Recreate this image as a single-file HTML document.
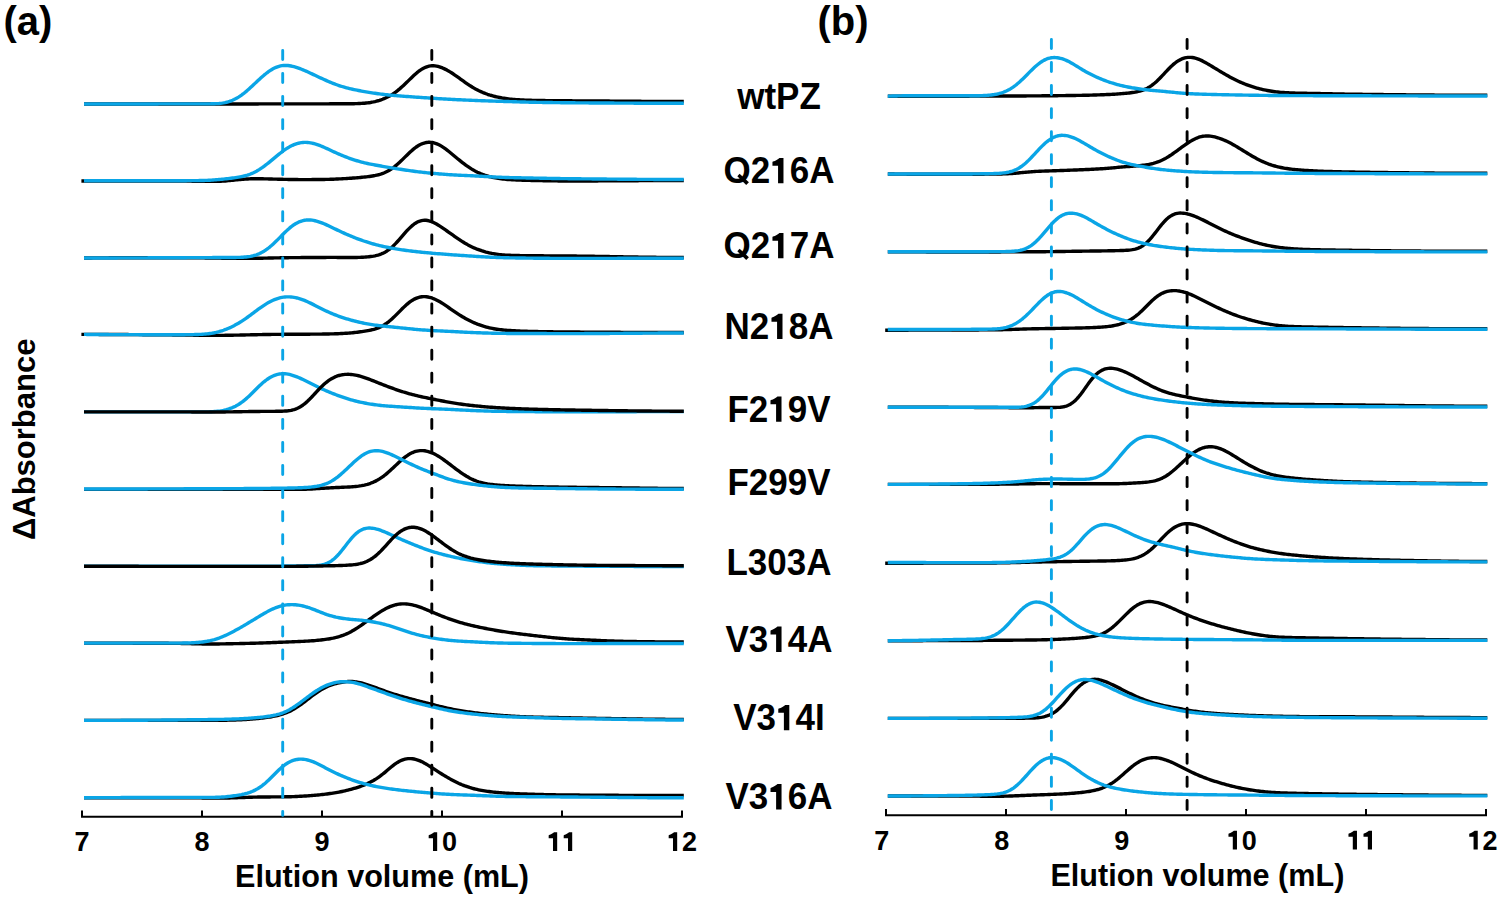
<!DOCTYPE html>
<html><head><meta charset="utf-8"><style>
html,body{margin:0;padding:0;background:#fff;}
svg{display:block;}
text{font-family:"Liberation Sans",sans-serif;font-weight:bold;fill:#000;font-kerning:none;}
.tk{font-size:27px;text-anchor:middle;}
.tt{font-size:30.6px;text-anchor:middle;}
.rl{font-size:35px;text-anchor:middle;}
.pl{font-size:40px;}
.yl{font-size:31px;text-anchor:middle;}
.one{fill-opacity:0;}
</style></head><body>
<svg width="1499" height="900" viewBox="0 0 1499 900">
<rect width="1499" height="900" fill="#fff"/>
<line x1="81" y1="816.8" x2="683" y2="816.8" stroke="#000" stroke-width="2"/>
<line x1="82" y1="810.4" x2="82" y2="816.8" stroke="#000" stroke-width="2"/>
<g transform="translate(82,851) scale(1,1.0)"><text x="0" y="0" class="tk">7</text></g>
<line x1="202" y1="810.4" x2="202" y2="816.8" stroke="#000" stroke-width="2"/>
<g transform="translate(202,851) scale(1,1.0)"><text x="0" y="0" class="tk">8</text></g>
<line x1="322" y1="810.4" x2="322" y2="816.8" stroke="#000" stroke-width="2"/>
<g transform="translate(322,851) scale(1,1.0)"><text x="0" y="0" class="tk">9</text></g>
<line x1="442" y1="810.4" x2="442" y2="816.8" stroke="#000" stroke-width="2"/>
<g transform="translate(442,851) scale(1,1.0)"><text x="0" y="0" class="tk"><tspan class="one">1</tspan>0</text><path transform="translate(-15.03,0.00) scale(0.02700,-0.02700)" d="M378 0 V692 H262 C222 662 150 612 78 590 Q63 586 63 572 V474 H223 V0 Z"/></g>
<line x1="562" y1="810.4" x2="562" y2="816.8" stroke="#000" stroke-width="2"/>
<g transform="translate(562,851) scale(1,1.0)"><text x="0" y="0" class="tk"><tspan class="one">1</tspan><tspan class="one">1</tspan></text><path transform="translate(-15.03,0.00) scale(0.02700,-0.02700)" d="M378 0 V692 H262 C222 662 150 612 78 590 Q63 586 63 572 V474 H223 V0 Z"/><path transform="translate(0.00,0.00) scale(0.02700,-0.02700)" d="M378 0 V692 H262 C222 662 150 612 78 590 Q63 586 63 572 V474 H223 V0 Z"/></g>
<line x1="682" y1="810.4" x2="682" y2="816.8" stroke="#000" stroke-width="2"/>
<g transform="translate(682,851) scale(1,1.0)"><text x="0" y="0" class="tk"><tspan class="one">1</tspan>2</text><path transform="translate(-15.03,0.00) scale(0.02700,-0.02700)" d="M378 0 V692 H262 C222 662 150 612 78 590 Q63 586 63 572 V474 H223 V0 Z"/></g>
<g transform="translate(382,887) scale(1,1.027)"><text x="0" y="0" class="tt">Elution volume (mL)</text></g>
<line x1="885" y1="815.3" x2="1487" y2="815.3" stroke="#000" stroke-width="2"/>
<line x1="886" y1="809" x2="886" y2="815.3" stroke="#000" stroke-width="2"/>
<g transform="translate(881.8,849.5) scale(1,1.0)"><text x="0" y="0" class="tk">7</text></g>
<line x1="1006" y1="809" x2="1006" y2="815.3" stroke="#000" stroke-width="2"/>
<g transform="translate(1001.8,849.5) scale(1,1.0)"><text x="0" y="0" class="tk">8</text></g>
<line x1="1126" y1="809" x2="1126" y2="815.3" stroke="#000" stroke-width="2"/>
<g transform="translate(1121.8,849.5) scale(1,1.0)"><text x="0" y="0" class="tk">9</text></g>
<line x1="1246" y1="809" x2="1246" y2="815.3" stroke="#000" stroke-width="2"/>
<g transform="translate(1241.8,849.5) scale(1,1.0)"><text x="0" y="0" class="tk"><tspan class="one">1</tspan>0</text><path transform="translate(-15.03,0.00) scale(0.02700,-0.02700)" d="M378 0 V692 H262 C222 662 150 612 78 590 Q63 586 63 572 V474 H223 V0 Z"/></g>
<line x1="1366" y1="809" x2="1366" y2="815.3" stroke="#000" stroke-width="2"/>
<g transform="translate(1361.8,849.5) scale(1,1.0)"><text x="0" y="0" class="tk"><tspan class="one">1</tspan><tspan class="one">1</tspan></text><path transform="translate(-15.03,0.00) scale(0.02700,-0.02700)" d="M378 0 V692 H262 C222 662 150 612 78 590 Q63 586 63 572 V474 H223 V0 Z"/><path transform="translate(0.00,0.00) scale(0.02700,-0.02700)" d="M378 0 V692 H262 C222 662 150 612 78 590 Q63 586 63 572 V474 H223 V0 Z"/></g>
<line x1="1486" y1="809" x2="1486" y2="815.3" stroke="#000" stroke-width="2"/>
<g transform="translate(1497.6,849.5) scale(1,1.0)"><text x="0" y="0" class="tk" style="text-anchor:end"><tspan class="one">1</tspan>2</text><path transform="translate(-30.06,0.00) scale(0.02700,-0.02700)" d="M378 0 V692 H262 C222 662 150 612 78 590 Q63 586 63 572 V474 H223 V0 Z"/></g>
<g transform="translate(1197.4,885.6) scale(1,1.027)"><text x="0" y="0" class="tt">Elution volume (mL)</text></g>
<path d="M84.0 104.00 L85.5 104.00 87.0 104.00 88.5 104.00 90.0 104.00 91.5 104.00 93.0 104.00 94.5 104.00 96.0 104.00 97.5 104.00 99.0 104.00 100.5 104.00 102.0 104.00 103.5 104.00 105.0 104.00 106.5 104.00 108.0 104.00 109.5 104.00 111.0 104.00 112.5 104.00 114.0 104.00 115.5 104.00 117.0 104.00 118.5 104.00 120.0 104.00 121.5 104.00 123.0 104.00 124.5 104.00 126.0 104.00 127.5 104.00 129.0 104.00 130.5 104.00 132.0 104.00 133.5 104.00 135.0 104.00 136.5 104.00 138.0 104.00 139.5 104.00 141.0 103.99 142.5 103.99 144.0 103.99 145.5 103.99 147.0 103.99 148.5 103.99 150.0 103.99 151.5 103.99 153.0 103.99 154.5 103.99 156.0 103.99 157.5 103.99 159.0 103.99 160.5 103.99 162.0 103.99 163.5 103.99 165.0 103.99 166.5 103.99 168.0 103.99 169.5 103.99 171.0 103.99 172.5 103.99 174.0 103.98 175.5 103.98 177.0 103.98 178.5 103.98 180.0 103.98 181.5 103.98 183.0 103.98 184.5 103.98 186.0 103.98 187.5 103.98 189.0 103.98 190.5 103.98 192.0 103.98 193.5 103.98 195.0 103.98 196.5 103.97 198.0 103.97 199.5 103.97 201.0 103.97 202.5 103.97 204.0 103.97 205.5 103.97 207.0 103.97 208.5 103.97 210.0 103.97 211.5 103.97 213.0 103.96 214.5 103.96 216.0 103.96 217.5 103.96 219.0 103.96 220.5 103.96 222.0 103.96 223.5 103.96 225.0 103.96 226.5 103.95 228.0 103.95 229.5 103.95 231.0 103.95 232.5 103.95 234.0 103.95 235.5 103.95 237.0 103.95 238.5 103.94 240.0 103.94 241.5 103.94 243.0 103.94 244.5 103.94 246.0 103.94 247.5 103.94 249.0 103.93 250.5 103.93 252.0 103.93 253.5 103.93 255.0 103.93 256.5 103.93 258.0 103.93 259.5 103.92 261.0 103.92 262.5 103.92 264.0 103.92 265.5 103.92 267.0 103.92 268.5 103.91 270.0 103.91 271.5 103.91 273.0 103.91 274.5 103.91 276.0 103.90 277.5 103.90 279.0 103.90 280.5 103.90 282.0 103.90 283.5 103.89 285.0 103.89 286.5 103.89 288.0 103.89 289.5 103.89 291.0 103.88 292.5 103.88 294.0 103.88 295.5 103.88 297.0 103.88 298.5 103.87 300.0 103.87 301.5 103.87 303.0 103.87 304.5 103.86 306.0 103.86 307.5 103.86 309.0 103.86 310.5 103.85 312.0 103.85 313.5 103.85 315.0 103.85 316.5 103.84 318.0 103.84 319.5 103.84 321.0 103.84 322.5 103.83 324.0 103.83 325.5 103.83 327.0 103.83 328.5 103.83 330.0 103.82 331.5 103.82 333.0 103.82 334.5 103.82 336.0 103.81 337.5 103.81 339.0 103.81 340.5 103.80 342.0 103.80 343.5 103.79 345.0 103.78 346.5 103.77 348.0 103.76 349.5 103.74 351.0 103.72 352.5 103.70 354.0 103.68 355.5 103.64 357.0 103.60 358.5 103.55 360.0 103.49 361.5 103.41 363.0 103.32 364.5 103.20 366.0 103.06 367.5 102.90 369.0 102.70 370.5 102.47 372.0 102.20 373.5 101.90 375.0 101.56 376.5 101.18 378.0 100.76 379.5 100.30 381.0 99.80 382.5 99.25 384.0 98.66 385.5 98.02 387.0 97.32 388.5 96.57 390.0 95.75 391.5 94.87 393.0 93.92 394.5 92.90 396.0 91.81 397.5 90.66 399.0 89.44 400.5 88.15 402.0 86.82 403.5 85.43 405.0 84.01 406.5 82.56 408.0 81.10 409.5 79.62 411.0 78.16 412.5 76.72 414.0 75.31 415.5 73.97 417.0 72.69 418.5 71.49 420.0 70.39 421.5 69.39 423.0 68.50 424.5 67.73 426.0 67.08 427.5 66.56 429.0 66.17 430.5 65.91 432.0 65.78 433.5 65.78 435.0 65.89 436.5 66.12 438.0 66.44 439.5 66.87 441.0 67.38 442.5 67.96 444.0 68.62 445.5 69.35 447.0 70.13 448.5 70.97 450.0 71.86 451.5 72.80 453.0 73.78 454.5 74.79 456.0 75.82 457.5 76.88 459.0 77.96 460.5 79.04 462.0 80.12 463.5 81.19 465.0 82.26 466.5 83.31 468.0 84.33 469.5 85.33 471.0 86.29 472.5 87.22 474.0 88.10 475.5 88.95 477.0 89.75 478.5 90.52 480.0 91.24 481.5 91.92 483.0 92.56 484.5 93.16 486.0 93.73 487.5 94.27 489.0 94.77 490.5 95.25 492.0 95.69 493.5 96.10 495.0 96.49 496.5 96.85 498.0 97.19 499.5 97.50 501.0 97.78 502.5 98.05 504.0 98.29 505.5 98.51 507.0 98.72 508.5 98.90 510.0 99.07 511.5 99.22 513.0 99.36 514.5 99.48 516.0 99.59 517.5 99.69 519.0 99.78 520.5 99.87 522.0 99.94 523.5 100.01 525.0 100.08 526.5 100.14 528.0 100.19 529.5 100.24 531.0 100.29 532.5 100.33 534.0 100.37 535.5 100.41 537.0 100.44 538.5 100.47 540.0 100.50 541.5 100.52 543.0 100.55 544.5 100.57 546.0 100.59 547.5 100.61 549.0 100.63 550.5 100.64 552.0 100.66 553.5 100.68 555.0 100.69 556.5 100.70 558.0 100.72 559.5 100.73 561.0 100.74 562.5 100.75 564.0 100.77 565.5 100.78 567.0 100.79 568.5 100.80 570.0 100.81 571.5 100.82 573.0 100.83 574.5 100.84 576.0 100.85 577.5 100.86 579.0 100.87 580.5 100.88 582.0 100.89 583.5 100.90 585.0 100.91 586.5 100.91 588.0 100.92 589.5 100.93 591.0 100.94 592.5 100.95 594.0 100.96 595.5 100.97 597.0 100.98 598.5 100.99 600.0 101.00 601.5 101.01 603.0 101.02 604.5 101.03 606.0 101.04 607.5 101.06 609.0 101.07 610.5 101.08 612.0 101.09 613.5 101.10 615.0 101.11 616.5 101.13 618.0 101.14 619.5 101.15 621.0 101.16 622.5 101.17 624.0 101.19 625.5 101.20 627.0 101.21 628.5 101.22 630.0 101.24 631.5 101.25 633.0 101.26 634.5 101.27 636.0 101.28 637.5 101.29 639.0 101.30 640.5 101.32 642.0 101.33 643.5 101.34 645.0 101.35 646.5 101.36 648.0 101.37 649.5 101.38 651.0 101.39 652.5 101.40 654.0 101.41 655.5 101.41 657.0 101.42 658.5 101.43 660.0 101.44 661.5 101.45 663.0 101.45 664.5 101.46 666.0 101.46 667.5 101.47 669.0 101.47 670.5 101.48 672.0 101.48 673.5 101.49 675.0 101.49 676.5 101.49 678.0 101.50 679.5 101.50 681.0 101.50 682.5 101.50 683.8 101.51" fill="none" stroke="#000000" stroke-width="3.4" stroke-linejoin="round" stroke-linecap="butt"/>
<path d="M84.0 104.00 L85.5 104.00 87.0 104.00 88.5 104.00 90.0 104.00 91.5 104.00 93.0 104.00 94.5 104.00 96.0 104.00 97.5 104.00 99.0 104.00 100.5 104.00 102.0 104.00 103.5 104.00 105.0 103.99 106.5 103.99 108.0 103.99 109.5 103.99 111.0 103.99 112.5 103.99 114.0 103.99 115.5 103.99 117.0 103.99 118.5 103.99 120.0 103.98 121.5 103.98 123.0 103.98 124.5 103.98 126.0 103.98 127.5 103.98 129.0 103.97 130.5 103.97 132.0 103.97 133.5 103.97 135.0 103.97 136.5 103.96 138.0 103.96 139.5 103.96 141.0 103.96 142.5 103.96 144.0 103.95 145.5 103.95 147.0 103.95 148.5 103.95 150.0 103.94 151.5 103.94 153.0 103.94 154.5 103.93 156.0 103.93 157.5 103.93 159.0 103.92 160.5 103.92 162.0 103.92 163.5 103.91 165.0 103.91 166.5 103.91 168.0 103.90 169.5 103.90 171.0 103.89 172.5 103.89 174.0 103.88 175.5 103.88 177.0 103.88 178.5 103.87 180.0 103.87 181.5 103.86 183.0 103.86 184.5 103.85 186.0 103.85 187.5 103.84 189.0 103.84 190.5 103.84 192.0 103.84 193.5 103.83 195.0 103.83 196.5 103.83 198.0 103.84 199.5 103.84 201.0 103.84 202.5 103.84 204.0 103.85 205.5 103.85 207.0 103.85 208.5 103.84 210.0 103.83 211.5 103.81 213.0 103.78 214.5 103.74 216.0 103.67 217.5 103.58 219.0 103.47 220.5 103.32 222.0 103.13 223.5 102.89 225.0 102.60 226.5 102.26 228.0 101.86 229.5 101.39 231.0 100.85 232.5 100.25 234.0 99.57 235.5 98.82 237.0 97.99 238.5 97.10 240.0 96.13 241.5 95.09 243.0 93.98 244.5 92.81 246.0 91.58 247.5 90.30 249.0 88.97 250.5 87.60 252.0 86.20 253.5 84.79 255.0 83.37 256.5 81.95 258.0 80.54 259.5 79.14 261.0 77.78 262.5 76.46 264.0 75.17 265.5 73.95 267.0 72.78 268.5 71.68 270.0 70.65 271.5 69.70 273.0 68.84 274.5 68.06 276.0 67.38 277.5 66.80 279.0 66.32 280.5 65.95 282.0 65.67 283.5 65.50 285.0 65.42 286.5 65.44 288.0 65.54 289.5 65.72 291.0 65.98 292.5 66.30 294.0 66.68 295.5 67.11 297.0 67.58 298.5 68.09 300.0 68.65 301.5 69.23 303.0 69.84 304.5 70.48 306.0 71.14 307.5 71.82 309.0 72.51 310.5 73.21 312.0 73.91 313.5 74.62 315.0 75.33 316.5 76.04 318.0 76.75 319.5 77.45 321.0 78.14 322.5 78.83 324.0 79.50 325.5 80.17 327.0 80.83 328.5 81.48 330.0 82.11 331.5 82.73 333.0 83.33 334.5 83.92 336.0 84.48 337.5 85.02 339.0 85.54 340.5 86.03 342.0 86.50 343.5 86.95 345.0 87.38 346.5 87.78 348.0 88.17 349.5 88.55 351.0 88.90 352.5 89.24 354.0 89.57 355.5 89.89 357.0 90.20 358.5 90.50 360.0 90.79 361.5 91.08 363.0 91.35 364.5 91.62 366.0 91.88 367.5 92.14 369.0 92.39 370.5 92.63 372.0 92.86 373.5 93.09 375.0 93.30 376.5 93.52 378.0 93.72 379.5 93.92 381.0 94.10 382.5 94.28 384.0 94.46 385.5 94.62 387.0 94.78 388.5 94.94 390.0 95.09 391.5 95.23 393.0 95.37 394.5 95.50 396.0 95.63 397.5 95.76 399.0 95.88 400.5 96.00 402.0 96.12 403.5 96.23 405.0 96.35 406.5 96.46 408.0 96.57 409.5 96.67 411.0 96.78 412.5 96.89 414.0 96.99 415.5 97.10 417.0 97.20 418.5 97.30 420.0 97.41 421.5 97.51 423.0 97.61 424.5 97.71 426.0 97.81 427.5 97.91 429.0 98.01 430.5 98.11 432.0 98.21 433.5 98.30 435.0 98.40 436.5 98.49 438.0 98.59 439.5 98.68 441.0 98.77 442.5 98.86 444.0 98.94 445.5 99.03 447.0 99.12 448.5 99.20 450.0 99.28 451.5 99.36 453.0 99.44 454.5 99.52 456.0 99.60 457.5 99.68 459.0 99.75 460.5 99.82 462.0 99.90 463.5 99.97 465.0 100.04 466.5 100.10 468.0 100.17 469.5 100.24 471.0 100.30 472.5 100.36 474.0 100.42 475.5 100.48 477.0 100.54 478.5 100.59 480.0 100.65 481.5 100.70 483.0 100.75 484.5 100.81 486.0 100.86 487.5 100.91 489.0 100.96 490.5 101.00 492.0 101.05 493.5 101.10 495.0 101.15 496.5 101.19 498.0 101.24 499.5 101.29 501.0 101.34 502.5 101.38 504.0 101.43 505.5 101.48 507.0 101.52 508.5 101.57 510.0 101.62 511.5 101.67 513.0 101.71 514.5 101.76 516.0 101.81 517.5 101.85 519.0 101.90 520.5 101.94 522.0 101.98 523.5 102.03 525.0 102.07 526.5 102.11 528.0 102.15 529.5 102.18 531.0 102.22 532.5 102.25 534.0 102.28 535.5 102.31 537.0 102.34 538.5 102.37 540.0 102.40 541.5 102.42 543.0 102.45 544.5 102.47 546.0 102.49 547.5 102.51 549.0 102.53 550.5 102.55 552.0 102.57 553.5 102.59 555.0 102.61 556.5 102.63 558.0 102.64 559.5 102.66 561.0 102.68 562.5 102.69 564.0 102.71 565.5 102.73 567.0 102.74 568.5 102.76 570.0 102.77 571.5 102.79 573.0 102.80 574.5 102.82 576.0 102.83 577.5 102.84 579.0 102.85 580.5 102.87 582.0 102.88 583.5 102.89 585.0 102.90 586.5 102.91 588.0 102.92 589.5 102.93 591.0 102.94 592.5 102.95 594.0 102.96 595.5 102.97 597.0 102.98 598.5 102.99 600.0 103.00 601.5 103.01 603.0 103.02 604.5 103.03 606.0 103.03 607.5 103.04 609.0 103.05 610.5 103.06 612.0 103.07 613.5 103.07 615.0 103.08 616.5 103.09 618.0 103.10 619.5 103.10 621.0 103.11 622.5 103.12 624.0 103.13 625.5 103.13 627.0 103.14 628.5 103.15 630.0 103.16 631.5 103.16 633.0 103.17 634.5 103.18 636.0 103.18 637.5 103.19 639.0 103.20 640.5 103.20 642.0 103.21 643.5 103.21 645.0 103.22 646.5 103.23 648.0 103.23 649.5 103.24 651.0 103.24 652.5 103.25 654.0 103.25 655.5 103.26 657.0 103.26 658.5 103.26 660.0 103.27 661.5 103.27 663.0 103.28 664.5 103.28 666.0 103.28 667.5 103.28 669.0 103.29 670.5 103.29 672.0 103.29 673.5 103.29 675.0 103.30 676.5 103.30 678.0 103.30 679.5 103.30 681.0 103.30 682.5 103.30 683.8 103.30" fill="none" stroke="#0aa5e6" stroke-width="3.4" stroke-linejoin="round" stroke-linecap="butt"/>
<path d="M81.4 181.00 L82.9 181.00 84.4 181.00 85.9 181.00 87.4 181.00 88.9 181.00 90.4 181.00 91.9 181.00 93.4 181.00 94.9 181.00 96.4 181.00 97.9 181.00 99.4 181.00 100.9 181.00 102.4 181.00 103.9 181.00 105.4 181.01 106.9 181.01 108.4 181.01 109.9 181.01 111.4 181.01 112.9 181.01 114.4 181.01 115.9 181.01 117.4 181.01 118.9 181.01 120.4 181.02 121.9 181.02 123.4 181.02 124.9 181.02 126.4 181.02 127.9 181.02 129.4 181.02 130.9 181.02 132.4 181.03 133.9 181.03 135.4 181.03 136.9 181.03 138.4 181.03 139.9 181.04 141.4 181.04 142.9 181.04 144.4 181.04 145.9 181.04 147.4 181.04 148.9 181.05 150.4 181.05 151.9 181.05 153.4 181.05 154.9 181.06 156.4 181.06 157.9 181.06 159.4 181.06 160.9 181.06 162.4 181.07 163.9 181.07 165.4 181.07 166.9 181.07 168.4 181.07 169.9 181.08 171.4 181.08 172.9 181.08 174.4 181.09 175.9 181.09 177.4 181.09 178.9 181.10 180.4 181.10 181.9 181.11 183.4 181.12 184.9 181.13 186.4 181.14 187.9 181.15 189.4 181.16 190.9 181.17 192.4 181.19 193.9 181.20 195.4 181.22 196.9 181.24 198.4 181.26 199.9 181.28 201.4 181.30 202.9 181.32 204.4 181.34 205.9 181.36 207.4 181.38 208.9 181.39 210.4 181.40 211.9 181.41 213.4 181.40 214.9 181.39 216.4 181.37 217.9 181.34 219.4 181.29 220.9 181.23 222.4 181.15 223.9 181.05 225.4 180.94 226.9 180.82 228.4 180.68 229.9 180.53 231.4 180.37 232.9 180.21 234.4 180.05 235.9 179.89 237.4 179.74 238.9 179.59 240.4 179.45 241.9 179.32 243.4 179.20 244.9 179.10 246.4 179.01 247.9 178.93 249.4 178.87 250.9 178.81 252.4 178.78 253.9 178.75 255.4 178.74 256.9 178.74 258.4 178.75 259.9 178.76 261.4 178.78 262.9 178.81 264.4 178.85 265.9 178.88 267.4 178.92 268.9 178.96 270.4 179.00 271.9 179.04 273.4 179.08 274.9 179.12 276.4 179.16 277.9 179.20 279.4 179.24 280.9 179.28 282.4 179.32 283.9 179.35 285.4 179.39 286.9 179.42 288.4 179.45 289.9 179.48 291.4 179.50 292.9 179.52 294.4 179.54 295.9 179.56 297.4 179.57 298.9 179.58 300.4 179.59 301.9 179.59 303.4 179.60 304.9 179.60 306.4 179.59 307.9 179.59 309.4 179.58 310.9 179.58 312.4 179.57 313.9 179.56 315.4 179.55 316.9 179.53 318.4 179.52 319.9 179.50 321.4 179.48 322.9 179.46 324.4 179.43 325.9 179.41 327.4 179.37 328.9 179.34 330.4 179.29 331.9 179.25 333.4 179.19 334.9 179.13 336.4 179.07 337.9 179.00 339.4 178.92 340.9 178.84 342.4 178.76 343.9 178.67 345.4 178.58 346.9 178.48 348.4 178.38 349.9 178.28 351.4 178.18 352.9 178.07 354.4 177.95 355.9 177.84 357.4 177.71 358.9 177.58 360.4 177.45 361.9 177.31 363.4 177.16 364.9 177.00 366.4 176.82 367.9 176.64 369.4 176.44 370.9 176.22 372.4 175.98 373.9 175.72 375.4 175.43 376.9 175.10 378.4 174.74 379.9 174.32 381.4 173.85 382.9 173.32 384.4 172.73 385.9 172.06 387.4 171.31 388.9 170.48 390.4 169.57 391.9 168.58 393.4 167.51 394.9 166.35 396.4 165.13 397.9 163.83 399.4 162.47 400.9 161.06 402.4 159.61 403.9 158.14 405.4 156.65 406.9 155.17 408.4 153.72 409.9 152.30 411.4 150.93 412.9 149.63 414.4 148.41 415.9 147.27 417.4 146.24 418.9 145.32 420.4 144.51 421.9 143.82 423.4 143.26 424.9 142.82 426.4 142.51 427.9 142.32 429.4 142.26 430.9 142.33 432.4 142.53 433.9 142.85 435.4 143.29 436.9 143.84 438.4 144.51 439.9 145.28 441.4 146.14 442.9 147.09 444.4 148.11 445.9 149.20 447.4 150.35 448.9 151.54 450.4 152.75 451.9 153.99 453.4 155.24 454.9 156.49 456.4 157.74 457.9 158.97 459.4 160.19 460.9 161.39 462.4 162.57 463.9 163.71 465.4 164.82 466.9 165.90 468.4 166.93 469.9 167.92 471.4 168.87 472.9 169.77 474.4 170.62 475.9 171.43 477.4 172.18 478.9 172.88 480.4 173.54 481.9 174.15 483.4 174.72 484.9 175.24 486.4 175.73 487.9 176.17 489.4 176.59 490.9 176.97 492.4 177.32 493.9 177.64 495.4 177.93 496.9 178.19 498.4 178.43 499.9 178.65 501.4 178.85 502.9 179.02 504.4 179.18 505.9 179.31 507.4 179.44 508.9 179.55 510.4 179.65 511.9 179.74 513.4 179.82 514.9 179.89 516.4 179.96 517.9 180.02 519.4 180.08 520.9 180.14 522.4 180.19 523.9 180.23 525.4 180.28 526.9 180.32 528.4 180.36 529.9 180.40 531.4 180.44 532.9 180.48 534.4 180.51 535.9 180.54 537.4 180.58 538.9 180.61 540.4 180.64 541.9 180.67 543.4 180.70 544.9 180.73 546.4 180.76 547.9 180.78 549.4 180.81 550.9 180.83 552.4 180.85 553.9 180.88 555.4 180.90 556.9 180.91 558.4 180.93 559.9 180.94 561.4 180.96 562.9 180.97 564.4 180.98 565.9 180.99 567.4 180.99 568.9 181.00 570.4 181.00 571.9 181.00 573.4 181.00 574.9 181.00 576.4 181.00 577.9 181.00 579.4 180.99 580.9 180.99 582.4 180.99 583.9 180.98 585.4 180.98 586.9 180.97 588.4 180.97 589.9 180.96 591.4 180.95 592.9 180.95 594.4 180.94 595.9 180.93 597.4 180.93 598.9 180.92 600.4 180.91 601.9 180.90 603.4 180.89 604.9 180.89 606.4 180.88 607.9 180.87 609.4 180.86 610.9 180.85 612.4 180.84 613.9 180.83 615.4 180.82 616.9 180.81 618.4 180.80 619.9 180.79 621.4 180.78 622.9 180.77 624.4 180.76 625.9 180.75 627.4 180.74 628.9 180.73 630.4 180.72 631.9 180.71 633.4 180.70 634.9 180.69 636.4 180.68 637.9 180.68 639.4 180.67 640.9 180.66 642.4 180.65 643.9 180.64 645.4 180.63 646.9 180.62 648.4 180.61 649.9 180.60 651.4 180.60 652.9 180.59 654.4 180.58 655.9 180.57 657.4 180.57 658.9 180.56 660.4 180.55 661.9 180.55 663.4 180.54 664.9 180.54 666.4 180.53 667.9 180.53 669.4 180.52 670.9 180.52 672.4 180.51 673.9 180.51 675.4 180.51 676.9 180.51 678.4 180.50 679.9 180.50 681.4 180.50 682.9 180.50 683.8 180.50" fill="none" stroke="#000000" stroke-width="3.4" stroke-linejoin="round" stroke-linecap="butt"/>
<path d="M84.0 180.80 L85.5 180.80 87.0 180.80 88.5 180.80 90.0 180.80 91.5 180.80 93.0 180.80 94.5 180.80 96.0 180.80 97.5 180.80 99.0 180.80 100.5 180.80 102.0 180.80 103.5 180.80 105.0 180.80 106.5 180.80 108.0 180.79 109.5 180.79 111.0 180.79 112.5 180.79 114.0 180.79 115.5 180.79 117.0 180.79 118.5 180.79 120.0 180.79 121.5 180.79 123.0 180.79 124.5 180.78 126.0 180.78 127.5 180.78 129.0 180.78 130.5 180.78 132.0 180.78 133.5 180.78 135.0 180.77 136.5 180.77 138.0 180.77 139.5 180.77 141.0 180.77 142.5 180.77 144.0 180.76 145.5 180.76 147.0 180.76 148.5 180.76 150.0 180.76 151.5 180.75 153.0 180.75 154.5 180.75 156.0 180.75 157.5 180.74 159.0 180.74 160.5 180.74 162.0 180.74 163.5 180.73 165.0 180.73 166.5 180.73 168.0 180.73 169.5 180.72 171.0 180.72 172.5 180.72 174.0 180.72 175.5 180.71 177.0 180.71 178.5 180.71 180.0 180.70 181.5 180.70 183.0 180.69 184.5 180.69 186.0 180.68 187.5 180.67 189.0 180.67 190.5 180.66 192.0 180.65 193.5 180.63 195.0 180.62 196.5 180.60 198.0 180.58 199.5 180.55 201.0 180.52 202.5 180.49 204.0 180.44 205.5 180.39 207.0 180.33 208.5 180.27 210.0 180.19 211.5 180.10 213.0 180.00 214.5 179.90 216.0 179.78 217.5 179.66 219.0 179.53 220.5 179.39 222.0 179.24 223.5 179.09 225.0 178.93 226.5 178.77 228.0 178.60 229.5 178.43 231.0 178.24 232.5 178.05 234.0 177.85 235.5 177.63 237.0 177.40 238.5 177.15 240.0 176.88 241.5 176.58 243.0 176.26 244.5 175.89 246.0 175.49 247.5 175.03 249.0 174.53 250.5 173.98 252.0 173.37 253.5 172.70 255.0 171.97 256.5 171.18 258.0 170.33 259.5 169.42 261.0 168.44 262.5 167.42 264.0 166.33 265.5 165.20 267.0 164.03 268.5 162.83 270.0 161.60 271.5 160.36 273.0 159.10 274.5 157.85 276.0 156.60 277.5 155.37 279.0 154.16 280.5 152.98 282.0 151.83 283.5 150.73 285.0 149.67 286.5 148.67 288.0 147.73 289.5 146.85 291.0 146.05 292.5 145.32 294.0 144.67 295.5 144.11 297.0 143.62 298.5 143.22 300.0 142.90 301.5 142.66 303.0 142.50 304.5 142.42 306.0 142.41 307.5 142.49 309.0 142.63 310.5 142.84 312.0 143.12 313.5 143.47 315.0 143.87 316.5 144.33 318.0 144.84 319.5 145.39 321.0 145.99 322.5 146.62 324.0 147.27 325.5 147.94 327.0 148.63 328.5 149.33 330.0 150.03 331.5 150.73 333.0 151.43 334.5 152.12 336.0 152.80 337.5 153.48 339.0 154.13 340.5 154.78 342.0 155.40 343.5 156.01 345.0 156.61 346.5 157.18 348.0 157.74 349.5 158.28 351.0 158.81 352.5 159.32 354.0 159.81 355.5 160.29 357.0 160.75 358.5 161.19 360.0 161.61 361.5 162.02 363.0 162.41 364.5 162.78 366.0 163.14 367.5 163.48 369.0 163.80 370.5 164.11 372.0 164.41 373.5 164.70 375.0 164.98 376.5 165.25 378.0 165.52 379.5 165.79 381.0 166.05 382.5 166.31 384.0 166.57 385.5 166.82 387.0 167.08 388.5 167.33 390.0 167.59 391.5 167.84 393.0 168.09 394.5 168.33 396.0 168.58 397.5 168.82 399.0 169.06 400.5 169.29 402.0 169.53 403.5 169.75 405.0 169.98 406.5 170.20 408.0 170.42 409.5 170.63 411.0 170.84 412.5 171.05 414.0 171.25 415.5 171.45 417.0 171.64 418.5 171.82 420.0 172.00 421.5 172.18 423.0 172.35 424.5 172.52 426.0 172.68 427.5 172.83 429.0 172.98 430.5 173.13 432.0 173.28 433.5 173.42 435.0 173.55 436.5 173.68 438.0 173.81 439.5 173.94 441.0 174.06 442.5 174.17 444.0 174.28 445.5 174.39 447.0 174.49 448.5 174.59 450.0 174.69 451.5 174.78 453.0 174.87 454.5 174.95 456.0 175.03 457.5 175.11 459.0 175.18 460.5 175.26 462.0 175.33 463.5 175.40 465.0 175.47 466.5 175.53 468.0 175.60 469.5 175.67 471.0 175.74 472.5 175.82 474.0 175.89 475.5 175.96 477.0 176.04 478.5 176.12 480.0 176.20 481.5 176.28 483.0 176.36 484.5 176.45 486.0 176.53 487.5 176.62 489.0 176.70 490.5 176.78 492.0 176.86 493.5 176.94 495.0 177.02 496.5 177.09 498.0 177.16 499.5 177.23 501.0 177.29 502.5 177.35 504.0 177.40 505.5 177.45 507.0 177.50 508.5 177.54 510.0 177.59 511.5 177.62 513.0 177.66 514.5 177.69 516.0 177.73 517.5 177.76 519.0 177.79 520.5 177.82 522.0 177.85 523.5 177.88 525.0 177.91 526.5 177.94 528.0 177.97 529.5 177.99 531.0 178.02 532.5 178.05 534.0 178.08 535.5 178.11 537.0 178.14 538.5 178.17 540.0 178.20 541.5 178.23 543.0 178.26 544.5 178.29 546.0 178.32 547.5 178.35 549.0 178.37 550.5 178.40 552.0 178.43 553.5 178.46 555.0 178.48 556.5 178.51 558.0 178.53 559.5 178.56 561.0 178.58 562.5 178.60 564.0 178.62 565.5 178.64 567.0 178.66 568.5 178.68 570.0 178.70 571.5 178.72 573.0 178.73 574.5 178.75 576.0 178.77 577.5 178.78 579.0 178.80 580.5 178.82 582.0 178.83 583.5 178.85 585.0 178.86 586.5 178.88 588.0 178.89 589.5 178.91 591.0 178.92 592.5 178.94 594.0 178.95 595.5 178.97 597.0 178.98 598.5 179.00 600.0 179.01 601.5 179.03 603.0 179.04 604.5 179.06 606.0 179.07 607.5 179.09 609.0 179.10 610.5 179.11 612.0 179.13 613.5 179.14 615.0 179.16 616.5 179.17 618.0 179.18 619.5 179.20 621.0 179.21 622.5 179.22 624.0 179.23 625.5 179.24 627.0 179.26 628.5 179.27 630.0 179.28 631.5 179.29 633.0 179.30 634.5 179.31 636.0 179.32 637.5 179.33 639.0 179.34 640.5 179.35 642.0 179.36 643.5 179.37 645.0 179.38 646.5 179.39 648.0 179.40 649.5 179.41 651.0 179.41 652.5 179.42 654.0 179.43 655.5 179.44 657.0 179.44 658.5 179.45 660.0 179.45 661.5 179.46 663.0 179.46 664.5 179.47 666.0 179.47 667.5 179.48 669.0 179.48 670.5 179.48 672.0 179.49 673.5 179.49 675.0 179.49 676.5 179.50 678.0 179.50 679.5 179.50 681.0 179.50 682.5 179.50 683.8 179.50" fill="none" stroke="#0aa5e6" stroke-width="3.4" stroke-linejoin="round" stroke-linecap="butt"/>
<path d="M84.0 258.00 L85.5 257.98 87.0 257.97 88.5 257.96 90.0 257.95 91.5 257.94 93.0 257.92 94.5 257.91 96.0 257.90 97.5 257.89 99.0 257.88 100.5 257.87 102.0 257.86 103.5 257.85 105.0 257.84 106.5 257.84 108.0 257.83 109.5 257.82 111.0 257.81 112.5 257.80 114.0 257.80 115.5 257.79 117.0 257.78 118.5 257.78 120.0 257.77 121.5 257.77 123.0 257.76 124.5 257.76 126.0 257.75 127.5 257.75 129.0 257.74 130.5 257.74 132.0 257.74 133.5 257.73 135.0 257.73 136.5 257.73 138.0 257.73 139.5 257.72 141.0 257.72 142.5 257.72 144.0 257.72 145.5 257.71 147.0 257.71 148.5 257.71 150.0 257.71 151.5 257.71 153.0 257.71 154.5 257.71 156.0 257.70 157.5 257.70 159.0 257.70 160.5 257.70 162.0 257.70 163.5 257.70 165.0 257.70 166.5 257.70 168.0 257.70 169.5 257.70 171.0 257.70 172.5 257.70 174.0 257.70 175.5 257.70 177.0 257.70 178.5 257.70 180.0 257.70 181.5 257.71 183.0 257.71 184.5 257.72 186.0 257.72 187.5 257.73 189.0 257.74 190.5 257.75 192.0 257.76 193.5 257.78 195.0 257.79 196.5 257.81 198.0 257.83 199.5 257.85 201.0 257.87 202.5 257.89 204.0 257.91 205.5 257.93 207.0 257.95 208.5 257.97 210.0 258.00 211.5 258.02 213.0 258.04 214.5 258.07 216.0 258.09 217.5 258.11 219.0 258.14 220.5 258.16 222.0 258.18 223.5 258.21 225.0 258.23 226.5 258.25 228.0 258.27 229.5 258.29 231.0 258.30 232.5 258.32 234.0 258.34 235.5 258.35 237.0 258.36 238.5 258.37 240.0 258.38 241.5 258.39 243.0 258.39 244.5 258.39 246.0 258.39 247.5 258.39 249.0 258.38 250.5 258.37 252.0 258.36 253.5 258.34 255.0 258.32 256.5 258.30 258.0 258.28 259.5 258.25 261.0 258.22 262.5 258.19 264.0 258.16 265.5 258.12 267.0 258.09 268.5 258.05 270.0 258.02 271.5 257.98 273.0 257.95 274.5 257.92 276.0 257.88 277.5 257.85 279.0 257.83 280.5 257.80 282.0 257.77 283.5 257.75 285.0 257.73 286.5 257.71 288.0 257.69 289.5 257.67 291.0 257.66 292.5 257.65 294.0 257.63 295.5 257.62 297.0 257.61 298.5 257.59 300.0 257.58 301.5 257.57 303.0 257.56 304.5 257.55 306.0 257.54 307.5 257.53 309.0 257.52 310.5 257.51 312.0 257.50 313.5 257.49 315.0 257.48 316.5 257.47 318.0 257.46 319.5 257.45 321.0 257.45 322.5 257.44 324.0 257.43 325.5 257.43 327.0 257.42 328.5 257.42 330.0 257.42 331.5 257.42 333.0 257.42 334.5 257.42 336.0 257.42 337.5 257.43 339.0 257.44 340.5 257.44 342.0 257.45 343.5 257.46 345.0 257.47 346.5 257.48 348.0 257.49 349.5 257.49 351.0 257.49 352.5 257.48 354.0 257.47 355.5 257.45 357.0 257.43 358.5 257.39 360.0 257.34 361.5 257.28 363.0 257.21 364.5 257.12 366.0 257.01 367.5 256.88 369.0 256.73 370.5 256.55 372.0 256.34 373.5 256.09 375.0 255.80 376.5 255.45 378.0 255.05 379.5 254.59 381.0 254.05 382.5 253.42 384.0 252.71 385.5 251.89 387.0 250.96 388.5 249.93 390.0 248.78 391.5 247.51 393.0 246.14 394.5 244.67 396.0 243.12 397.5 241.48 399.0 239.80 400.5 238.08 402.0 236.34 403.5 234.60 405.0 232.89 406.5 231.22 408.0 229.62 409.5 228.11 411.0 226.69 412.5 225.39 414.0 224.22 415.5 223.19 417.0 222.31 418.5 221.59 420.0 221.02 421.5 220.61 423.0 220.36 424.5 220.26 426.0 220.31 427.5 220.50 429.0 220.82 430.5 221.27 432.0 221.83 433.5 222.50 435.0 223.25 436.5 224.08 438.0 224.98 439.5 225.92 441.0 226.89 442.5 227.89 444.0 228.92 445.5 229.95 447.0 231.00 448.5 232.05 450.0 233.11 451.5 234.17 453.0 235.23 454.5 236.29 456.0 237.34 457.5 238.37 459.0 239.39 460.5 240.38 462.0 241.35 463.5 242.28 465.0 243.19 466.5 244.05 468.0 244.89 469.5 245.68 471.0 246.44 472.5 247.16 474.0 247.84 475.5 248.48 477.0 249.09 478.5 249.66 480.0 250.20 481.5 250.71 483.0 251.18 484.5 251.62 486.0 252.04 487.5 252.42 489.0 252.78 490.5 253.11 492.0 253.42 493.5 253.69 495.0 253.95 496.5 254.18 498.0 254.39 499.5 254.57 501.0 254.73 502.5 254.87 504.0 254.99 505.5 255.09 507.0 255.18 508.5 255.26 510.0 255.32 511.5 255.38 513.0 255.42 514.5 255.46 516.0 255.50 517.5 255.53 519.0 255.56 520.5 255.58 522.0 255.60 523.5 255.63 525.0 255.65 526.5 255.66 528.0 255.68 529.5 255.70 531.0 255.71 532.5 255.73 534.0 255.74 535.5 255.76 537.0 255.77 538.5 255.78 540.0 255.80 541.5 255.81 543.0 255.82 544.5 255.83 546.0 255.84 547.5 255.85 549.0 255.86 550.5 255.87 552.0 255.88 553.5 255.88 555.0 255.89 556.5 255.90 558.0 255.91 559.5 255.92 561.0 255.93 562.5 255.94 564.0 255.95 565.5 255.96 567.0 255.98 568.5 255.99 570.0 256.00 571.5 256.02 573.0 256.03 574.5 256.05 576.0 256.06 577.5 256.08 579.0 256.10 580.5 256.12 582.0 256.14 583.5 256.16 585.0 256.18 586.5 256.20 588.0 256.22 589.5 256.24 591.0 256.26 592.5 256.29 594.0 256.31 595.5 256.34 597.0 256.36 598.5 256.38 600.0 256.41 601.5 256.44 603.0 256.46 604.5 256.49 606.0 256.51 607.5 256.54 609.0 256.57 610.5 256.59 612.0 256.62 613.5 256.65 615.0 256.67 616.5 256.70 618.0 256.73 619.5 256.76 621.0 256.78 622.5 256.81 624.0 256.84 625.5 256.86 627.0 256.89 628.5 256.91 630.0 256.94 631.5 256.97 633.0 256.99 634.5 257.02 636.0 257.04 637.5 257.07 639.0 257.09 640.5 257.11 642.0 257.14 643.5 257.16 645.0 257.18 646.5 257.21 648.0 257.23 649.5 257.25 651.0 257.27 652.5 257.29 654.0 257.31 655.5 257.32 657.0 257.34 658.5 257.36 660.0 257.37 661.5 257.39 663.0 257.40 664.5 257.41 666.0 257.43 667.5 257.44 669.0 257.45 670.5 257.46 672.0 257.46 673.5 257.47 675.0 257.48 676.5 257.49 678.0 257.49 679.5 257.50 681.0 257.50 682.5 257.51 683.8 257.51" fill="none" stroke="#000000" stroke-width="3.4" stroke-linejoin="round" stroke-linecap="butt"/>
<path d="M84.0 258.00 L85.5 258.00 87.0 258.00 88.5 257.99 90.0 257.99 91.5 257.99 93.0 257.98 94.5 257.98 96.0 257.98 97.5 257.98 99.0 257.97 100.5 257.97 102.0 257.97 103.5 257.96 105.0 257.96 106.5 257.95 108.0 257.95 109.5 257.95 111.0 257.94 112.5 257.94 114.0 257.94 115.5 257.93 117.0 257.93 118.5 257.92 120.0 257.92 121.5 257.91 123.0 257.91 124.5 257.91 126.0 257.90 127.5 257.90 129.0 257.89 130.5 257.89 132.0 257.88 133.5 257.88 135.0 257.87 136.5 257.87 138.0 257.86 139.5 257.86 141.0 257.85 142.5 257.85 144.0 257.84 145.5 257.83 147.0 257.83 148.5 257.82 150.0 257.82 151.5 257.81 153.0 257.81 154.5 257.80 156.0 257.80 157.5 257.79 159.0 257.78 160.5 257.78 162.0 257.77 163.5 257.77 165.0 257.76 166.5 257.75 168.0 257.75 169.5 257.74 171.0 257.74 172.5 257.73 174.0 257.72 175.5 257.72 177.0 257.71 178.5 257.71 180.0 257.70 181.5 257.70 183.0 257.69 184.5 257.68 186.0 257.68 187.5 257.67 189.0 257.67 190.5 257.66 192.0 257.66 193.5 257.65 195.0 257.65 196.5 257.64 198.0 257.63 199.5 257.63 201.0 257.62 202.5 257.62 204.0 257.61 205.5 257.60 207.0 257.60 208.5 257.59 210.0 257.58 211.5 257.58 213.0 257.57 214.5 257.56 216.0 257.55 217.5 257.55 219.0 257.54 220.5 257.54 222.0 257.53 223.5 257.52 225.0 257.52 226.5 257.51 228.0 257.51 229.5 257.50 231.0 257.49 232.5 257.48 234.0 257.47 235.5 257.45 237.0 257.42 238.5 257.38 240.0 257.33 241.5 257.26 243.0 257.18 244.5 257.07 246.0 256.94 247.5 256.77 249.0 256.57 250.5 256.32 252.0 256.02 253.5 255.66 255.0 255.24 256.5 254.76 258.0 254.21 259.5 253.57 261.0 252.86 262.5 252.06 264.0 251.17 265.5 250.20 267.0 249.15 268.5 248.01 270.0 246.81 271.5 245.53 273.0 244.19 274.5 242.79 276.0 241.35 277.5 239.87 279.0 238.36 280.5 236.84 282.0 235.31 283.5 233.80 285.0 232.31 286.5 230.87 288.0 229.48 289.5 228.16 291.0 226.92 292.5 225.76 294.0 224.71 295.5 223.76 297.0 222.91 298.5 222.17 300.0 221.54 301.5 221.02 303.0 220.60 304.5 220.28 306.0 220.07 307.5 219.96 309.0 219.95 310.5 220.02 312.0 220.18 313.5 220.43 315.0 220.74 316.5 221.12 318.0 221.56 319.5 222.05 321.0 222.59 322.5 223.17 324.0 223.78 325.5 224.43 327.0 225.10 328.5 225.80 330.0 226.51 331.5 227.22 333.0 227.94 334.5 228.67 336.0 229.39 337.5 230.11 339.0 230.82 340.5 231.52 342.0 232.22 343.5 232.90 345.0 233.58 346.5 234.24 348.0 234.89 349.5 235.53 351.0 236.16 352.5 236.78 354.0 237.38 355.5 237.97 357.0 238.55 358.5 239.11 360.0 239.66 361.5 240.20 363.0 240.73 364.5 241.24 366.0 241.73 367.5 242.22 369.0 242.68 370.5 243.14 372.0 243.58 373.5 244.00 375.0 244.42 376.5 244.81 378.0 245.20 379.5 245.57 381.0 245.93 382.5 246.27 384.0 246.60 385.5 246.93 387.0 247.24 388.5 247.53 390.0 247.82 391.5 248.10 393.0 248.37 394.5 248.63 396.0 248.88 397.5 249.13 399.0 249.36 400.5 249.59 402.0 249.81 403.5 250.03 405.0 250.24 406.5 250.44 408.0 250.64 409.5 250.83 411.0 251.02 412.5 251.20 414.0 251.38 415.5 251.55 417.0 251.72 418.5 251.89 420.0 252.05 421.5 252.20 423.0 252.36 424.5 252.50 426.0 252.65 427.5 252.79 429.0 252.93 430.5 253.06 432.0 253.19 433.5 253.32 435.0 253.45 436.5 253.57 438.0 253.69 439.5 253.81 441.0 253.93 442.5 254.04 444.0 254.16 445.5 254.27 447.0 254.39 448.5 254.50 450.0 254.61 451.5 254.72 453.0 254.83 454.5 254.94 456.0 255.04 457.5 255.15 459.0 255.26 460.5 255.36 462.0 255.46 463.5 255.57 465.0 255.67 466.5 255.77 468.0 255.86 469.5 255.96 471.0 256.06 472.5 256.15 474.0 256.25 475.5 256.34 477.0 256.43 478.5 256.52 480.0 256.61 481.5 256.70 483.0 256.79 484.5 256.87 486.0 256.95 487.5 257.04 489.0 257.12 490.5 257.19 492.0 257.27 493.5 257.33 495.0 257.40 496.5 257.46 498.0 257.52 499.5 257.57 501.0 257.62 502.5 257.66 504.0 257.70 505.5 257.74 507.0 257.77 508.5 257.80 510.0 257.83 511.5 257.86 513.0 257.89 514.5 257.91 516.0 257.93 517.5 257.96 519.0 257.98 520.5 258.00 522.0 258.02 523.5 258.04 525.0 258.06 526.5 258.08 528.0 258.10 529.5 258.12 531.0 258.14 532.5 258.16 534.0 258.18 535.5 258.19 537.0 258.21 538.5 258.23 540.0 258.24 541.5 258.26 543.0 258.27 544.5 258.29 546.0 258.30 547.5 258.31 549.0 258.32 550.5 258.33 552.0 258.34 553.5 258.35 555.0 258.36 556.5 258.37 558.0 258.37 559.5 258.38 561.0 258.38 562.5 258.39 564.0 258.39 565.5 258.39 567.0 258.40 568.5 258.40 570.0 258.40 571.5 258.40 573.0 258.40 574.5 258.40 576.0 258.40 577.5 258.40 579.0 258.40 580.5 258.40 582.0 258.39 583.5 258.39 585.0 258.39 586.5 258.39 588.0 258.39 589.5 258.38 591.0 258.38 592.5 258.38 594.0 258.38 595.5 258.37 597.0 258.37 598.5 258.37 600.0 258.37 601.5 258.36 603.0 258.36 604.5 258.36 606.0 258.35 607.5 258.35 609.0 258.34 610.5 258.34 612.0 258.34 613.5 258.33 615.0 258.33 616.5 258.33 618.0 258.32 619.5 258.32 621.0 258.31 622.5 258.31 624.0 258.31 625.5 258.30 627.0 258.30 628.5 258.29 630.0 258.29 631.5 258.29 633.0 258.28 634.5 258.28 636.0 258.28 637.5 258.27 639.0 258.27 640.5 258.26 642.0 258.26 643.5 258.26 645.0 258.25 646.5 258.25 648.0 258.25 649.5 258.24 651.0 258.24 652.5 258.24 654.0 258.23 655.5 258.23 657.0 258.23 658.5 258.22 660.0 258.22 661.5 258.22 663.0 258.22 664.5 258.21 666.0 258.21 667.5 258.21 669.0 258.21 670.5 258.21 672.0 258.21 673.5 258.20 675.0 258.20 676.5 258.20 678.0 258.20 679.5 258.20 681.0 258.20 682.5 258.20 683.8 258.20" fill="none" stroke="#0aa5e6" stroke-width="3.4" stroke-linejoin="round" stroke-linecap="butt"/>
<path d="M81.4 334.40 L82.9 334.40 84.4 334.40 85.9 334.40 87.4 334.40 88.9 334.40 90.4 334.41 91.9 334.41 93.4 334.41 94.9 334.42 96.4 334.42 97.9 334.42 99.4 334.43 100.9 334.43 102.4 334.44 103.9 334.44 105.4 334.45 106.9 334.45 108.4 334.46 109.9 334.47 111.4 334.47 112.9 334.48 114.4 334.49 115.9 334.50 117.4 334.51 118.9 334.51 120.4 334.52 121.9 334.53 123.4 334.54 124.9 334.55 126.4 334.56 127.9 334.57 129.4 334.58 130.9 334.59 132.4 334.60 133.9 334.61 135.4 334.62 136.9 334.64 138.4 334.65 139.9 334.66 141.4 334.67 142.9 334.68 144.4 334.69 145.9 334.71 147.4 334.72 148.9 334.73 150.4 334.74 151.9 334.76 153.4 334.77 154.9 334.78 156.4 334.79 157.9 334.81 159.4 334.82 160.9 334.83 162.4 334.84 163.9 334.86 165.4 334.87 166.9 334.88 168.4 334.90 169.9 334.91 171.4 334.92 172.9 334.94 174.4 334.95 175.9 334.96 177.4 334.98 178.9 334.99 180.4 335.01 181.9 335.03 183.4 335.05 184.9 335.06 186.4 335.09 187.9 335.11 189.4 335.13 190.9 335.15 192.4 335.17 193.9 335.20 195.4 335.22 196.9 335.24 198.4 335.26 199.9 335.28 201.4 335.30 202.9 335.32 204.4 335.34 205.9 335.35 207.4 335.37 208.9 335.38 210.4 335.38 211.9 335.39 213.4 335.39 214.9 335.39 216.4 335.39 217.9 335.38 219.4 335.37 220.9 335.36 222.4 335.35 223.9 335.33 225.4 335.31 226.9 335.29 228.4 335.27 229.9 335.25 231.4 335.22 232.9 335.20 234.4 335.17 235.9 335.14 237.4 335.11 238.9 335.08 240.4 335.04 241.9 335.01 243.4 334.98 244.9 334.94 246.4 334.91 247.9 334.87 249.4 334.84 250.9 334.81 252.4 334.77 253.9 334.74 255.4 334.71 256.9 334.68 258.4 334.64 259.9 334.61 261.4 334.59 262.9 334.56 264.4 334.53 265.9 334.51 267.4 334.48 268.9 334.46 270.4 334.44 271.9 334.42 273.4 334.40 274.9 334.39 276.4 334.37 277.9 334.36 279.4 334.35 280.9 334.33 282.4 334.32 283.9 334.31 285.4 334.30 286.9 334.29 288.4 334.29 289.9 334.28 291.4 334.27 292.9 334.26 294.4 334.25 295.9 334.25 297.4 334.24 298.9 334.23 300.4 334.22 301.9 334.22 303.4 334.21 304.9 334.20 306.4 334.19 307.9 334.18 309.4 334.18 310.9 334.17 312.4 334.16 313.9 334.15 315.4 334.13 316.9 334.12 318.4 334.11 319.9 334.09 321.4 334.08 322.9 334.06 324.4 334.04 325.9 334.01 327.4 333.99 328.9 333.96 330.4 333.92 331.9 333.88 333.4 333.84 334.9 333.79 336.4 333.74 337.9 333.68 339.4 333.61 340.9 333.54 342.4 333.46 343.9 333.38 345.4 333.29 346.9 333.19 348.4 333.08 349.9 332.96 351.4 332.83 352.9 332.69 354.4 332.54 355.9 332.37 357.4 332.20 358.9 332.01 360.4 331.81 361.9 331.60 363.4 331.38 364.9 331.14 366.4 330.89 367.9 330.63 369.4 330.34 370.9 330.03 372.4 329.68 373.9 329.30 375.4 328.86 376.9 328.37 378.4 327.81 379.9 327.18 381.4 326.47 382.9 325.67 384.4 324.77 385.9 323.79 387.4 322.71 388.9 321.54 390.4 320.30 391.9 318.97 393.4 317.58 394.9 316.14 396.4 314.65 397.9 313.14 399.4 311.61 400.9 310.08 402.4 308.57 403.9 307.11 405.4 305.69 406.9 304.35 408.4 303.10 409.9 301.94 411.4 300.88 412.9 299.94 414.4 299.11 415.9 298.40 417.4 297.80 418.9 297.33 420.4 296.97 421.9 296.74 423.4 296.63 424.9 296.63 426.4 296.75 427.9 296.97 429.4 297.29 430.9 297.71 432.4 298.21 433.9 298.80 435.4 299.45 436.9 300.18 438.4 300.97 439.9 301.83 441.4 302.73 442.9 303.67 444.4 304.66 445.9 305.67 447.4 306.70 448.9 307.74 450.4 308.78 451.9 309.83 453.4 310.86 454.9 311.89 456.4 312.90 457.9 313.88 459.4 314.85 460.9 315.79 462.4 316.70 463.9 317.58 465.4 318.43 466.9 319.25 468.4 320.03 469.9 320.79 471.4 321.51 472.9 322.20 474.4 322.86 475.9 323.49 477.4 324.09 478.9 324.65 480.4 325.19 481.9 325.70 483.4 326.18 484.9 326.62 486.4 327.04 487.9 327.43 489.4 327.79 490.9 328.13 492.4 328.44 493.9 328.72 495.4 328.98 496.9 329.21 498.4 329.42 499.9 329.62 501.4 329.80 502.9 329.95 504.4 330.10 505.9 330.23 507.4 330.35 508.9 330.46 510.4 330.56 511.9 330.66 513.4 330.74 514.9 330.82 516.4 330.90 517.9 330.97 519.4 331.04 520.9 331.10 522.4 331.16 523.9 331.21 525.4 331.26 526.9 331.31 528.4 331.35 529.9 331.39 531.4 331.43 532.9 331.47 534.4 331.51 535.9 331.54 537.4 331.57 538.9 331.60 540.4 331.63 541.9 331.65 543.4 331.68 544.9 331.71 546.4 331.73 547.9 331.75 549.4 331.78 550.9 331.80 552.4 331.82 553.9 331.84 555.4 331.86 556.9 331.87 558.4 331.89 559.9 331.91 561.4 331.92 562.9 331.94 564.4 331.95 565.9 331.97 567.4 331.98 568.9 331.99 570.4 332.00 571.9 332.02 573.4 332.03 574.9 332.04 576.4 332.05 577.9 332.06 579.4 332.07 580.9 332.08 582.4 332.09 583.9 332.10 585.4 332.11 586.9 332.12 588.4 332.13 589.9 332.14 591.4 332.15 592.9 332.16 594.4 332.17 595.9 332.18 597.4 332.19 598.9 332.20 600.4 332.21 601.9 332.22 603.4 332.23 604.9 332.24 606.4 332.25 607.9 332.26 609.4 332.27 610.9 332.27 612.4 332.28 613.9 332.29 615.4 332.30 616.9 332.31 618.4 332.32 619.9 332.32 621.4 332.33 622.9 332.34 624.4 332.35 625.9 332.35 627.4 332.36 628.9 332.37 630.4 332.37 631.9 332.38 633.4 332.39 634.9 332.39 636.4 332.40 637.9 332.41 639.4 332.41 640.9 332.42 642.4 332.42 643.9 332.43 645.4 332.43 646.9 332.44 648.4 332.44 649.9 332.45 651.4 332.45 652.9 332.46 654.4 332.46 655.9 332.46 657.4 332.47 658.9 332.47 660.4 332.47 661.9 332.48 663.4 332.48 664.9 332.48 666.4 332.49 667.9 332.49 669.4 332.49 670.9 332.49 672.4 332.49 673.9 332.50 675.4 332.50 676.9 332.50 678.4 332.50 679.9 332.50 681.4 332.50 682.9 332.50 683.8 332.50" fill="none" stroke="#000000" stroke-width="3.4" stroke-linejoin="round" stroke-linecap="butt"/>
<path d="M84.0 334.40 L85.5 334.42 87.0 334.43 88.5 334.44 90.0 334.45 91.5 334.46 93.0 334.48 94.5 334.49 96.0 334.50 97.5 334.51 99.0 334.52 100.5 334.53 102.0 334.54 103.5 334.55 105.0 334.56 106.5 334.56 108.0 334.57 109.5 334.58 111.0 334.59 112.5 334.60 114.0 334.60 115.5 334.61 117.0 334.62 118.5 334.62 120.0 334.63 121.5 334.63 123.0 334.64 124.5 334.64 126.0 334.65 127.5 334.65 129.0 334.66 130.5 334.66 132.0 334.66 133.5 334.67 135.0 334.67 136.5 334.67 138.0 334.67 139.5 334.68 141.0 334.68 142.5 334.68 144.0 334.68 145.5 334.69 147.0 334.69 148.5 334.69 150.0 334.69 151.5 334.69 153.0 334.69 154.5 334.69 156.0 334.70 157.5 334.70 159.0 334.70 160.5 334.70 162.0 334.70 163.5 334.70 165.0 334.70 166.5 334.70 168.0 334.70 169.5 334.71 171.0 334.71 172.5 334.71 174.0 334.71 175.5 334.71 177.0 334.71 178.5 334.70 180.0 334.70 181.5 334.70 183.0 334.69 184.5 334.68 186.0 334.67 187.5 334.66 189.0 334.64 190.5 334.62 192.0 334.60 193.5 334.58 195.0 334.54 196.5 334.51 198.0 334.46 199.5 334.40 201.0 334.34 202.5 334.25 204.0 334.16 205.5 334.04 207.0 333.90 208.5 333.73 210.0 333.53 211.5 333.31 213.0 333.05 214.5 332.75 216.0 332.43 217.5 332.06 219.0 331.67 220.5 331.23 222.0 330.76 223.5 330.26 225.0 329.71 226.5 329.13 228.0 328.51 229.5 327.86 231.0 327.17 232.5 326.44 234.0 325.68 235.5 324.87 237.0 324.04 238.5 323.17 240.0 322.26 241.5 321.32 243.0 320.34 244.5 319.34 246.0 318.31 247.5 317.25 249.0 316.17 250.5 315.07 252.0 313.96 253.5 312.83 255.0 311.71 256.5 310.60 258.0 309.49 259.5 308.40 261.0 307.34 262.5 306.30 264.0 305.30 265.5 304.34 267.0 303.42 268.5 302.54 270.0 301.73 271.5 300.97 273.0 300.27 274.5 299.63 276.0 299.05 277.5 298.54 279.0 298.09 280.5 297.71 282.0 297.40 283.5 297.15 285.0 296.98 286.5 296.88 288.0 296.85 289.5 296.88 291.0 296.98 292.5 297.14 294.0 297.36 295.5 297.64 297.0 297.97 298.5 298.36 300.0 298.81 301.5 299.30 303.0 299.84 304.5 300.43 306.0 301.06 307.5 301.73 309.0 302.42 310.5 303.15 312.0 303.89 313.5 304.64 315.0 305.41 316.5 306.18 318.0 306.94 319.5 307.71 321.0 308.47 322.5 309.22 324.0 309.95 325.5 310.67 327.0 311.38 328.5 312.06 330.0 312.73 331.5 313.37 333.0 313.99 334.5 314.60 336.0 315.18 337.5 315.75 339.0 316.30 340.5 316.83 342.0 317.34 343.5 317.83 345.0 318.31 346.5 318.78 348.0 319.22 349.5 319.66 351.0 320.08 352.5 320.49 354.0 320.89 355.5 321.27 357.0 321.64 358.5 322.00 360.0 322.35 361.5 322.68 363.0 323.00 364.5 323.31 366.0 323.60 367.5 323.88 369.0 324.15 370.5 324.40 372.0 324.64 373.5 324.86 375.0 325.07 376.5 325.27 378.0 325.46 379.5 325.64 381.0 325.81 382.5 325.98 384.0 326.14 385.5 326.30 387.0 326.45 388.5 326.61 390.0 326.76 391.5 326.91 393.0 327.06 394.5 327.21 396.0 327.36 397.5 327.52 399.0 327.67 400.5 327.83 402.0 327.98 403.5 328.14 405.0 328.30 406.5 328.45 408.0 328.61 409.5 328.76 411.0 328.91 412.5 329.05 414.0 329.20 415.5 329.33 417.0 329.47 418.5 329.60 420.0 329.72 421.5 329.84 423.0 329.95 424.5 330.05 426.0 330.16 427.5 330.25 429.0 330.34 430.5 330.43 432.0 330.52 433.5 330.60 435.0 330.68 436.5 330.75 438.0 330.83 439.5 330.90 441.0 330.98 442.5 331.05 444.0 331.12 445.5 331.19 447.0 331.27 448.5 331.34 450.0 331.42 451.5 331.49 453.0 331.57 454.5 331.65 456.0 331.72 457.5 331.80 459.0 331.88 460.5 331.96 462.0 332.03 463.5 332.11 465.0 332.18 466.5 332.25 468.0 332.33 469.5 332.40 471.0 332.46 472.5 332.53 474.0 332.59 475.5 332.65 477.0 332.71 478.5 332.77 480.0 332.82 481.5 332.88 483.0 332.93 484.5 332.98 486.0 333.02 487.5 333.07 489.0 333.11 490.5 333.15 492.0 333.19 493.5 333.23 495.0 333.26 496.5 333.29 498.0 333.32 499.5 333.34 501.0 333.36 502.5 333.38 504.0 333.40 505.5 333.41 507.0 333.43 508.5 333.44 510.0 333.45 511.5 333.45 513.0 333.46 514.5 333.47 516.0 333.48 517.5 333.48 519.0 333.49 520.5 333.49 522.0 333.50 523.5 333.51 525.0 333.51 526.5 333.52 528.0 333.52 529.5 333.53 531.0 333.53 532.5 333.54 534.0 333.54 535.5 333.55 537.0 333.55 538.5 333.56 540.0 333.56 541.5 333.56 543.0 333.57 544.5 333.57 546.0 333.57 547.5 333.58 549.0 333.58 550.5 333.58 552.0 333.59 553.5 333.59 555.0 333.59 556.5 333.59 558.0 333.59 559.5 333.60 561.0 333.60 562.5 333.60 564.0 333.60 565.5 333.60 567.0 333.60 568.5 333.60 570.0 333.60 571.5 333.60 573.0 333.60 574.5 333.60 576.0 333.59 577.5 333.59 579.0 333.59 580.5 333.58 582.0 333.58 583.5 333.58 585.0 333.57 586.5 333.56 588.0 333.56 589.5 333.55 591.0 333.55 592.5 333.54 594.0 333.53 595.5 333.52 597.0 333.51 598.5 333.50 600.0 333.50 601.5 333.49 603.0 333.48 604.5 333.47 606.0 333.46 607.5 333.45 609.0 333.43 610.5 333.42 612.0 333.41 613.5 333.40 615.0 333.39 616.5 333.38 618.0 333.37 619.5 333.36 621.0 333.34 622.5 333.33 624.0 333.32 625.5 333.31 627.0 333.30 628.5 333.28 630.0 333.27 631.5 333.26 633.0 333.25 634.5 333.24 636.0 333.23 637.5 333.21 639.0 333.20 640.5 333.19 642.0 333.18 643.5 333.17 645.0 333.16 646.5 333.15 648.0 333.14 649.5 333.13 651.0 333.12 652.5 333.11 654.0 333.10 655.5 333.09 657.0 333.08 658.5 333.07 660.0 333.06 661.5 333.06 663.0 333.05 664.5 333.04 666.0 333.04 667.5 333.03 669.0 333.03 670.5 333.02 672.0 333.02 673.5 333.01 675.0 333.01 676.5 333.01 678.0 333.00 679.5 333.00 681.0 333.00 682.5 333.00 683.8 332.99" fill="none" stroke="#0aa5e6" stroke-width="3.4" stroke-linejoin="round" stroke-linecap="butt"/>
<path d="M84.0 411.90 L85.5 411.90 87.0 411.90 88.5 411.90 90.0 411.90 91.5 411.90 93.0 411.90 94.5 411.90 96.0 411.90 97.5 411.90 99.0 411.90 100.5 411.90 102.0 411.90 103.5 411.90 105.0 411.90 106.5 411.90 108.0 411.90 109.5 411.90 111.0 411.90 112.5 411.90 114.0 411.90 115.5 411.90 117.0 411.90 118.5 411.90 120.0 411.90 121.5 411.90 123.0 411.90 124.5 411.90 126.0 411.90 127.5 411.90 129.0 411.90 130.5 411.90 132.0 411.90 133.5 411.90 135.0 411.90 136.5 411.90 138.0 411.90 139.5 411.90 141.0 411.90 142.5 411.90 144.0 411.90 145.5 411.90 147.0 411.90 148.5 411.90 150.0 411.90 151.5 411.90 153.0 411.90 154.5 411.90 156.0 411.90 157.5 411.90 159.0 411.90 160.5 411.90 162.0 411.90 163.5 411.90 165.0 411.90 166.5 411.90 168.0 411.90 169.5 411.90 171.0 411.90 172.5 411.90 174.0 411.90 175.5 411.90 177.0 411.90 178.5 411.90 180.0 411.90 181.5 411.90 183.0 411.89 184.5 411.89 186.0 411.89 187.5 411.89 189.0 411.89 190.5 411.89 192.0 411.90 193.5 411.90 195.0 411.90 196.5 411.90 198.0 411.90 199.5 411.91 201.0 411.91 202.5 411.90 204.0 411.90 205.5 411.89 207.0 411.87 208.5 411.84 210.0 411.80 211.5 411.74 213.0 411.66 214.5 411.56 216.0 411.43 217.5 411.27 219.0 411.08 220.5 410.86 222.0 410.60 223.5 410.30 225.0 409.96 226.5 409.58 228.0 409.15 229.5 408.67 231.0 408.14 232.5 407.55 234.0 406.89 235.5 406.16 237.0 405.35 238.5 404.47 240.0 403.51 241.5 402.47 243.0 401.35 244.5 400.15 246.0 398.88 247.5 397.54 249.0 396.15 250.5 394.71 252.0 393.24 253.5 391.75 255.0 390.25 256.5 388.75 258.0 387.27 259.5 385.82 261.0 384.42 262.5 383.08 264.0 381.80 265.5 380.61 267.0 379.50 268.5 378.48 270.0 377.55 271.5 376.72 273.0 375.99 274.5 375.35 276.0 374.81 277.5 374.38 279.0 374.05 280.5 373.82 282.0 373.70 283.5 373.67 285.0 373.74 286.5 373.90 288.0 374.14 289.5 374.45 291.0 374.84 292.5 375.28 294.0 375.78 295.5 376.32 297.0 376.90 298.5 377.52 300.0 378.16 301.5 378.84 303.0 379.53 304.5 380.25 306.0 380.98 307.5 381.72 309.0 382.47 310.5 383.23 312.0 383.99 313.5 384.74 315.0 385.50 316.5 386.24 318.0 386.98 319.5 387.71 321.0 388.42 322.5 389.12 324.0 389.81 325.5 390.47 327.0 391.13 328.5 391.76 330.0 392.39 331.5 393.00 333.0 393.59 334.5 394.18 336.0 394.75 337.5 395.32 339.0 395.87 340.5 396.41 342.0 396.94 343.5 397.45 345.0 397.96 346.5 398.44 348.0 398.91 349.5 399.36 351.0 399.79 352.5 400.21 354.0 400.61 355.5 401.00 357.0 401.37 358.5 401.72 360.0 402.06 361.5 402.38 363.0 402.70 364.5 403.00 366.0 403.28 367.5 403.56 369.0 403.82 370.5 404.07 372.0 404.30 373.5 404.53 375.0 404.74 376.5 404.93 378.0 405.12 379.5 405.29 381.0 405.45 382.5 405.59 384.0 405.73 385.5 405.86 387.0 405.98 388.5 406.09 390.0 406.20 391.5 406.30 393.0 406.40 394.5 406.50 396.0 406.60 397.5 406.70 399.0 406.79 400.5 406.89 402.0 406.99 403.5 407.08 405.0 407.18 406.5 407.28 408.0 407.38 409.5 407.47 411.0 407.57 412.5 407.66 414.0 407.76 415.5 407.85 417.0 407.94 418.5 408.02 420.0 408.11 421.5 408.19 423.0 408.26 424.5 408.34 426.0 408.41 427.5 408.48 429.0 408.55 430.5 408.61 432.0 408.68 433.5 408.74 435.0 408.80 436.5 408.86 438.0 408.92 439.5 408.98 441.0 409.04 442.5 409.10 444.0 409.16 445.5 409.22 447.0 409.29 448.5 409.35 450.0 409.42 451.5 409.49 453.0 409.56 454.5 409.63 456.0 409.71 457.5 409.78 459.0 409.86 460.5 409.94 462.0 410.01 463.5 410.09 465.0 410.16 466.5 410.24 468.0 410.31 469.5 410.38 471.0 410.45 472.5 410.52 474.0 410.58 475.5 410.65 477.0 410.70 478.5 410.76 480.0 410.82 481.5 410.87 483.0 410.92 484.5 410.97 486.0 411.01 487.5 411.06 489.0 411.10 490.5 411.14 492.0 411.18 493.5 411.21 495.0 411.25 496.5 411.28 498.0 411.31 499.5 411.34 501.0 411.36 502.5 411.38 504.0 411.40 505.5 411.42 507.0 411.44 508.5 411.46 510.0 411.47 511.5 411.49 513.0 411.50 514.5 411.52 516.0 411.53 517.5 411.54 519.0 411.56 520.5 411.57 522.0 411.58 523.5 411.59 525.0 411.61 526.5 411.62 528.0 411.63 529.5 411.64 531.0 411.65 532.5 411.66 534.0 411.67 535.5 411.68 537.0 411.69 538.5 411.70 540.0 411.71 541.5 411.72 543.0 411.73 544.5 411.73 546.0 411.74 547.5 411.75 549.0 411.75 550.5 411.76 552.0 411.77 553.5 411.77 555.0 411.78 556.5 411.78 558.0 411.78 559.5 411.79 561.0 411.79 562.5 411.79 564.0 411.80 565.5 411.80 567.0 411.80 568.5 411.80 570.0 411.80 571.5 411.80 573.0 411.80 574.5 411.80 576.0 411.80 577.5 411.80 579.0 411.80 580.5 411.80 582.0 411.79 583.5 411.79 585.0 411.79 586.5 411.79 588.0 411.79 589.5 411.78 591.0 411.78 592.5 411.78 594.0 411.78 595.5 411.77 597.0 411.77 598.5 411.77 600.0 411.77 601.5 411.76 603.0 411.76 604.5 411.76 606.0 411.75 607.5 411.75 609.0 411.74 610.5 411.74 612.0 411.74 613.5 411.73 615.0 411.73 616.5 411.73 618.0 411.72 619.5 411.72 621.0 411.71 622.5 411.71 624.0 411.71 625.5 411.70 627.0 411.70 628.5 411.69 630.0 411.69 631.5 411.69 633.0 411.68 634.5 411.68 636.0 411.68 637.5 411.67 639.0 411.67 640.5 411.66 642.0 411.66 643.5 411.66 645.0 411.65 646.5 411.65 648.0 411.65 649.5 411.64 651.0 411.64 652.5 411.64 654.0 411.63 655.5 411.63 657.0 411.63 658.5 411.62 660.0 411.62 661.5 411.62 663.0 411.62 664.5 411.61 666.0 411.61 667.5 411.61 669.0 411.61 670.5 411.61 672.0 411.61 673.5 411.60 675.0 411.60 676.5 411.60 678.0 411.60 679.5 411.60 681.0 411.60 682.5 411.60 683.8 411.60" fill="none" stroke="#0aa5e6" stroke-width="3.4" stroke-linejoin="round" stroke-linecap="butt"/>
<path d="M84.0 411.90 L85.5 411.90 87.0 411.90 88.5 411.90 90.0 411.90 91.5 411.90 93.0 411.90 94.5 411.90 96.0 411.90 97.5 411.90 99.0 411.90 100.5 411.90 102.0 411.90 103.5 411.90 105.0 411.90 106.5 411.90 108.0 411.90 109.5 411.90 111.0 411.90 112.5 411.90 114.0 411.90 115.5 411.90 117.0 411.90 118.5 411.90 120.0 411.90 121.5 411.90 123.0 411.90 124.5 411.90 126.0 411.90 127.5 411.90 129.0 411.90 130.5 411.90 132.0 411.90 133.5 411.90 135.0 411.90 136.5 411.90 138.0 411.90 139.5 411.90 141.0 411.90 142.5 411.90 144.0 411.90 145.5 411.90 147.0 411.90 148.5 411.90 150.0 411.90 151.5 411.90 153.0 411.90 154.5 411.90 156.0 411.90 157.5 411.90 159.0 411.90 160.5 411.90 162.0 411.90 163.5 411.90 165.0 411.90 166.5 411.90 168.0 411.90 169.5 411.90 171.0 411.90 172.5 411.90 174.0 411.90 175.5 411.90 177.0 411.90 178.5 411.90 180.0 411.90 181.5 411.90 183.0 411.91 184.5 411.91 186.0 411.91 187.5 411.91 189.0 411.92 190.5 411.92 192.0 411.93 193.5 411.93 195.0 411.94 196.5 411.95 198.0 411.95 199.5 411.96 201.0 411.96 202.5 411.97 204.0 411.98 205.5 411.98 207.0 411.99 208.5 411.99 210.0 411.99 211.5 412.00 213.0 412.00 214.5 412.00 216.0 411.99 217.5 411.99 219.0 411.98 220.5 411.97 222.0 411.96 223.5 411.95 225.0 411.94 226.5 411.92 228.0 411.90 229.5 411.88 231.0 411.86 232.5 411.84 234.0 411.82 235.5 411.79 237.0 411.77 238.5 411.74 240.0 411.72 241.5 411.69 243.0 411.67 244.5 411.64 246.0 411.62 247.5 411.59 249.0 411.57 250.5 411.55 252.0 411.53 253.5 411.50 255.0 411.48 256.5 411.47 258.0 411.45 259.5 411.43 261.0 411.41 262.5 411.40 264.0 411.38 265.5 411.37 267.0 411.36 268.5 411.35 270.0 411.35 271.5 411.34 273.0 411.33 274.5 411.33 276.0 411.32 277.5 411.31 279.0 411.29 280.5 411.26 282.0 411.22 283.5 411.16 285.0 411.07 286.5 410.95 288.0 410.79 289.5 410.58 291.0 410.31 292.5 409.97 294.0 409.55 295.5 409.05 297.0 408.46 298.5 407.76 300.0 406.96 301.5 406.04 303.0 405.01 304.5 403.87 306.0 402.62 307.5 401.27 309.0 399.83 310.5 398.32 312.0 396.74 313.5 395.13 315.0 393.50 316.5 391.86 318.0 390.25 319.5 388.67 321.0 387.15 322.5 385.69 324.0 384.31 325.5 383.02 327.0 381.81 328.5 380.70 330.0 379.67 331.5 378.75 333.0 377.91 334.5 377.17 336.0 376.52 337.5 375.96 339.0 375.49 340.5 375.10 342.0 374.80 343.5 374.57 345.0 374.42 346.5 374.33 348.0 374.31 349.5 374.35 351.0 374.45 352.5 374.61 354.0 374.82 355.5 375.09 357.0 375.39 358.5 375.75 360.0 376.14 361.5 376.57 363.0 377.03 364.5 377.53 366.0 378.05 367.5 378.59 369.0 379.15 370.5 379.73 372.0 380.31 373.5 380.91 375.0 381.51 376.5 382.11 378.0 382.72 379.5 383.32 381.0 383.92 382.5 384.51 384.0 385.10 385.5 385.68 387.0 386.26 388.5 386.82 390.0 387.38 391.5 387.93 393.0 388.47 394.5 389.00 396.0 389.53 397.5 390.04 399.0 390.55 400.5 391.04 402.0 391.53 403.5 392.00 405.0 392.46 406.5 392.91 408.0 393.35 409.5 393.77 411.0 394.18 412.5 394.58 414.0 394.97 415.5 395.34 417.0 395.71 418.5 396.06 420.0 396.40 421.5 396.74 423.0 397.06 424.5 397.38 426.0 397.70 427.5 398.01 429.0 398.32 430.5 398.62 432.0 398.93 433.5 399.23 435.0 399.53 436.5 399.83 438.0 400.13 439.5 400.43 441.0 400.72 442.5 401.01 444.0 401.29 445.5 401.57 447.0 401.84 448.5 402.11 450.0 402.37 451.5 402.63 453.0 402.88 454.5 403.12 456.0 403.35 457.5 403.58 459.0 403.81 460.5 404.02 462.0 404.24 463.5 404.44 465.0 404.64 466.5 404.84 468.0 405.02 469.5 405.21 471.0 405.38 472.5 405.55 474.0 405.71 475.5 405.87 477.0 406.02 478.5 406.17 480.0 406.31 481.5 406.45 483.0 406.58 484.5 406.71 486.0 406.83 487.5 406.95 489.0 407.07 490.5 407.18 492.0 407.29 493.5 407.39 495.0 407.49 496.5 407.59 498.0 407.69 499.5 407.78 501.0 407.87 502.5 407.95 504.0 408.03 505.5 408.11 507.0 408.19 508.5 408.26 510.0 408.33 511.5 408.40 513.0 408.47 514.5 408.54 516.0 408.60 517.5 408.66 519.0 408.72 520.5 408.78 522.0 408.83 523.5 408.88 525.0 408.94 526.5 408.99 528.0 409.03 529.5 409.08 531.0 409.13 532.5 409.17 534.0 409.22 535.5 409.26 537.0 409.30 538.5 409.34 540.0 409.38 541.5 409.42 543.0 409.46 544.5 409.49 546.0 409.53 547.5 409.56 549.0 409.60 550.5 409.63 552.0 409.66 553.5 409.70 555.0 409.73 556.5 409.76 558.0 409.79 559.5 409.82 561.0 409.85 562.5 409.87 564.0 409.90 565.5 409.93 567.0 409.95 568.5 409.98 570.0 410.00 571.5 410.02 573.0 410.05 574.5 410.07 576.0 410.09 577.5 410.12 579.0 410.14 580.5 410.16 582.0 410.19 583.5 410.21 585.0 410.23 586.5 410.25 588.0 410.28 589.5 410.30 591.0 410.32 592.5 410.35 594.0 410.37 595.5 410.39 597.0 410.41 598.5 410.43 600.0 410.46 601.5 410.48 603.0 410.50 604.5 410.52 606.0 410.54 607.5 410.57 609.0 410.59 610.5 410.61 612.0 410.63 613.5 410.65 615.0 410.67 616.5 410.69 618.0 410.71 619.5 410.73 621.0 410.75 622.5 410.77 624.0 410.79 625.5 410.80 627.0 410.82 628.5 410.84 630.0 410.86 631.5 410.88 633.0 410.89 634.5 410.91 636.0 410.92 637.5 410.94 639.0 410.96 640.5 410.97 642.0 410.99 643.5 411.00 645.0 411.01 646.5 411.03 648.0 411.04 649.5 411.05 651.0 411.07 652.5 411.08 654.0 411.09 655.5 411.10 657.0 411.11 658.5 411.12 660.0 411.13 661.5 411.14 663.0 411.14 664.5 411.15 666.0 411.16 667.5 411.16 669.0 411.17 670.5 411.18 672.0 411.18 673.5 411.19 675.0 411.19 676.5 411.19 678.0 411.20 679.5 411.20 681.0 411.20 682.5 411.20 683.8 411.21" fill="none" stroke="#000000" stroke-width="3.4" stroke-linejoin="round" stroke-linecap="butt"/>
<path d="M84.0 489.40 L85.5 489.40 87.0 489.40 88.5 489.40 90.0 489.40 91.5 489.40 93.0 489.40 94.5 489.40 96.0 489.40 97.5 489.40 99.0 489.40 100.5 489.40 102.0 489.40 103.5 489.40 105.0 489.40 106.5 489.40 108.0 489.40 109.5 489.40 111.0 489.40 112.5 489.40 114.0 489.40 115.5 489.40 117.0 489.40 118.5 489.40 120.0 489.40 121.5 489.40 123.0 489.40 124.5 489.40 126.0 489.40 127.5 489.40 129.0 489.40 130.5 489.40 132.0 489.40 133.5 489.40 135.0 489.40 136.5 489.40 138.0 489.40 139.5 489.40 141.0 489.40 142.5 489.40 144.0 489.40 145.5 489.40 147.0 489.40 148.5 489.40 150.0 489.40 151.5 489.40 153.0 489.40 154.5 489.40 156.0 489.40 157.5 489.40 159.0 489.40 160.5 489.40 162.0 489.40 163.5 489.40 165.0 489.40 166.5 489.40 168.0 489.40 169.5 489.40 171.0 489.40 172.5 489.40 174.0 489.40 175.5 489.40 177.0 489.40 178.5 489.40 180.0 489.40 181.5 489.40 183.0 489.40 184.5 489.40 186.0 489.40 187.5 489.40 189.0 489.40 190.5 489.40 192.0 489.40 193.5 489.40 195.0 489.40 196.5 489.40 198.0 489.40 199.5 489.40 201.0 489.40 202.5 489.40 204.0 489.40 205.5 489.40 207.0 489.40 208.5 489.40 210.0 489.40 211.5 489.40 213.0 489.40 214.5 489.40 216.0 489.40 217.5 489.40 219.0 489.40 220.5 489.40 222.0 489.40 223.5 489.40 225.0 489.40 226.5 489.40 228.0 489.40 229.5 489.40 231.0 489.40 232.5 489.40 234.0 489.40 235.5 489.40 237.0 489.40 238.5 489.40 240.0 489.40 241.5 489.40 243.0 489.40 244.5 489.40 246.0 489.40 247.5 489.40 249.0 489.40 250.5 489.40 252.0 489.40 253.5 489.40 255.0 489.40 256.5 489.40 258.0 489.40 259.5 489.40 261.0 489.40 262.5 489.40 264.0 489.40 265.5 489.40 267.0 489.40 268.5 489.40 270.0 489.40 271.5 489.40 273.0 489.40 274.5 489.40 276.0 489.40 277.5 489.40 279.0 489.41 280.5 489.41 282.0 489.41 283.5 489.41 285.0 489.42 286.5 489.42 288.0 489.42 289.5 489.42 291.0 489.42 292.5 489.42 294.0 489.42 295.5 489.41 297.0 489.40 298.5 489.39 300.0 489.37 301.5 489.34 303.0 489.30 304.5 489.26 306.0 489.21 307.5 489.15 309.0 489.08 310.5 489.01 312.0 488.93 313.5 488.85 315.0 488.76 316.5 488.66 318.0 488.57 319.5 488.48 321.0 488.38 322.5 488.29 324.0 488.20 325.5 488.11 327.0 488.02 328.5 487.94 330.0 487.86 331.5 487.79 333.0 487.71 334.5 487.64 336.0 487.57 337.5 487.50 339.0 487.44 340.5 487.37 342.0 487.31 343.5 487.24 345.0 487.17 346.5 487.10 348.0 487.02 349.5 486.94 351.0 486.84 352.5 486.74 354.0 486.62 355.5 486.48 357.0 486.32 358.5 486.14 360.0 485.92 361.5 485.67 363.0 485.38 364.5 485.06 366.0 484.69 367.5 484.27 369.0 483.80 370.5 483.28 372.0 482.71 373.5 482.08 375.0 481.38 376.5 480.62 378.0 479.80 379.5 478.90 381.0 477.93 382.5 476.88 384.0 475.77 385.5 474.59 387.0 473.35 388.5 472.06 390.0 470.72 391.5 469.35 393.0 467.95 394.5 466.54 396.0 465.12 397.5 463.70 399.0 462.31 400.5 460.95 402.0 459.63 403.5 458.37 405.0 457.17 406.5 456.06 408.0 455.04 409.5 454.11 411.0 453.29 412.5 452.57 414.0 451.97 415.5 451.47 417.0 451.09 418.5 450.82 420.0 450.66 421.5 450.60 423.0 450.65 424.5 450.80 426.0 451.04 427.5 451.37 429.0 451.79 430.5 452.30 432.0 452.89 433.5 453.56 435.0 454.30 436.5 455.12 438.0 456.00 439.5 456.93 441.0 457.91 442.5 458.93 444.0 459.99 445.5 461.09 447.0 462.20 448.5 463.33 450.0 464.47 451.5 465.62 453.0 466.77 454.5 467.91 456.0 469.04 457.5 470.15 459.0 471.24 460.5 472.31 462.0 473.34 463.5 474.34 465.0 475.30 466.5 476.22 468.0 477.09 469.5 477.92 471.0 478.69 472.5 479.41 474.0 480.07 475.5 480.69 477.0 481.25 478.5 481.76 480.0 482.23 481.5 482.64 483.0 483.02 484.5 483.35 486.0 483.65 487.5 483.92 489.0 484.15 490.5 484.36 492.0 484.55 493.5 484.71 495.0 484.86 496.5 485.00 498.0 485.13 499.5 485.24 501.0 485.35 502.5 485.45 504.0 485.54 505.5 485.63 507.0 485.71 508.5 485.79 510.0 485.86 511.5 485.92 513.0 485.99 514.5 486.05 516.0 486.11 517.5 486.16 519.0 486.21 520.5 486.26 522.0 486.31 523.5 486.36 525.0 486.40 526.5 486.44 528.0 486.48 529.5 486.52 531.0 486.56 532.5 486.59 534.0 486.63 535.5 486.66 537.0 486.70 538.5 486.73 540.0 486.76 541.5 486.79 543.0 486.82 544.5 486.85 546.0 486.87 547.5 486.90 549.0 486.93 550.5 486.95 552.0 486.98 553.5 487.00 555.0 487.03 556.5 487.05 558.0 487.07 559.5 487.10 561.0 487.12 562.5 487.14 564.0 487.16 565.5 487.18 567.0 487.20 568.5 487.22 570.0 487.24 571.5 487.26 573.0 487.28 574.5 487.30 576.0 487.32 577.5 487.34 579.0 487.36 580.5 487.37 582.0 487.39 583.5 487.41 585.0 487.42 586.5 487.44 588.0 487.46 589.5 487.47 591.0 487.49 592.5 487.51 594.0 487.52 595.5 487.54 597.0 487.55 598.5 487.57 600.0 487.58 601.5 487.60 603.0 487.62 604.5 487.63 606.0 487.65 607.5 487.66 609.0 487.68 610.5 487.69 612.0 487.71 613.5 487.73 615.0 487.74 616.5 487.76 618.0 487.78 619.5 487.80 621.0 487.81 622.5 487.83 624.0 487.85 625.5 487.87 627.0 487.89 628.5 487.91 630.0 487.93 631.5 487.95 633.0 487.97 634.5 487.99 636.0 488.02 637.5 488.04 639.0 488.06 640.5 488.08 642.0 488.10 643.5 488.13 645.0 488.15 646.5 488.17 648.0 488.19 649.5 488.21 651.0 488.23 652.5 488.25 654.0 488.27 655.5 488.29 657.0 488.31 658.5 488.33 660.0 488.35 661.5 488.37 663.0 488.38 664.5 488.40 666.0 488.41 667.5 488.42 669.0 488.44 670.5 488.45 672.0 488.46 673.5 488.47 675.0 488.47 676.5 488.48 678.0 488.49 679.5 488.50 681.0 488.50 682.5 488.51 683.8 488.51" fill="none" stroke="#000000" stroke-width="3.4" stroke-linejoin="round" stroke-linecap="butt"/>
<path d="M84.0 489.00 L85.5 489.00 87.0 489.00 88.5 489.00 90.0 489.00 91.5 489.00 93.0 489.00 94.5 489.00 96.0 489.00 97.5 489.00 99.0 489.00 100.5 488.99 102.0 488.99 103.5 488.99 105.0 488.99 106.5 488.99 108.0 488.99 109.5 488.99 111.0 488.99 112.5 488.98 114.0 488.98 115.5 488.98 117.0 488.98 118.5 488.98 120.0 488.98 121.5 488.97 123.0 488.97 124.5 488.97 126.0 488.97 127.5 488.96 129.0 488.96 130.5 488.96 132.0 488.96 133.5 488.95 135.0 488.95 136.5 488.95 138.0 488.95 139.5 488.94 141.0 488.94 142.5 488.94 144.0 488.93 145.5 488.93 147.0 488.93 148.5 488.92 150.0 488.92 151.5 488.92 153.0 488.91 154.5 488.91 156.0 488.91 157.5 488.90 159.0 488.90 160.5 488.89 162.0 488.89 163.5 488.89 165.0 488.88 166.5 488.88 168.0 488.87 169.5 488.87 171.0 488.86 172.5 488.86 174.0 488.86 175.5 488.85 177.0 488.85 178.5 488.84 180.0 488.84 181.5 488.83 183.0 488.83 184.5 488.82 186.0 488.82 187.5 488.81 189.0 488.81 190.5 488.80 192.0 488.80 193.5 488.79 195.0 488.79 196.5 488.78 198.0 488.77 199.5 488.77 201.0 488.76 202.5 488.76 204.0 488.75 205.5 488.75 207.0 488.74 208.5 488.73 210.0 488.73 211.5 488.72 213.0 488.72 214.5 488.71 216.0 488.70 217.5 488.70 219.0 488.69 220.5 488.69 222.0 488.68 223.5 488.67 225.0 488.67 226.5 488.66 228.0 488.66 229.5 488.65 231.0 488.64 232.5 488.64 234.0 488.63 235.5 488.62 237.0 488.61 238.5 488.61 240.0 488.60 241.5 488.59 243.0 488.58 244.5 488.57 246.0 488.57 247.5 488.56 249.0 488.55 250.5 488.53 252.0 488.52 253.5 488.51 255.0 488.50 256.5 488.48 258.0 488.47 259.5 488.46 261.0 488.44 262.5 488.43 264.0 488.41 265.5 488.39 267.0 488.38 268.5 488.36 270.0 488.34 271.5 488.32 273.0 488.30 274.5 488.28 276.0 488.26 277.5 488.24 279.0 488.22 280.5 488.20 282.0 488.17 283.5 488.15 285.0 488.12 286.5 488.10 288.0 488.07 289.5 488.04 291.0 488.00 292.5 487.97 294.0 487.93 295.5 487.89 297.0 487.84 298.5 487.79 300.0 487.74 301.5 487.68 303.0 487.61 304.5 487.53 306.0 487.44 307.5 487.34 309.0 487.22 310.5 487.08 312.0 486.93 313.5 486.75 315.0 486.54 316.5 486.31 318.0 486.03 319.5 485.72 321.0 485.36 322.5 484.95 324.0 484.49 325.5 483.96 327.0 483.37 328.5 482.70 330.0 481.96 331.5 481.13 333.0 480.23 334.5 479.24 336.0 478.18 337.5 477.05 339.0 475.85 340.5 474.60 342.0 473.29 343.5 471.95 345.0 470.57 346.5 469.16 348.0 467.75 349.5 466.33 351.0 464.91 352.5 463.50 354.0 462.12 355.5 460.77 357.0 459.47 358.5 458.23 360.0 457.05 361.5 455.95 363.0 454.94 364.5 454.03 366.0 453.22 367.5 452.52 369.0 451.93 370.5 451.45 372.0 451.09 373.5 450.83 375.0 450.69 376.5 450.65 378.0 450.71 379.5 450.87 381.0 451.12 382.5 451.45 384.0 451.86 385.5 452.32 387.0 452.85 388.5 453.42 390.0 454.03 391.5 454.67 393.0 455.34 394.5 456.03 396.0 456.74 397.5 457.46 399.0 458.20 400.5 458.94 402.0 459.69 403.5 460.44 405.0 461.19 406.5 461.94 408.0 462.68 409.5 463.41 411.0 464.14 412.5 464.85 414.0 465.55 415.5 466.24 417.0 466.91 418.5 467.57 420.0 468.21 421.5 468.84 423.0 469.46 424.5 470.07 426.0 470.66 427.5 471.25 429.0 471.83 430.5 472.41 432.0 472.98 433.5 473.56 435.0 474.13 436.5 474.70 438.0 475.27 439.5 475.84 441.0 476.40 442.5 476.96 444.0 477.50 445.5 478.03 447.0 478.54 448.5 479.03 450.0 479.50 451.5 479.94 453.0 480.36 454.5 480.75 456.0 481.12 457.5 481.48 459.0 481.81 460.5 482.13 462.0 482.43 463.5 482.71 465.0 482.99 466.5 483.25 468.0 483.50 469.5 483.74 471.0 483.98 472.5 484.20 474.0 484.42 475.5 484.64 477.0 484.84 478.5 485.04 480.0 485.23 481.5 485.41 483.0 485.59 484.5 485.75 486.0 485.92 487.5 486.07 489.0 486.22 490.5 486.36 492.0 486.49 493.5 486.62 495.0 486.75 496.5 486.87 498.0 486.98 499.5 487.08 501.0 487.19 502.5 487.28 504.0 487.37 505.5 487.45 507.0 487.53 508.5 487.60 510.0 487.66 511.5 487.72 513.0 487.77 514.5 487.82 516.0 487.86 517.5 487.90 519.0 487.94 520.5 487.97 522.0 488.00 523.5 488.03 525.0 488.05 526.5 488.08 528.0 488.10 529.5 488.12 531.0 488.14 532.5 488.16 534.0 488.18 535.5 488.19 537.0 488.21 538.5 488.23 540.0 488.25 541.5 488.26 543.0 488.28 544.5 488.30 546.0 488.32 547.5 488.33 549.0 488.35 550.5 488.37 552.0 488.39 553.5 488.40 555.0 488.42 556.5 488.44 558.0 488.46 559.5 488.48 561.0 488.50 562.5 488.52 564.0 488.53 565.5 488.55 567.0 488.57 568.5 488.59 570.0 488.61 571.5 488.63 573.0 488.65 574.5 488.67 576.0 488.69 577.5 488.70 579.0 488.72 580.5 488.74 582.0 488.76 583.5 488.78 585.0 488.79 586.5 488.81 588.0 488.83 589.5 488.85 591.0 488.86 592.5 488.88 594.0 488.89 595.5 488.91 597.0 488.92 598.5 488.94 600.0 488.95 601.5 488.97 603.0 488.98 604.5 488.99 606.0 489.01 607.5 489.02 609.0 489.03 610.5 489.04 612.0 489.05 613.5 489.06 615.0 489.07 616.5 489.08 618.0 489.09 619.5 489.10 621.0 489.11 622.5 489.11 624.0 489.12 625.5 489.13 627.0 489.14 628.5 489.14 630.0 489.15 631.5 489.16 633.0 489.16 634.5 489.17 636.0 489.18 637.5 489.18 639.0 489.19 640.5 489.20 642.0 489.20 643.5 489.21 645.0 489.21 646.5 489.22 648.0 489.23 649.5 489.23 651.0 489.24 652.5 489.24 654.0 489.25 655.5 489.25 657.0 489.26 658.5 489.26 660.0 489.27 661.5 489.27 663.0 489.27 664.5 489.28 666.0 489.28 667.5 489.28 669.0 489.29 670.5 489.29 672.0 489.29 673.5 489.29 675.0 489.29 676.5 489.30 678.0 489.30 679.5 489.30 681.0 489.30 682.5 489.30 683.8 489.30" fill="none" stroke="#0aa5e6" stroke-width="3.4" stroke-linejoin="round" stroke-linecap="butt"/>
<path d="M84.0 566.20 L85.5 566.20 87.0 566.20 88.5 566.20 90.0 566.20 91.5 566.20 93.0 566.20 94.5 566.20 96.0 566.20 97.5 566.20 99.0 566.20 100.5 566.20 102.0 566.20 103.5 566.20 105.0 566.20 106.5 566.20 108.0 566.20 109.5 566.20 111.0 566.20 112.5 566.20 114.0 566.20 115.5 566.20 117.0 566.20 118.5 566.20 120.0 566.20 121.5 566.20 123.0 566.20 124.5 566.20 126.0 566.20 127.5 566.20 129.0 566.20 130.5 566.20 132.0 566.20 133.5 566.20 135.0 566.20 136.5 566.20 138.0 566.20 139.5 566.19 141.0 566.19 142.5 566.19 144.0 566.19 145.5 566.19 147.0 566.19 148.5 566.19 150.0 566.19 151.5 566.19 153.0 566.19 154.5 566.19 156.0 566.19 157.5 566.19 159.0 566.19 160.5 566.19 162.0 566.19 163.5 566.19 165.0 566.19 166.5 566.19 168.0 566.19 169.5 566.19 171.0 566.19 172.5 566.19 174.0 566.18 175.5 566.18 177.0 566.18 178.5 566.18 180.0 566.18 181.5 566.18 183.0 566.18 184.5 566.18 186.0 566.18 187.5 566.18 189.0 566.18 190.5 566.18 192.0 566.18 193.5 566.18 195.0 566.17 196.5 566.17 198.0 566.17 199.5 566.17 201.0 566.17 202.5 566.17 204.0 566.17 205.5 566.17 207.0 566.17 208.5 566.17 210.0 566.17 211.5 566.16 213.0 566.16 214.5 566.16 216.0 566.16 217.5 566.16 219.0 566.16 220.5 566.16 222.0 566.16 223.5 566.16 225.0 566.16 226.5 566.15 228.0 566.15 229.5 566.15 231.0 566.15 232.5 566.15 234.0 566.15 235.5 566.15 237.0 566.15 238.5 566.14 240.0 566.14 241.5 566.14 243.0 566.14 244.5 566.14 246.0 566.14 247.5 566.14 249.0 566.13 250.5 566.13 252.0 566.13 253.5 566.13 255.0 566.13 256.5 566.13 258.0 566.13 259.5 566.13 261.0 566.12 262.5 566.12 264.0 566.12 265.5 566.12 267.0 566.12 268.5 566.12 270.0 566.12 271.5 566.12 273.0 566.11 274.5 566.11 276.0 566.11 277.5 566.10 279.0 566.10 280.5 566.09 282.0 566.08 283.5 566.07 285.0 566.06 286.5 566.05 288.0 566.03 289.5 566.01 291.0 566.00 292.5 565.98 294.0 565.96 295.5 565.93 297.0 565.91 298.5 565.89 300.0 565.87 301.5 565.85 303.0 565.84 304.5 565.82 306.0 565.81 307.5 565.79 309.0 565.78 310.5 565.76 312.0 565.73 313.5 565.69 315.0 565.64 316.5 565.56 318.0 565.44 319.5 565.28 321.0 565.06 322.5 564.77 324.0 564.39 325.5 563.92 327.0 563.34 328.5 562.64 330.0 561.80 331.5 560.82 333.0 559.70 334.5 558.44 336.0 557.03 337.5 555.50 339.0 553.85 340.5 552.10 342.0 550.27 343.5 548.37 345.0 546.44 346.5 544.50 348.0 542.57 349.5 540.69 351.0 538.88 352.5 537.17 354.0 535.58 355.5 534.13 357.0 532.82 358.5 531.68 360.0 530.70 361.5 529.88 363.0 529.22 364.5 528.72 366.0 528.37 367.5 528.15 369.0 528.05 370.5 528.07 372.0 528.19 373.5 528.39 375.0 528.68 376.5 529.04 378.0 529.46 379.5 529.94 381.0 530.47 382.5 531.04 384.0 531.64 385.5 532.28 387.0 532.93 388.5 533.60 390.0 534.29 391.5 534.97 393.0 535.66 394.5 536.35 396.0 537.04 397.5 537.72 399.0 538.39 400.5 539.06 402.0 539.72 403.5 540.37 405.0 541.01 406.5 541.64 408.0 542.27 409.5 542.90 411.0 543.51 412.5 544.13 414.0 544.73 415.5 545.34 417.0 545.94 418.5 546.53 420.0 547.11 421.5 547.68 423.0 548.25 424.5 548.80 426.0 549.34 427.5 549.86 429.0 550.37 430.5 550.86 432.0 551.34 433.5 551.81 435.0 552.26 436.5 552.70 438.0 553.13 439.5 553.55 441.0 553.96 442.5 554.36 444.0 554.75 445.5 555.13 447.0 555.50 448.5 555.86 450.0 556.22 451.5 556.56 453.0 556.90 454.5 557.24 456.0 557.56 457.5 557.88 459.0 558.19 460.5 558.49 462.0 558.79 463.5 559.08 465.0 559.35 466.5 559.62 468.0 559.89 469.5 560.14 471.0 560.39 472.5 560.63 474.0 560.86 475.5 561.09 477.0 561.31 478.5 561.52 480.0 561.73 481.5 561.94 483.0 562.14 484.5 562.33 486.0 562.52 487.5 562.71 489.0 562.88 490.5 563.06 492.0 563.22 493.5 563.38 495.0 563.53 496.5 563.67 498.0 563.81 499.5 563.93 501.0 564.05 502.5 564.17 504.0 564.28 505.5 564.38 507.0 564.48 508.5 564.57 510.0 564.67 511.5 564.75 513.0 564.84 514.5 564.92 516.0 565.00 517.5 565.07 519.0 565.15 520.5 565.22 522.0 565.28 523.5 565.34 525.0 565.40 526.5 565.46 528.0 565.51 529.5 565.56 531.0 565.60 532.5 565.65 534.0 565.68 535.5 565.72 537.0 565.75 538.5 565.77 540.0 565.80 541.5 565.82 543.0 565.84 544.5 565.85 546.0 565.87 547.5 565.89 549.0 565.90 550.5 565.91 552.0 565.93 553.5 565.94 555.0 565.95 556.5 565.96 558.0 565.98 559.5 565.99 561.0 566.00 562.5 566.01 564.0 566.03 565.5 566.04 567.0 566.05 568.5 566.06 570.0 566.07 571.5 566.09 573.0 566.10 574.5 566.11 576.0 566.12 577.5 566.13 579.0 566.14 580.5 566.15 582.0 566.16 583.5 566.17 585.0 566.18 586.5 566.19 588.0 566.20 589.5 566.21 591.0 566.22 592.5 566.23 594.0 566.24 595.5 566.25 597.0 566.26 598.5 566.27 600.0 566.28 601.5 566.28 603.0 566.29 604.5 566.30 606.0 566.31 607.5 566.32 609.0 566.32 610.5 566.33 612.0 566.34 613.5 566.35 615.0 566.35 616.5 566.36 618.0 566.37 619.5 566.37 621.0 566.38 622.5 566.38 624.0 566.39 625.5 566.40 627.0 566.40 628.5 566.41 630.0 566.41 631.5 566.42 633.0 566.42 634.5 566.43 636.0 566.43 637.5 566.44 639.0 566.44 640.5 566.44 642.0 566.45 643.5 566.45 645.0 566.46 646.5 566.46 648.0 566.46 649.5 566.47 651.0 566.47 652.5 566.47 654.0 566.47 655.5 566.48 657.0 566.48 658.5 566.48 660.0 566.48 661.5 566.49 663.0 566.49 664.5 566.49 666.0 566.49 667.5 566.49 669.0 566.49 670.5 566.49 672.0 566.50 673.5 566.50 675.0 566.50 676.5 566.50 678.0 566.50 679.5 566.50 681.0 566.50 682.5 566.50 683.8 566.50" fill="none" stroke="#0aa5e6" stroke-width="3.4" stroke-linejoin="round" stroke-linecap="butt"/>
<path d="M84.0 566.20 L85.5 566.20 87.0 566.21 88.5 566.21 90.0 566.22 91.5 566.22 93.0 566.23 94.5 566.23 96.0 566.23 97.5 566.24 99.0 566.24 100.5 566.25 102.0 566.25 103.5 566.25 105.0 566.26 106.5 566.26 108.0 566.26 109.5 566.27 111.0 566.27 112.5 566.28 114.0 566.28 115.5 566.28 117.0 566.28 118.5 566.29 120.0 566.29 121.5 566.29 123.0 566.30 124.5 566.30 126.0 566.30 127.5 566.31 129.0 566.31 130.5 566.31 132.0 566.31 133.5 566.32 135.0 566.32 136.5 566.32 138.0 566.32 139.5 566.33 141.0 566.33 142.5 566.33 144.0 566.33 145.5 566.34 147.0 566.34 148.5 566.34 150.0 566.34 151.5 566.34 153.0 566.35 154.5 566.35 156.0 566.35 157.5 566.35 159.0 566.35 160.5 566.35 162.0 566.36 163.5 566.36 165.0 566.36 166.5 566.36 168.0 566.36 169.5 566.36 171.0 566.37 172.5 566.37 174.0 566.37 175.5 566.37 177.0 566.37 178.5 566.37 180.0 566.37 181.5 566.37 183.0 566.38 184.5 566.38 186.0 566.38 187.5 566.38 189.0 566.38 190.5 566.38 192.0 566.38 193.5 566.38 195.0 566.38 196.5 566.38 198.0 566.39 199.5 566.39 201.0 566.39 202.5 566.39 204.0 566.39 205.5 566.39 207.0 566.39 208.5 566.39 210.0 566.39 211.5 566.39 213.0 566.39 214.5 566.39 216.0 566.39 217.5 566.39 219.0 566.39 220.5 566.39 222.0 566.39 223.5 566.40 225.0 566.40 226.5 566.40 228.0 566.40 229.5 566.40 231.0 566.40 232.5 566.40 234.0 566.40 235.5 566.40 237.0 566.40 238.5 566.40 240.0 566.40 241.5 566.40 243.0 566.40 244.5 566.40 246.0 566.40 247.5 566.40 249.0 566.40 250.5 566.40 252.0 566.40 253.5 566.40 255.0 566.40 256.5 566.40 258.0 566.40 259.5 566.40 261.0 566.40 262.5 566.40 264.0 566.40 265.5 566.40 267.0 566.40 268.5 566.40 270.0 566.40 271.5 566.40 273.0 566.40 274.5 566.40 276.0 566.40 277.5 566.40 279.0 566.40 280.5 566.40 282.0 566.40 283.5 566.39 285.0 566.39 286.5 566.38 288.0 566.38 289.5 566.37 291.0 566.36 292.5 566.35 294.0 566.34 295.5 566.33 297.0 566.32 298.5 566.30 300.0 566.29 301.5 566.27 303.0 566.25 304.5 566.23 306.0 566.21 307.5 566.19 309.0 566.17 310.5 566.15 312.0 566.13 313.5 566.10 315.0 566.08 316.5 566.05 318.0 566.03 319.5 566.00 321.0 565.97 322.5 565.94 324.0 565.91 325.5 565.89 327.0 565.86 328.5 565.82 330.0 565.79 331.5 565.76 333.0 565.72 334.5 565.69 336.0 565.65 337.5 565.61 339.0 565.56 340.5 565.51 342.0 565.46 343.5 565.40 345.0 565.34 346.5 565.26 348.0 565.17 349.5 565.07 351.0 564.96 352.5 564.82 354.0 564.65 355.5 564.46 357.0 564.23 358.5 563.96 360.0 563.64 361.5 563.26 363.0 562.82 364.5 562.32 366.0 561.73 367.5 561.07 369.0 560.31 370.5 559.46 372.0 558.52 373.5 557.47 375.0 556.33 376.5 555.09 378.0 553.76 379.5 552.35 381.0 550.86 382.5 549.30 384.0 547.69 385.5 546.04 387.0 544.37 388.5 542.70 390.0 541.05 391.5 539.44 393.0 537.89 394.5 536.40 396.0 535.00 397.5 533.70 399.0 532.50 400.5 531.42 402.0 530.45 403.5 529.61 405.0 528.90 406.5 528.31 408.0 527.85 409.5 527.52 411.0 527.32 412.5 527.24 414.0 527.29 415.5 527.45 417.0 527.71 418.5 528.09 420.0 528.57 421.5 529.14 423.0 529.79 424.5 530.54 426.0 531.35 427.5 532.24 429.0 533.19 430.5 534.18 432.0 535.23 433.5 536.30 435.0 537.41 436.5 538.54 438.0 539.68 439.5 540.83 441.0 541.97 442.5 543.11 444.0 544.24 445.5 545.34 447.0 546.42 448.5 547.47 450.0 548.49 451.5 549.47 453.0 550.40 454.5 551.30 456.0 552.14 457.5 552.94 459.0 553.69 460.5 554.38 462.0 555.03 463.5 555.64 465.0 556.20 466.5 556.72 468.0 557.20 469.5 557.64 471.0 558.06 472.5 558.44 474.0 558.80 475.5 559.13 477.0 559.44 478.5 559.73 480.0 560.00 481.5 560.25 483.0 560.49 484.5 560.71 486.0 560.92 487.5 561.12 489.0 561.30 490.5 561.48 492.0 561.64 493.5 561.80 495.0 561.95 496.5 562.09 498.0 562.23 499.5 562.36 501.0 562.48 502.5 562.60 504.0 562.71 505.5 562.82 507.0 562.92 508.5 563.02 510.0 563.11 511.5 563.19 513.0 563.28 514.5 563.35 516.0 563.43 517.5 563.50 519.0 563.56 520.5 563.63 522.0 563.69 523.5 563.74 525.0 563.80 526.5 563.85 528.0 563.91 529.5 563.96 531.0 564.01 532.5 564.05 534.0 564.10 535.5 564.14 537.0 564.19 538.5 564.23 540.0 564.27 541.5 564.31 543.0 564.35 544.5 564.39 546.0 564.43 547.5 564.46 549.0 564.50 550.5 564.54 552.0 564.57 553.5 564.61 555.0 564.64 556.5 564.67 558.0 564.71 559.5 564.74 561.0 564.77 562.5 564.81 564.0 564.84 565.5 564.87 567.0 564.90 568.5 564.93 570.0 564.96 571.5 564.99 573.0 565.02 574.5 565.04 576.0 565.07 577.5 565.10 579.0 565.12 580.5 565.14 582.0 565.17 583.5 565.19 585.0 565.21 586.5 565.23 588.0 565.24 589.5 565.26 591.0 565.28 592.5 565.29 594.0 565.30 595.5 565.32 597.0 565.33 598.5 565.34 600.0 565.35 601.5 565.36 603.0 565.37 604.5 565.39 606.0 565.40 607.5 565.41 609.0 565.42 610.5 565.43 612.0 565.44 613.5 565.45 615.0 565.45 616.5 565.46 618.0 565.47 619.5 565.48 621.0 565.49 622.5 565.50 624.0 565.51 625.5 565.52 627.0 565.53 628.5 565.54 630.0 565.54 631.5 565.55 633.0 565.56 634.5 565.57 636.0 565.58 637.5 565.58 639.0 565.59 640.5 565.60 642.0 565.60 643.5 565.61 645.0 565.62 646.5 565.62 648.0 565.63 649.5 565.63 651.0 565.64 652.5 565.65 654.0 565.65 655.5 565.66 657.0 565.66 658.5 565.66 660.0 565.67 661.5 565.67 663.0 565.68 664.5 565.68 666.0 565.68 667.5 565.68 669.0 565.69 670.5 565.69 672.0 565.69 673.5 565.69 675.0 565.70 676.5 565.70 678.0 565.70 679.5 565.70 681.0 565.70 682.5 565.70 683.8 565.70" fill="none" stroke="#000000" stroke-width="3.4" stroke-linejoin="round" stroke-linecap="butt"/>
<path d="M84.0 643.10 L85.5 643.10 87.0 643.10 88.5 643.10 90.0 643.10 91.5 643.10 93.0 643.10 94.5 643.10 96.0 643.10 97.5 643.11 99.0 643.11 100.5 643.11 102.0 643.11 103.5 643.11 105.0 643.11 106.5 643.12 108.0 643.12 109.5 643.12 111.0 643.12 112.5 643.13 114.0 643.13 115.5 643.13 117.0 643.13 118.5 643.14 120.0 643.14 121.5 643.14 123.0 643.15 124.5 643.15 126.0 643.16 127.5 643.16 129.0 643.16 130.5 643.17 132.0 643.17 133.5 643.18 135.0 643.18 136.5 643.19 138.0 643.19 139.5 643.20 141.0 643.20 142.5 643.21 144.0 643.22 145.5 643.22 147.0 643.23 148.5 643.23 150.0 643.24 151.5 643.25 153.0 643.25 154.5 643.26 156.0 643.26 157.5 643.27 159.0 643.28 160.5 643.28 162.0 643.29 163.5 643.30 165.0 643.30 166.5 643.31 168.0 643.32 169.5 643.33 171.0 643.34 172.5 643.35 174.0 643.36 175.5 643.37 177.0 643.39 178.5 643.40 180.0 643.42 181.5 643.45 183.0 643.47 184.5 643.50 186.0 643.54 187.5 643.57 189.0 643.61 190.5 643.65 192.0 643.69 193.5 643.73 195.0 643.77 196.5 643.80 198.0 643.84 199.5 643.87 201.0 643.90 202.5 643.93 204.0 643.95 205.5 643.96 207.0 643.97 208.5 643.98 210.0 643.98 211.5 643.98 213.0 643.98 214.5 643.97 216.0 643.96 217.5 643.94 219.0 643.93 220.5 643.91 222.0 643.89 223.5 643.86 225.0 643.84 226.5 643.81 228.0 643.79 229.5 643.76 231.0 643.73 232.5 643.70 234.0 643.67 235.5 643.64 237.0 643.61 238.5 643.58 240.0 643.55 241.5 643.52 243.0 643.48 244.5 643.45 246.0 643.42 247.5 643.38 249.0 643.34 250.5 643.31 252.0 643.27 253.5 643.23 255.0 643.18 256.5 643.14 258.0 643.09 259.5 643.05 261.0 643.00 262.5 642.95 264.0 642.90 265.5 642.84 267.0 642.79 268.5 642.73 270.0 642.68 271.5 642.62 273.0 642.56 274.5 642.50 276.0 642.44 277.5 642.38 279.0 642.32 280.5 642.26 282.0 642.20 283.5 642.14 285.0 642.08 286.5 642.02 288.0 641.96 289.5 641.90 291.0 641.84 292.5 641.78 294.0 641.72 295.5 641.66 297.0 641.60 298.5 641.54 300.0 641.47 301.5 641.40 303.0 641.33 304.5 641.25 306.0 641.17 307.5 641.09 309.0 641.00 310.5 640.90 312.0 640.80 313.5 640.69 315.0 640.57 316.5 640.43 318.0 640.29 319.5 640.14 321.0 639.98 322.5 639.80 324.0 639.61 325.5 639.41 327.0 639.19 328.5 638.96 330.0 638.70 331.5 638.42 333.0 638.13 334.5 637.80 336.0 637.45 337.5 637.06 339.0 636.64 340.5 636.18 342.0 635.67 343.5 635.13 345.0 634.54 346.5 633.90 348.0 633.21 349.5 632.47 351.0 631.68 352.5 630.84 354.0 629.96 355.5 629.05 357.0 628.09 358.5 627.11 360.0 626.09 361.5 625.06 363.0 624.00 364.5 622.93 366.0 621.85 367.5 620.77 369.0 619.68 370.5 618.59 372.0 617.51 373.5 616.43 375.0 615.38 376.5 614.34 378.0 613.33 379.5 612.35 381.0 611.40 382.5 610.50 384.0 609.63 385.5 608.82 387.0 608.05 388.5 607.34 390.0 606.68 391.5 606.09 393.0 605.57 394.5 605.11 396.0 604.72 397.5 604.41 399.0 604.16 400.5 603.99 402.0 603.88 403.5 603.85 405.0 603.88 406.5 603.97 408.0 604.13 409.5 604.34 411.0 604.61 412.5 604.92 414.0 605.29 415.5 605.69 417.0 606.14 418.5 606.63 420.0 607.14 421.5 607.69 423.0 608.27 424.5 608.87 426.0 609.48 427.5 610.10 429.0 610.74 430.5 611.37 432.0 612.01 433.5 612.65 435.0 613.28 436.5 613.90 438.0 614.52 439.5 615.13 441.0 615.73 442.5 616.32 444.0 616.90 445.5 617.47 447.0 618.03 448.5 618.58 450.0 619.12 451.5 619.64 453.0 620.15 454.5 620.66 456.0 621.14 457.5 621.62 459.0 622.08 460.5 622.53 462.0 622.97 463.5 623.39 465.0 623.80 466.5 624.20 468.0 624.58 469.5 624.96 471.0 625.32 472.5 625.68 474.0 626.02 475.5 626.36 477.0 626.69 478.5 627.01 480.0 627.33 481.5 627.64 483.0 627.94 484.5 628.24 486.0 628.54 487.5 628.83 489.0 629.11 490.5 629.39 492.0 629.67 493.5 629.94 495.0 630.20 496.5 630.46 498.0 630.72 499.5 630.97 501.0 631.21 502.5 631.45 504.0 631.68 505.5 631.91 507.0 632.13 508.5 632.35 510.0 632.57 511.5 632.77 513.0 632.98 514.5 633.18 516.0 633.38 517.5 633.57 519.0 633.77 520.5 633.95 522.0 634.14 523.5 634.32 525.0 634.50 526.5 634.68 528.0 634.86 529.5 635.04 531.0 635.22 532.5 635.39 534.0 635.57 535.5 635.74 537.0 635.91 538.5 636.08 540.0 636.25 541.5 636.43 543.0 636.59 544.5 636.76 546.0 636.93 547.5 637.09 549.0 637.25 550.5 637.41 552.0 637.57 553.5 637.72 555.0 637.87 556.5 638.01 558.0 638.15 559.5 638.28 561.0 638.41 562.5 638.54 564.0 638.66 565.5 638.77 567.0 638.88 568.5 638.98 570.0 639.08 571.5 639.17 573.0 639.26 574.5 639.34 576.0 639.42 577.5 639.50 579.0 639.57 580.5 639.64 582.0 639.71 583.5 639.78 585.0 639.85 586.5 639.91 588.0 639.98 589.5 640.05 591.0 640.11 592.5 640.18 594.0 640.25 595.5 640.32 597.0 640.39 598.5 640.46 600.0 640.52 601.5 640.59 603.0 640.66 604.5 640.72 606.0 640.79 607.5 640.85 609.0 640.91 610.5 640.96 612.0 641.02 613.5 641.07 615.0 641.12 616.5 641.16 618.0 641.20 619.5 641.24 621.0 641.28 622.5 641.31 624.0 641.35 625.5 641.38 627.0 641.41 628.5 641.43 630.0 641.46 631.5 641.49 633.0 641.51 634.5 641.54 636.0 641.56 637.5 641.58 639.0 641.61 640.5 641.63 642.0 641.65 643.5 641.67 645.0 641.70 646.5 641.72 648.0 641.74 649.5 641.76 651.0 641.78 652.5 641.80 654.0 641.81 655.5 641.83 657.0 641.85 658.5 641.86 660.0 641.88 661.5 641.89 663.0 641.91 664.5 641.92 666.0 641.93 667.5 641.94 669.0 641.95 670.5 641.96 672.0 641.97 673.5 641.97 675.0 641.98 676.5 641.99 678.0 641.99 679.5 642.00 681.0 642.00 682.5 642.01 683.8 642.01" fill="none" stroke="#000000" stroke-width="3.4" stroke-linejoin="round" stroke-linecap="butt"/>
<path d="M84.0 643.10 L85.5 643.10 87.0 643.10 88.5 643.10 90.0 643.10 91.5 643.10 93.0 643.10 94.5 643.10 96.0 643.10 97.5 643.10 99.0 643.10 100.5 643.10 102.0 643.10 103.5 643.10 105.0 643.10 106.5 643.10 108.0 643.10 109.5 643.10 111.0 643.10 112.5 643.10 114.0 643.10 115.5 643.10 117.0 643.10 118.5 643.10 120.0 643.10 121.5 643.10 123.0 643.10 124.5 643.10 126.0 643.10 127.5 643.10 129.0 643.10 130.5 643.10 132.0 643.10 133.5 643.10 135.0 643.10 136.5 643.10 138.0 643.10 139.5 643.10 141.0 643.10 142.5 643.10 144.0 643.10 145.5 643.10 147.0 643.10 148.5 643.10 150.0 643.10 151.5 643.10 153.0 643.10 154.5 643.10 156.0 643.10 157.5 643.10 159.0 643.10 160.5 643.10 162.0 643.11 163.5 643.11 165.0 643.11 166.5 643.11 168.0 643.12 169.5 643.12 171.0 643.12 172.5 643.12 174.0 643.12 175.5 643.12 177.0 643.12 178.5 643.11 180.0 643.10 181.5 643.08 183.0 643.07 184.5 643.04 186.0 643.01 187.5 642.97 189.0 642.93 190.5 642.87 192.0 642.81 193.5 642.73 195.0 642.64 196.5 642.54 198.0 642.43 199.5 642.29 201.0 642.14 202.5 641.96 204.0 641.76 205.5 641.54 207.0 641.29 208.5 641.00 210.0 640.69 211.5 640.34 213.0 639.96 214.5 639.54 216.0 639.08 217.5 638.59 219.0 638.07 220.5 637.51 222.0 636.92 223.5 636.29 225.0 635.63 226.5 634.95 228.0 634.23 229.5 633.50 231.0 632.74 232.5 631.96 234.0 631.17 235.5 630.36 237.0 629.54 238.5 628.70 240.0 627.86 241.5 627.00 243.0 626.13 244.5 625.26 246.0 624.37 247.5 623.48 249.0 622.58 250.5 621.67 252.0 620.76 253.5 619.85 255.0 618.94 256.5 618.02 258.0 617.11 259.5 616.21 261.0 615.31 262.5 614.43 264.0 613.56 265.5 612.71 267.0 611.88 268.5 611.08 270.0 610.31 271.5 609.58 273.0 608.88 274.5 608.23 276.0 607.62 277.5 607.07 279.0 606.56 280.5 606.11 282.0 605.72 283.5 605.39 285.0 605.13 286.5 604.92 288.0 604.77 289.5 604.68 291.0 604.64 292.5 604.65 294.0 604.71 295.5 604.82 297.0 604.96 298.5 605.16 300.0 605.40 301.5 605.68 303.0 606.01 304.5 606.38 306.0 606.80 307.5 607.25 309.0 607.74 310.5 608.26 312.0 608.81 313.5 609.38 315.0 609.96 316.5 610.55 318.0 611.15 319.5 611.75 321.0 612.35 322.5 612.93 324.0 613.50 325.5 614.04 327.0 614.57 328.5 615.06 330.0 615.53 331.5 615.97 333.0 616.38 334.5 616.76 336.0 617.12 337.5 617.44 339.0 617.74 340.5 618.01 342.0 618.25 343.5 618.48 345.0 618.68 346.5 618.87 348.0 619.04 349.5 619.20 351.0 619.34 352.5 619.48 354.0 619.62 355.5 619.75 357.0 619.87 358.5 620.01 360.0 620.14 361.5 620.29 363.0 620.45 364.5 620.62 366.0 620.80 367.5 621.01 369.0 621.23 370.5 621.46 372.0 621.72 373.5 621.98 375.0 622.26 376.5 622.56 378.0 622.87 379.5 623.19 381.0 623.53 382.5 623.88 384.0 624.26 385.5 624.65 387.0 625.06 388.5 625.48 390.0 625.93 391.5 626.39 393.0 626.86 394.5 627.35 396.0 627.84 397.5 628.35 399.0 628.87 400.5 629.38 402.0 629.90 403.5 630.42 405.0 630.93 406.5 631.43 408.0 631.92 409.5 632.40 411.0 632.86 412.5 633.31 414.0 633.74 415.5 634.15 417.0 634.55 418.5 634.93 420.0 635.30 421.5 635.66 423.0 636.00 424.5 636.33 426.0 636.64 427.5 636.95 429.0 637.25 430.5 637.53 432.0 637.81 433.5 638.08 435.0 638.34 436.5 638.59 438.0 638.83 439.5 639.06 441.0 639.28 442.5 639.49 444.0 639.68 445.5 639.87 447.0 640.05 448.5 640.21 450.0 640.36 451.5 640.50 453.0 640.63 454.5 640.76 456.0 640.87 457.5 640.98 459.0 641.08 460.5 641.17 462.0 641.26 463.5 641.35 465.0 641.43 466.5 641.51 468.0 641.59 469.5 641.67 471.0 641.74 472.5 641.82 474.0 641.89 475.5 641.96 477.0 642.04 478.5 642.11 480.0 642.19 481.5 642.26 483.0 642.33 484.5 642.40 486.0 642.48 487.5 642.54 489.0 642.61 490.5 642.68 492.0 642.74 493.5 642.80 495.0 642.85 496.5 642.90 498.0 642.95 499.5 642.99 501.0 643.03 502.5 643.07 504.0 643.10 505.5 643.13 507.0 643.15 508.5 643.18 510.0 643.20 511.5 643.22 513.0 643.24 514.5 643.26 516.0 643.27 517.5 643.29 519.0 643.31 520.5 643.32 522.0 643.34 523.5 643.35 525.0 643.37 526.5 643.38 528.0 643.39 529.5 643.41 531.0 643.42 532.5 643.43 534.0 643.45 535.5 643.46 537.0 643.47 538.5 643.48 540.0 643.49 541.5 643.50 543.0 643.51 544.5 643.52 546.0 643.53 547.5 643.54 549.0 643.55 550.5 643.55 552.0 643.56 553.5 643.57 555.0 643.57 556.5 643.58 558.0 643.58 559.5 643.59 561.0 643.59 562.5 643.59 564.0 643.59 565.5 643.60 567.0 643.60 568.5 643.60 570.0 643.60 571.5 643.60 573.0 643.60 574.5 643.60 576.0 643.60 577.5 643.60 579.0 643.60 580.5 643.60 582.0 643.60 583.5 643.60 585.0 643.60 586.5 643.59 588.0 643.59 589.5 643.59 591.0 643.59 592.5 643.59 594.0 643.59 595.5 643.59 597.0 643.59 598.5 643.58 600.0 643.58 601.5 643.58 603.0 643.58 604.5 643.58 606.0 643.58 607.5 643.57 609.0 643.57 610.5 643.57 612.0 643.57 613.5 643.57 615.0 643.57 616.5 643.56 618.0 643.56 619.5 643.56 621.0 643.56 622.5 643.56 624.0 643.55 625.5 643.55 627.0 643.55 628.5 643.55 630.0 643.55 631.5 643.54 633.0 643.54 634.5 643.54 636.0 643.54 637.5 643.54 639.0 643.53 640.5 643.53 642.0 643.53 643.5 643.53 645.0 643.53 646.5 643.52 648.0 643.52 649.5 643.52 651.0 643.52 652.5 643.52 654.0 643.52 655.5 643.51 657.0 643.51 658.5 643.51 660.0 643.51 661.5 643.51 663.0 643.51 664.5 643.51 666.0 643.51 667.5 643.51 669.0 643.50 670.5 643.50 672.0 643.50 673.5 643.50 675.0 643.50 676.5 643.50 678.0 643.50 679.5 643.50 681.0 643.50 682.5 643.50 683.8 643.50" fill="none" stroke="#0aa5e6" stroke-width="3.4" stroke-linejoin="round" stroke-linecap="butt"/>
<path d="M84.0 720.40 L85.5 720.40 87.0 720.40 88.5 720.40 90.0 720.40 91.5 720.40 93.0 720.40 94.5 720.40 96.0 720.40 97.5 720.40 99.0 720.40 100.5 720.40 102.0 720.40 103.5 720.40 105.0 720.40 106.5 720.40 108.0 720.40 109.5 720.40 111.0 720.40 112.5 720.40 114.0 720.40 115.5 720.40 117.0 720.40 118.5 720.40 120.0 720.40 121.5 720.40 123.0 720.39 124.5 720.39 126.0 720.39 127.5 720.39 129.0 720.39 130.5 720.39 132.0 720.39 133.5 720.39 135.0 720.39 136.5 720.39 138.0 720.39 139.5 720.39 141.0 720.39 142.5 720.39 144.0 720.39 145.5 720.39 147.0 720.38 148.5 720.38 150.0 720.38 151.5 720.38 153.0 720.38 154.5 720.38 156.0 720.38 157.5 720.38 159.0 720.38 160.5 720.38 162.0 720.37 163.5 720.37 165.0 720.37 166.5 720.37 168.0 720.37 169.5 720.37 171.0 720.37 172.5 720.36 174.0 720.36 175.5 720.36 177.0 720.36 178.5 720.36 180.0 720.36 181.5 720.36 183.0 720.35 184.5 720.35 186.0 720.35 187.5 720.35 189.0 720.35 190.5 720.34 192.0 720.34 193.5 720.34 195.0 720.34 196.5 720.34 198.0 720.34 199.5 720.34 201.0 720.34 202.5 720.33 204.0 720.33 205.5 720.33 207.0 720.33 208.5 720.33 210.0 720.33 211.5 720.33 213.0 720.32 214.5 720.32 216.0 720.32 217.5 720.31 219.0 720.30 220.5 720.29 222.0 720.27 223.5 720.25 225.0 720.23 226.5 720.20 228.0 720.17 229.5 720.13 231.0 720.09 232.5 720.05 234.0 720.00 235.5 719.95 237.0 719.89 238.5 719.83 240.0 719.76 241.5 719.69 243.0 719.61 244.5 719.53 246.0 719.44 247.5 719.35 249.0 719.25 250.5 719.14 252.0 719.03 253.5 718.91 255.0 718.77 256.5 718.64 258.0 718.49 259.5 718.33 261.0 718.17 262.5 717.99 264.0 717.80 265.5 717.61 267.0 717.40 268.5 717.18 270.0 716.95 271.5 716.70 273.0 716.43 274.5 716.13 276.0 715.82 277.5 715.47 279.0 715.10 280.5 714.69 282.0 714.25 283.5 713.76 285.0 713.23 286.5 712.66 288.0 712.03 289.5 711.36 291.0 710.63 292.5 709.84 294.0 709.01 295.5 708.12 297.0 707.18 298.5 706.19 300.0 705.15 301.5 704.08 303.0 702.97 304.5 701.83 306.0 700.67 307.5 699.49 309.0 698.32 310.5 697.16 312.0 696.01 313.5 694.89 315.0 693.79 316.5 692.74 318.0 691.73 319.5 690.76 321.0 689.84 322.5 688.98 324.0 688.17 325.5 687.41 327.0 686.70 328.5 686.05 330.0 685.44 331.5 684.89 333.0 684.38 334.5 683.92 336.0 683.50 337.5 683.12 339.0 682.78 340.5 682.48 342.0 682.22 343.5 681.99 345.0 681.81 346.5 681.67 348.0 681.57 349.5 681.52 351.0 681.52 352.5 681.57 354.0 681.68 355.5 681.84 357.0 682.05 358.5 682.32 360.0 682.64 361.5 683.00 363.0 683.40 364.5 683.83 366.0 684.29 367.5 684.78 369.0 685.28 370.5 685.80 372.0 686.32 373.5 686.86 375.0 687.41 376.5 687.96 378.0 688.51 379.5 689.06 381.0 689.61 382.5 690.15 384.0 690.70 385.5 691.23 387.0 691.76 388.5 692.28 390.0 692.79 391.5 693.30 393.0 693.79 394.5 694.26 396.0 694.73 397.5 695.19 399.0 695.63 400.5 696.07 402.0 696.50 403.5 696.92 405.0 697.34 406.5 697.75 408.0 698.15 409.5 698.56 411.0 698.95 412.5 699.35 414.0 699.74 415.5 700.14 417.0 700.53 418.5 700.91 420.0 701.30 421.5 701.69 423.0 702.08 424.5 702.46 426.0 702.85 427.5 703.23 429.0 703.62 430.5 704.00 432.0 704.39 433.5 704.77 435.0 705.15 436.5 705.53 438.0 705.91 439.5 706.28 441.0 706.65 442.5 707.01 444.0 707.36 445.5 707.70 447.0 708.04 448.5 708.37 450.0 708.69 451.5 709.00 453.0 709.30 454.5 709.59 456.0 709.87 457.5 710.14 459.0 710.40 460.5 710.66 462.0 710.91 463.5 711.15 465.0 711.39 466.5 711.62 468.0 711.84 469.5 712.05 471.0 712.26 472.5 712.47 474.0 712.67 475.5 712.86 477.0 713.04 478.5 713.23 480.0 713.40 481.5 713.57 483.0 713.74 484.5 713.90 486.0 714.06 487.5 714.21 489.0 714.36 490.5 714.50 492.0 714.64 493.5 714.78 495.0 714.91 496.5 715.04 498.0 715.16 499.5 715.28 501.0 715.40 502.5 715.51 504.0 715.62 505.5 715.72 507.0 715.82 508.5 715.92 510.0 716.01 511.5 716.11 513.0 716.19 514.5 716.28 516.0 716.36 517.5 716.44 519.0 716.52 520.5 716.59 522.0 716.66 523.5 716.73 525.0 716.80 526.5 716.86 528.0 716.91 529.5 716.97 531.0 717.02 532.5 717.06 534.0 717.11 535.5 717.15 537.0 717.18 538.5 717.22 540.0 717.25 541.5 717.28 543.0 717.31 544.5 717.34 546.0 717.37 547.5 717.39 549.0 717.42 550.5 717.44 552.0 717.47 553.5 717.49 555.0 717.52 556.5 717.54 558.0 717.57 559.5 717.60 561.0 717.62 562.5 717.65 564.0 717.68 565.5 717.71 567.0 717.74 568.5 717.77 570.0 717.80 571.5 717.84 573.0 717.87 574.5 717.90 576.0 717.93 577.5 717.96 579.0 718.00 580.5 718.03 582.0 718.06 583.5 718.09 585.0 718.12 586.5 718.15 588.0 718.18 589.5 718.21 591.0 718.24 592.5 718.27 594.0 718.29 595.5 718.32 597.0 718.35 598.5 718.37 600.0 718.40 601.5 718.42 603.0 718.45 604.5 718.47 606.0 718.50 607.5 718.52 609.0 718.55 610.5 718.57 612.0 718.60 613.5 718.62 615.0 718.64 616.5 718.67 618.0 718.69 619.5 718.72 621.0 718.74 622.5 718.77 624.0 718.79 625.5 718.81 627.0 718.84 628.5 718.86 630.0 718.89 631.5 718.91 633.0 718.93 634.5 718.96 636.0 718.98 637.5 719.00 639.0 719.02 640.5 719.05 642.0 719.07 643.5 719.09 645.0 719.11 646.5 719.13 648.0 719.15 649.5 719.17 651.0 719.19 652.5 719.20 654.0 719.22 655.5 719.24 657.0 719.25 658.5 719.27 660.0 719.28 661.5 719.30 663.0 719.31 664.5 719.32 666.0 719.33 667.5 719.34 669.0 719.35 670.5 719.36 672.0 719.37 673.5 719.37 675.0 719.38 676.5 719.39 678.0 719.39 679.5 719.40 681.0 719.40 682.5 719.41 683.8 719.41" fill="none" stroke="#000000" stroke-width="3.4" stroke-linejoin="round" stroke-linecap="butt"/>
<path d="M84.0 720.40 L85.5 720.40 87.0 720.40 88.5 720.40 90.0 720.40 91.5 720.40 93.0 720.39 94.5 720.39 96.0 720.39 97.5 720.39 99.0 720.39 100.5 720.38 102.0 720.38 103.5 720.38 105.0 720.38 106.5 720.37 108.0 720.37 109.5 720.36 111.0 720.36 112.5 720.35 114.0 720.35 115.5 720.35 117.0 720.34 118.5 720.33 120.0 720.33 121.5 720.32 123.0 720.32 124.5 720.31 126.0 720.30 127.5 720.30 129.0 720.29 130.5 720.28 132.0 720.27 133.5 720.26 135.0 720.26 136.5 720.25 138.0 720.24 139.5 720.23 141.0 720.22 142.5 720.21 144.0 720.20 145.5 720.19 147.0 720.18 148.5 720.17 150.0 720.16 151.5 720.15 153.0 720.14 154.5 720.13 156.0 720.12 157.5 720.10 159.0 720.09 160.5 720.08 162.0 720.07 163.5 720.05 165.0 720.04 166.5 720.03 168.0 720.01 169.5 720.00 171.0 719.99 172.5 719.97 174.0 719.96 175.5 719.94 177.0 719.93 178.5 719.91 180.0 719.90 181.5 719.88 183.0 719.87 184.5 719.85 186.0 719.83 187.5 719.82 189.0 719.80 190.5 719.78 192.0 719.77 193.5 719.75 195.0 719.73 196.5 719.71 198.0 719.69 199.5 719.68 201.0 719.66 202.5 719.64 204.0 719.62 205.5 719.60 207.0 719.59 208.5 719.57 210.0 719.55 211.5 719.53 213.0 719.51 214.5 719.49 216.0 719.46 217.5 719.44 219.0 719.42 220.5 719.39 222.0 719.36 223.5 719.33 225.0 719.29 226.5 719.25 228.0 719.21 229.5 719.17 231.0 719.12 232.5 719.07 234.0 719.02 235.5 718.96 237.0 718.90 238.5 718.83 240.0 718.76 241.5 718.69 243.0 718.61 244.5 718.53 246.0 718.44 247.5 718.35 249.0 718.26 250.5 718.15 252.0 718.05 253.5 717.93 255.0 717.81 256.5 717.68 258.0 717.54 259.5 717.39 261.0 717.24 262.5 717.08 264.0 716.90 265.5 716.71 267.0 716.51 268.5 716.29 270.0 716.06 271.5 715.80 273.0 715.52 274.5 715.20 276.0 714.86 277.5 714.47 279.0 714.05 280.5 713.58 282.0 713.07 283.5 712.50 285.0 711.87 286.5 711.20 288.0 710.46 289.5 709.66 291.0 708.81 292.5 707.91 294.0 706.95 295.5 705.96 297.0 704.92 298.5 703.85 300.0 702.76 301.5 701.64 303.0 700.51 304.5 699.38 306.0 698.24 307.5 697.11 309.0 695.99 310.5 694.89 312.0 693.81 313.5 692.77 315.0 691.75 316.5 690.77 318.0 689.83 319.5 688.94 321.0 688.09 322.5 687.28 324.0 686.53 325.5 685.82 327.0 685.17 328.5 684.57 330.0 684.02 331.5 683.53 333.0 683.10 334.5 682.72 336.0 682.40 337.5 682.14 339.0 681.94 340.5 681.79 342.0 681.70 343.5 681.67 345.0 681.68 346.5 681.74 348.0 681.84 349.5 681.99 351.0 682.18 352.5 682.42 354.0 682.70 355.5 683.02 357.0 683.38 358.5 683.79 360.0 684.22 361.5 684.69 363.0 685.18 364.5 685.69 366.0 686.21 367.5 686.74 369.0 687.28 370.5 687.83 372.0 688.37 373.5 688.92 375.0 689.46 376.5 690.01 378.0 690.55 379.5 691.09 381.0 691.63 382.5 692.17 384.0 692.71 385.5 693.24 387.0 693.78 388.5 694.30 390.0 694.83 391.5 695.35 393.0 695.86 394.5 696.37 396.0 696.87 397.5 697.37 399.0 697.86 400.5 698.34 402.0 698.81 403.5 699.27 405.0 699.72 406.5 700.17 408.0 700.60 409.5 701.03 411.0 701.44 412.5 701.85 414.0 702.25 415.5 702.64 417.0 703.03 418.5 703.41 420.0 703.79 421.5 704.17 423.0 704.54 424.5 704.91 426.0 705.28 427.5 705.65 429.0 706.01 430.5 706.38 432.0 706.75 433.5 707.11 435.0 707.47 436.5 707.83 438.0 708.19 439.5 708.54 441.0 708.88 442.5 709.21 444.0 709.54 445.5 709.86 447.0 710.17 448.5 710.47 450.0 710.75 451.5 711.03 453.0 711.30 454.5 711.55 456.0 711.79 457.5 712.03 459.0 712.25 460.5 712.47 462.0 712.68 463.5 712.88 465.0 713.07 466.5 713.26 468.0 713.44 469.5 713.61 471.0 713.78 472.5 713.95 474.0 714.11 475.5 714.27 477.0 714.42 478.5 714.57 480.0 714.71 481.5 714.85 483.0 714.99 484.5 715.13 486.0 715.26 487.5 715.39 489.0 715.51 490.5 715.63 492.0 715.75 493.5 715.87 495.0 715.98 496.5 716.08 498.0 716.19 499.5 716.28 501.0 716.38 502.5 716.46 504.0 716.55 505.5 716.63 507.0 716.70 508.5 716.77 510.0 716.84 511.5 716.90 513.0 716.96 514.5 717.02 516.0 717.07 517.5 717.12 519.0 717.17 520.5 717.22 522.0 717.26 523.5 717.31 525.0 717.36 526.5 717.40 528.0 717.45 529.5 717.49 531.0 717.54 532.5 717.58 534.0 717.63 535.5 717.68 537.0 717.73 538.5 717.77 540.0 717.82 541.5 717.87 543.0 717.92 544.5 717.96 546.0 718.01 547.5 718.06 549.0 718.10 550.5 718.15 552.0 718.19 553.5 718.23 555.0 718.27 556.5 718.31 558.0 718.35 559.5 718.38 561.0 718.41 562.5 718.45 564.0 718.48 565.5 718.50 567.0 718.53 568.5 718.56 570.0 718.58 571.5 718.61 573.0 718.63 574.5 718.65 576.0 718.68 577.5 718.70 579.0 718.72 580.5 718.74 582.0 718.76 583.5 718.78 585.0 718.80 586.5 718.82 588.0 718.84 589.5 718.86 591.0 718.88 592.5 718.90 594.0 718.92 595.5 718.94 597.0 718.96 598.5 718.98 600.0 719.00 601.5 719.02 603.0 719.04 604.5 719.06 606.0 719.09 607.5 719.11 609.0 719.13 610.5 719.15 612.0 719.18 613.5 719.20 615.0 719.22 616.5 719.25 618.0 719.27 619.5 719.29 621.0 719.32 622.5 719.34 624.0 719.37 625.5 719.39 627.0 719.42 628.5 719.44 630.0 719.46 631.5 719.49 633.0 719.51 634.5 719.53 636.0 719.56 637.5 719.58 639.0 719.60 640.5 719.63 642.0 719.65 643.5 719.67 645.0 719.69 646.5 719.71 648.0 719.73 649.5 719.75 651.0 719.77 652.5 719.79 654.0 719.81 655.5 719.83 657.0 719.84 658.5 719.86 660.0 719.87 661.5 719.89 663.0 719.90 664.5 719.91 666.0 719.93 667.5 719.94 669.0 719.95 670.5 719.96 672.0 719.96 673.5 719.97 675.0 719.98 676.5 719.99 678.0 719.99 679.5 720.00 681.0 720.00 682.5 720.01 683.8 720.01" fill="none" stroke="#0aa5e6" stroke-width="3.4" stroke-linejoin="round" stroke-linecap="butt"/>
<path d="M84.0 797.70 L85.5 797.70 87.0 797.70 88.5 797.70 90.0 797.70 91.5 797.70 93.0 797.70 94.5 797.70 96.0 797.70 97.5 797.70 99.0 797.70 100.5 797.70 102.0 797.70 103.5 797.70 105.0 797.70 106.5 797.70 108.0 797.70 109.5 797.70 111.0 797.70 112.5 797.70 114.0 797.70 115.5 797.70 117.0 797.70 118.5 797.70 120.0 797.70 121.5 797.70 123.0 797.70 124.5 797.70 126.0 797.70 127.5 797.70 129.0 797.70 130.5 797.70 132.0 797.70 133.5 797.70 135.0 797.70 136.5 797.70 138.0 797.70 139.5 797.70 141.0 797.70 142.5 797.70 144.0 797.70 145.5 797.70 147.0 797.70 148.5 797.70 150.0 797.70 151.5 797.70 153.0 797.70 154.5 797.70 156.0 797.70 157.5 797.70 159.0 797.70 160.5 797.70 162.0 797.70 163.5 797.70 165.0 797.70 166.5 797.70 168.0 797.70 169.5 797.69 171.0 797.69 172.5 797.69 174.0 797.70 175.5 797.70 177.0 797.70 178.5 797.70 180.0 797.71 181.5 797.71 183.0 797.72 184.5 797.73 186.0 797.74 187.5 797.75 189.0 797.76 190.5 797.78 192.0 797.79 193.5 797.81 195.0 797.83 196.5 797.85 198.0 797.87 199.5 797.90 201.0 797.92 202.5 797.94 204.0 797.96 205.5 797.98 207.0 798.00 208.5 798.02 210.0 798.04 211.5 798.06 213.0 798.07 214.5 798.08 216.0 798.08 217.5 798.09 219.0 798.09 220.5 798.08 222.0 798.07 223.5 798.05 225.0 798.03 226.5 798.01 228.0 797.98 229.5 797.94 231.0 797.91 232.5 797.86 234.0 797.82 235.5 797.77 237.0 797.71 238.5 797.66 240.0 797.61 241.5 797.55 243.0 797.50 244.5 797.44 246.0 797.39 247.5 797.33 249.0 797.28 250.5 797.24 252.0 797.19 253.5 797.15 255.0 797.12 256.5 797.08 258.0 797.05 259.5 797.03 261.0 797.00 262.5 796.98 264.0 796.97 265.5 796.95 267.0 796.94 268.5 796.93 270.0 796.93 271.5 796.92 273.0 796.91 274.5 796.90 276.0 796.90 277.5 796.89 279.0 796.88 280.5 796.87 282.0 796.85 283.5 796.83 285.0 796.81 286.5 796.79 288.0 796.76 289.5 796.72 291.0 796.68 292.5 796.63 294.0 796.58 295.5 796.52 297.0 796.46 298.5 796.39 300.0 796.31 301.5 796.23 303.0 796.14 304.5 796.05 306.0 795.95 307.5 795.85 309.0 795.75 310.5 795.63 312.0 795.52 313.5 795.39 315.0 795.26 316.5 795.12 318.0 794.98 319.5 794.83 321.0 794.67 322.5 794.50 324.0 794.32 325.5 794.14 327.0 793.94 328.5 793.74 330.0 793.53 331.5 793.31 333.0 793.08 334.5 792.84 336.0 792.59 337.5 792.32 339.0 792.05 340.5 791.76 342.0 791.46 343.5 791.14 345.0 790.81 346.5 790.46 348.0 790.10 349.5 789.72 351.0 789.32 352.5 788.90 354.0 788.47 355.5 788.02 357.0 787.55 358.5 787.05 360.0 786.54 361.5 786.00 363.0 785.43 364.5 784.84 366.0 784.21 367.5 783.55 369.0 782.84 370.5 782.10 372.0 781.30 373.5 780.46 375.0 779.57 376.5 778.62 378.0 777.61 379.5 776.55 381.0 775.44 382.5 774.27 384.0 773.06 385.5 771.82 387.0 770.55 388.5 769.27 390.0 768.00 391.5 766.76 393.0 765.56 394.5 764.43 396.0 763.37 397.5 762.41 399.0 761.54 400.5 760.78 402.0 760.13 403.5 759.59 405.0 759.16 406.5 758.86 408.0 758.66 409.5 758.59 411.0 758.62 412.5 758.77 414.0 759.01 415.5 759.36 417.0 759.79 418.5 760.31 420.0 760.92 421.5 761.59 423.0 762.34 424.5 763.14 426.0 764.00 427.5 764.89 429.0 765.82 430.5 766.78 432.0 767.74 433.5 768.71 435.0 769.69 436.5 770.66 438.0 771.62 439.5 772.58 441.0 773.52 442.5 774.45 444.0 775.37 445.5 776.27 447.0 777.16 448.5 778.02 450.0 778.87 451.5 779.69 453.0 780.49 454.5 781.27 456.0 782.02 457.5 782.74 459.0 783.44 460.5 784.10 462.0 784.74 463.5 785.34 465.0 785.92 466.5 786.46 468.0 786.97 469.5 787.46 471.0 787.91 472.5 788.34 474.0 788.74 475.5 789.11 477.0 789.46 478.5 789.79 480.0 790.10 481.5 790.39 483.0 790.65 484.5 790.91 486.0 791.14 487.5 791.36 489.0 791.56 490.5 791.75 492.0 791.92 493.5 792.09 495.0 792.24 496.5 792.39 498.0 792.52 499.5 792.65 501.0 792.77 502.5 792.89 504.0 792.99 505.5 793.10 507.0 793.19 508.5 793.28 510.0 793.37 511.5 793.45 513.0 793.53 514.5 793.60 516.0 793.67 517.5 793.73 519.0 793.79 520.5 793.85 522.0 793.91 523.5 793.96 525.0 794.01 526.5 794.07 528.0 794.11 529.5 794.16 531.0 794.21 532.5 794.26 534.0 794.30 535.5 794.34 537.0 794.39 538.5 794.43 540.0 794.47 541.5 794.51 543.0 794.55 544.5 794.58 546.0 794.62 547.5 794.65 549.0 794.68 550.5 794.72 552.0 794.75 553.5 794.77 555.0 794.80 556.5 794.83 558.0 794.85 559.5 794.87 561.0 794.90 562.5 794.92 564.0 794.94 565.5 794.95 567.0 794.97 568.5 794.99 570.0 795.00 571.5 795.01 573.0 795.03 574.5 795.04 576.0 795.05 577.5 795.06 579.0 795.07 580.5 795.09 582.0 795.10 583.5 795.11 585.0 795.12 586.5 795.13 588.0 795.14 589.5 795.15 591.0 795.16 592.5 795.17 594.0 795.18 595.5 795.19 597.0 795.20 598.5 795.21 600.0 795.22 601.5 795.23 603.0 795.24 604.5 795.25 606.0 795.26 607.5 795.27 609.0 795.27 610.5 795.28 612.0 795.29 613.5 795.30 615.0 795.31 616.5 795.32 618.0 795.32 619.5 795.33 621.0 795.34 622.5 795.35 624.0 795.35 625.5 795.36 627.0 795.37 628.5 795.37 630.0 795.38 631.5 795.39 633.0 795.39 634.5 795.40 636.0 795.41 637.5 795.41 639.0 795.42 640.5 795.42 642.0 795.43 643.5 795.43 645.0 795.44 646.5 795.44 648.0 795.45 649.5 795.45 651.0 795.46 652.5 795.46 654.0 795.46 655.5 795.47 657.0 795.47 658.5 795.47 660.0 795.48 661.5 795.48 663.0 795.48 664.5 795.48 666.0 795.49 667.5 795.49 669.0 795.49 670.5 795.49 672.0 795.49 673.5 795.50 675.0 795.50 676.5 795.50 678.0 795.50 679.5 795.50 681.0 795.50 682.5 795.50 683.8 795.50" fill="none" stroke="#000000" stroke-width="3.4" stroke-linejoin="round" stroke-linecap="butt"/>
<path d="M84.0 797.70 L85.5 797.69 87.0 797.69 88.5 797.68 90.0 797.68 91.5 797.67 93.0 797.67 94.5 797.66 96.0 797.66 97.5 797.65 99.0 797.65 100.5 797.64 102.0 797.64 103.5 797.63 105.0 797.63 106.5 797.62 108.0 797.62 109.5 797.61 111.0 797.61 112.5 797.60 114.0 797.60 115.5 797.59 117.0 797.59 118.5 797.58 120.0 797.58 121.5 797.57 123.0 797.57 124.5 797.56 126.0 797.56 127.5 797.55 129.0 797.55 130.5 797.54 132.0 797.54 133.5 797.54 135.0 797.53 136.5 797.53 138.0 797.52 139.5 797.52 141.0 797.51 142.5 797.51 144.0 797.50 145.5 797.50 147.0 797.49 148.5 797.49 150.0 797.49 151.5 797.48 153.0 797.48 154.5 797.47 156.0 797.47 157.5 797.46 159.0 797.46 160.5 797.45 162.0 797.45 163.5 797.45 165.0 797.44 166.5 797.44 168.0 797.43 169.5 797.43 171.0 797.42 172.5 797.42 174.0 797.42 175.5 797.41 177.0 797.41 178.5 797.40 180.0 797.40 181.5 797.40 183.0 797.39 184.5 797.39 186.0 797.39 187.5 797.38 189.0 797.38 190.5 797.38 192.0 797.38 193.5 797.38 195.0 797.38 196.5 797.38 198.0 797.38 199.5 797.39 201.0 797.39 202.5 797.39 204.0 797.40 205.5 797.40 207.0 797.40 208.5 797.40 210.0 797.39 211.5 797.39 213.0 797.37 214.5 797.35 216.0 797.32 217.5 797.28 219.0 797.22 220.5 797.15 222.0 797.06 223.5 796.96 225.0 796.84 226.5 796.70 228.0 796.55 229.5 796.38 231.0 796.20 232.5 796.01 234.0 795.80 235.5 795.59 237.0 795.36 238.5 795.11 240.0 794.84 241.5 794.56 243.0 794.24 244.5 793.90 246.0 793.52 247.5 793.09 249.0 792.62 250.5 792.10 252.0 791.52 253.5 790.87 255.0 790.16 256.5 789.37 258.0 788.50 259.5 787.55 261.0 786.51 262.5 785.40 264.0 784.20 265.5 782.92 267.0 781.58 268.5 780.18 270.0 778.72 271.5 777.23 273.0 775.72 274.5 774.21 276.0 772.70 277.5 771.22 279.0 769.79 280.5 768.41 282.0 767.11 283.5 765.89 285.0 764.76 286.5 763.72 288.0 762.79 289.5 761.97 291.0 761.26 292.5 760.65 294.0 760.15 295.5 759.75 297.0 759.45 298.5 759.25 300.0 759.15 301.5 759.15 303.0 759.23 304.5 759.40 306.0 759.65 307.5 759.98 309.0 760.37 310.5 760.83 312.0 761.35 313.5 761.94 315.0 762.57 316.5 763.25 318.0 763.97 319.5 764.73 321.0 765.51 322.5 766.31 324.0 767.12 325.5 767.92 327.0 768.72 328.5 769.51 330.0 770.29 331.5 771.04 333.0 771.79 334.5 772.51 336.0 773.22 337.5 773.91 339.0 774.58 340.5 775.25 342.0 775.89 343.5 776.53 345.0 777.15 346.5 777.76 348.0 778.35 349.5 778.93 351.0 779.49 352.5 780.03 354.0 780.56 355.5 781.07 357.0 781.57 358.5 782.05 360.0 782.51 361.5 782.95 363.0 783.38 364.5 783.80 366.0 784.20 367.5 784.58 369.0 784.95 370.5 785.30 372.0 785.64 373.5 785.97 375.0 786.28 376.5 786.58 378.0 786.86 379.5 787.14 381.0 787.41 382.5 787.66 384.0 787.91 385.5 788.15 387.0 788.38 388.5 788.60 390.0 788.82 391.5 789.02 393.0 789.23 394.5 789.42 396.0 789.61 397.5 789.80 399.0 789.98 400.5 790.16 402.0 790.33 403.5 790.49 405.0 790.66 406.5 790.81 408.0 790.97 409.5 791.12 411.0 791.27 412.5 791.42 414.0 791.56 415.5 791.70 417.0 791.84 418.5 791.98 420.0 792.11 421.5 792.25 423.0 792.38 424.5 792.51 426.0 792.64 427.5 792.77 429.0 792.90 430.5 793.02 432.0 793.15 433.5 793.27 435.0 793.39 436.5 793.50 438.0 793.62 439.5 793.73 441.0 793.83 442.5 793.94 444.0 794.03 445.5 794.13 447.0 794.22 448.5 794.30 450.0 794.38 451.5 794.46 453.0 794.53 454.5 794.60 456.0 794.66 457.5 794.73 459.0 794.78 460.5 794.84 462.0 794.90 463.5 794.95 465.0 795.00 466.5 795.05 468.0 795.11 469.5 795.16 471.0 795.21 472.5 795.27 474.0 795.32 475.5 795.38 477.0 795.43 478.5 795.49 480.0 795.55 481.5 795.61 483.0 795.68 484.5 795.74 486.0 795.80 487.5 795.86 489.0 795.92 490.5 795.98 492.0 796.04 493.5 796.10 495.0 796.15 496.5 796.20 498.0 796.25 499.5 796.29 501.0 796.33 502.5 796.37 504.0 796.40 505.5 796.43 507.0 796.46 508.5 796.48 510.0 796.50 511.5 796.52 513.0 796.54 514.5 796.56 516.0 796.58 517.5 796.60 519.0 796.61 520.5 796.63 522.0 796.64 523.5 796.66 525.0 796.67 526.5 796.68 528.0 796.70 529.5 796.71 531.0 796.72 532.5 796.73 534.0 796.74 535.5 796.76 537.0 796.77 538.5 796.78 540.0 796.79 541.5 796.80 543.0 796.81 544.5 796.82 546.0 796.83 547.5 796.84 549.0 796.85 550.5 796.86 552.0 796.87 553.5 796.88 555.0 796.89 556.5 796.90 558.0 796.91 559.5 796.92 561.0 796.93 562.5 796.94 564.0 796.96 565.5 796.97 567.0 796.98 568.5 796.99 570.0 797.00 571.5 797.01 573.0 797.02 574.5 797.04 576.0 797.05 577.5 797.06 579.0 797.08 580.5 797.09 582.0 797.10 583.5 797.12 585.0 797.13 586.5 797.14 588.0 797.16 589.5 797.17 591.0 797.18 592.5 797.20 594.0 797.21 595.5 797.23 597.0 797.24 598.5 797.25 600.0 797.27 601.5 797.28 603.0 797.30 604.5 797.31 606.0 797.33 607.5 797.34 609.0 797.35 610.5 797.37 612.0 797.38 613.5 797.40 615.0 797.41 616.5 797.42 618.0 797.44 619.5 797.45 621.0 797.46 622.5 797.48 624.0 797.49 625.5 797.50 627.0 797.52 628.5 797.53 630.0 797.54 631.5 797.56 633.0 797.57 634.5 797.58 636.0 797.59 637.5 797.60 639.0 797.61 640.5 797.63 642.0 797.64 643.5 797.65 645.0 797.66 646.5 797.67 648.0 797.68 649.5 797.69 651.0 797.70 652.5 797.70 654.0 797.71 655.5 797.72 657.0 797.73 658.5 797.74 660.0 797.74 661.5 797.75 663.0 797.76 664.5 797.76 666.0 797.77 667.5 797.77 669.0 797.78 670.5 797.78 672.0 797.78 673.5 797.79 675.0 797.79 676.5 797.79 678.0 797.80 679.5 797.80 681.0 797.80 682.5 797.80 683.8 797.80" fill="none" stroke="#0aa5e6" stroke-width="3.4" stroke-linejoin="round" stroke-linecap="butt"/>
<path d="M887.8 96.30 L889.3 96.30 890.8 96.30 892.3 96.30 893.8 96.30 895.3 96.30 896.8 96.30 898.3 96.30 899.8 96.30 901.3 96.29 902.8 96.29 904.3 96.29 905.8 96.29 907.3 96.29 908.8 96.29 910.3 96.29 911.8 96.29 913.3 96.28 914.8 96.28 916.3 96.28 917.8 96.28 919.3 96.28 920.8 96.27 922.3 96.27 923.8 96.27 925.3 96.27 926.8 96.26 928.3 96.26 929.8 96.26 931.3 96.26 932.8 96.25 934.3 96.25 935.8 96.25 937.3 96.25 938.8 96.24 940.3 96.24 941.8 96.24 943.3 96.23 944.8 96.23 946.3 96.23 947.8 96.23 949.3 96.22 950.8 96.22 952.3 96.22 953.8 96.21 955.3 96.21 956.8 96.21 958.3 96.20 959.8 96.20 961.3 96.20 962.8 96.19 964.3 96.19 965.8 96.19 967.3 96.18 968.8 96.18 970.3 96.17 971.8 96.17 973.3 96.17 974.8 96.16 976.3 96.16 977.8 96.15 979.3 96.15 980.8 96.14 982.3 96.14 983.8 96.13 985.3 96.13 986.8 96.12 988.3 96.11 989.8 96.11 991.3 96.10 992.8 96.10 994.3 96.09 995.8 96.08 997.3 96.08 998.8 96.07 1000.3 96.06 1001.8 96.06 1003.3 96.05 1004.8 96.04 1006.3 96.03 1007.8 96.03 1009.3 96.02 1010.8 96.01 1012.3 96.00 1013.8 95.99 1015.3 95.99 1016.8 95.98 1018.3 95.97 1019.8 95.96 1021.3 95.95 1022.8 95.94 1024.3 95.94 1025.8 95.93 1027.3 95.92 1028.8 95.91 1030.3 95.90 1031.8 95.89 1033.3 95.88 1034.8 95.87 1036.3 95.86 1037.8 95.85 1039.3 95.84 1040.8 95.83 1042.3 95.81 1043.8 95.80 1045.3 95.79 1046.8 95.78 1048.3 95.76 1049.8 95.75 1051.3 95.74 1052.8 95.72 1054.3 95.71 1055.8 95.69 1057.3 95.68 1058.8 95.66 1060.3 95.64 1061.8 95.63 1063.3 95.61 1064.8 95.59 1066.3 95.57 1067.8 95.55 1069.3 95.53 1070.8 95.51 1072.3 95.49 1073.8 95.47 1075.3 95.45 1076.8 95.42 1078.3 95.40 1079.8 95.37 1081.3 95.34 1082.8 95.31 1084.3 95.28 1085.8 95.25 1087.3 95.21 1088.8 95.18 1090.3 95.14 1091.8 95.10 1093.3 95.05 1094.8 95.01 1096.3 94.96 1097.8 94.91 1099.3 94.86 1100.8 94.81 1102.3 94.75 1103.8 94.69 1105.3 94.63 1106.8 94.57 1108.3 94.50 1109.8 94.43 1111.3 94.35 1112.8 94.27 1114.3 94.19 1115.8 94.10 1117.3 94.00 1118.8 93.90 1120.3 93.79 1121.8 93.67 1123.3 93.55 1124.8 93.42 1126.3 93.27 1127.8 93.12 1129.3 92.95 1130.8 92.76 1132.3 92.56 1133.8 92.33 1135.3 92.07 1136.8 91.78 1138.3 91.45 1139.8 91.06 1141.3 90.63 1142.8 90.12 1144.3 89.55 1145.8 88.90 1147.3 88.15 1148.8 87.32 1150.3 86.39 1151.8 85.36 1153.3 84.22 1154.8 82.99 1156.3 81.67 1157.8 80.26 1159.3 78.79 1160.8 77.25 1162.3 75.67 1163.8 74.06 1165.3 72.45 1166.8 70.84 1168.3 69.27 1169.8 67.74 1171.3 66.29 1172.8 64.91 1174.3 63.64 1175.8 62.47 1177.3 61.42 1178.8 60.48 1180.3 59.66 1181.8 58.96 1183.3 58.39 1184.8 57.94 1186.3 57.61 1187.8 57.41 1189.3 57.33 1190.8 57.36 1192.3 57.50 1193.8 57.74 1195.3 58.09 1196.8 58.54 1198.3 59.07 1199.8 59.69 1201.3 60.38 1202.8 61.13 1204.3 61.93 1205.8 62.76 1207.3 63.62 1208.8 64.50 1210.3 65.39 1211.8 66.29 1213.3 67.20 1214.8 68.10 1216.3 69.01 1217.8 69.92 1219.3 70.83 1220.8 71.73 1222.3 72.63 1223.8 73.51 1225.3 74.39 1226.8 75.25 1228.3 76.09 1229.8 76.92 1231.3 77.72 1232.8 78.51 1234.3 79.27 1235.8 80.02 1237.3 80.74 1238.8 81.44 1240.3 82.11 1241.8 82.76 1243.3 83.39 1244.8 84.00 1246.3 84.58 1247.8 85.14 1249.3 85.68 1250.8 86.19 1252.3 86.69 1253.8 87.16 1255.3 87.61 1256.8 88.04 1258.3 88.45 1259.8 88.84 1261.3 89.21 1262.8 89.56 1264.3 89.89 1265.8 90.21 1267.3 90.50 1268.8 90.78 1270.3 91.04 1271.8 91.28 1273.3 91.50 1274.8 91.70 1276.3 91.89 1277.8 92.05 1279.3 92.21 1280.8 92.34 1282.3 92.46 1283.8 92.57 1285.3 92.66 1286.8 92.74 1288.3 92.82 1289.8 92.88 1291.3 92.94 1292.8 92.99 1294.3 93.04 1295.8 93.08 1297.3 93.11 1298.8 93.15 1300.3 93.18 1301.8 93.21 1303.3 93.24 1304.8 93.27 1306.3 93.30 1307.8 93.33 1309.3 93.36 1310.8 93.39 1312.3 93.42 1313.8 93.45 1315.3 93.48 1316.8 93.51 1318.3 93.54 1319.8 93.57 1321.3 93.60 1322.8 93.63 1324.3 93.67 1325.8 93.70 1327.3 93.73 1328.8 93.76 1330.3 93.79 1331.8 93.82 1333.3 93.85 1334.8 93.89 1336.3 93.91 1337.8 93.94 1339.3 93.97 1340.8 94.00 1342.3 94.03 1343.8 94.06 1345.3 94.08 1346.8 94.11 1348.3 94.13 1349.8 94.16 1351.3 94.18 1352.8 94.20 1354.3 94.22 1355.8 94.24 1357.3 94.26 1358.8 94.28 1360.3 94.30 1361.8 94.32 1363.3 94.34 1364.8 94.36 1366.3 94.38 1367.8 94.39 1369.3 94.41 1370.8 94.43 1372.3 94.45 1373.8 94.46 1375.3 94.48 1376.8 94.50 1378.3 94.52 1379.8 94.53 1381.3 94.55 1382.8 94.57 1384.3 94.58 1385.8 94.60 1387.3 94.62 1388.8 94.63 1390.3 94.65 1391.8 94.67 1393.3 94.68 1394.8 94.70 1396.3 94.72 1397.8 94.73 1399.3 94.75 1400.8 94.77 1402.3 94.78 1403.8 94.80 1405.3 94.81 1406.8 94.83 1408.3 94.84 1409.8 94.86 1411.3 94.87 1412.8 94.89 1414.3 94.90 1415.8 94.92 1417.3 94.93 1418.8 94.94 1420.3 94.96 1421.8 94.97 1423.3 94.99 1424.8 95.00 1426.3 95.01 1427.8 95.02 1429.3 95.04 1430.8 95.05 1432.3 95.06 1433.8 95.07 1435.3 95.09 1436.8 95.10 1438.3 95.11 1439.8 95.12 1441.3 95.13 1442.8 95.14 1444.3 95.15 1445.8 95.16 1447.3 95.17 1448.8 95.18 1450.3 95.19 1451.8 95.20 1453.3 95.20 1454.8 95.21 1456.3 95.22 1457.8 95.23 1459.3 95.23 1460.8 95.24 1462.3 95.25 1463.8 95.25 1465.3 95.26 1466.8 95.26 1468.3 95.27 1469.8 95.27 1471.3 95.28 1472.8 95.28 1474.3 95.28 1475.8 95.29 1477.3 95.29 1478.8 95.29 1480.3 95.29 1481.8 95.30 1483.3 95.30 1484.8 95.30 1486.3 95.30 1487.3 95.30" fill="none" stroke="#000000" stroke-width="3.4" stroke-linejoin="round" stroke-linecap="butt"/>
<path d="M887.8 96.21 L889.3 96.16 890.8 96.11 892.3 96.06 893.8 96.01 895.3 95.97 896.8 95.93 898.3 95.90 899.8 95.87 901.3 95.84 902.8 95.82 904.3 95.81 905.8 95.80 907.3 95.79 908.8 95.79 910.3 95.78 911.8 95.78 913.3 95.78 914.8 95.78 916.3 95.79 917.8 95.79 919.3 95.79 920.8 95.79 922.3 95.79 923.8 95.80 925.3 95.80 926.8 95.80 928.3 95.80 929.8 95.80 931.3 95.80 932.8 95.80 934.3 95.80 935.8 95.80 937.3 95.80 938.8 95.80 940.3 95.80 941.8 95.80 943.3 95.80 944.8 95.80 946.3 95.80 947.8 95.80 949.3 95.80 950.8 95.80 952.3 95.80 953.8 95.81 955.3 95.81 956.8 95.81 958.3 95.81 959.8 95.82 961.3 95.82 962.8 95.82 964.3 95.82 965.8 95.82 967.3 95.82 968.8 95.82 970.3 95.82 971.8 95.81 973.3 95.79 974.8 95.78 976.3 95.75 977.8 95.72 979.3 95.69 980.8 95.64 982.3 95.59 983.8 95.52 985.3 95.44 986.8 95.34 988.3 95.23 989.8 95.10 991.3 94.94 992.8 94.75 994.3 94.53 995.8 94.27 997.3 93.97 998.8 93.62 1000.3 93.22 1001.8 92.77 1003.3 92.25 1004.8 91.67 1006.3 91.01 1007.8 90.29 1009.3 89.48 1010.8 88.60 1012.3 87.64 1013.8 86.61 1015.3 85.50 1016.8 84.31 1018.3 83.05 1019.8 81.73 1021.3 80.35 1022.8 78.92 1024.3 77.45 1025.8 75.95 1027.3 74.44 1028.8 72.92 1030.3 71.41 1031.8 69.92 1033.3 68.47 1034.8 67.07 1036.3 65.74 1037.8 64.48 1039.3 63.31 1040.8 62.23 1042.3 61.25 1043.8 60.38 1045.3 59.62 1046.8 58.98 1048.3 58.46 1049.8 58.06 1051.3 57.78 1052.8 57.61 1054.3 57.56 1055.8 57.60 1057.3 57.75 1058.8 57.99 1060.3 58.31 1061.8 58.71 1063.3 59.20 1064.8 59.76 1066.3 60.39 1067.8 61.09 1069.3 61.85 1070.8 62.66 1072.3 63.52 1073.8 64.41 1075.3 65.33 1076.8 66.25 1078.3 67.18 1079.8 68.11 1081.3 69.02 1082.8 69.92 1084.3 70.80 1085.8 71.66 1087.3 72.49 1088.8 73.30 1090.3 74.09 1091.8 74.85 1093.3 75.58 1094.8 76.30 1096.3 76.99 1097.8 77.66 1099.3 78.31 1100.8 78.93 1102.3 79.54 1103.8 80.12 1105.3 80.69 1106.8 81.23 1108.3 81.76 1109.8 82.27 1111.3 82.75 1112.8 83.22 1114.3 83.67 1115.8 84.11 1117.3 84.52 1118.8 84.92 1120.3 85.30 1121.8 85.66 1123.3 86.01 1124.8 86.34 1126.3 86.66 1127.8 86.96 1129.3 87.26 1130.8 87.53 1132.3 87.80 1133.8 88.05 1135.3 88.30 1136.8 88.53 1138.3 88.75 1139.8 88.96 1141.3 89.16 1142.8 89.36 1144.3 89.54 1145.8 89.72 1147.3 89.89 1148.8 90.05 1150.3 90.21 1151.8 90.35 1153.3 90.50 1154.8 90.64 1156.3 90.77 1157.8 90.90 1159.3 91.03 1160.8 91.16 1162.3 91.29 1163.8 91.42 1165.3 91.56 1166.8 91.69 1168.3 91.83 1169.8 91.98 1171.3 92.12 1172.8 92.27 1174.3 92.42 1175.8 92.57 1177.3 92.72 1178.8 92.86 1180.3 93.00 1181.8 93.13 1183.3 93.25 1184.8 93.36 1186.3 93.47 1187.8 93.56 1189.3 93.65 1190.8 93.73 1192.3 93.81 1193.8 93.88 1195.3 93.94 1196.8 94.00 1198.3 94.06 1199.8 94.11 1201.3 94.16 1202.8 94.21 1204.3 94.25 1205.8 94.29 1207.3 94.34 1208.8 94.38 1210.3 94.41 1211.8 94.45 1213.3 94.49 1214.8 94.53 1216.3 94.56 1217.8 94.59 1219.3 94.63 1220.8 94.66 1222.3 94.69 1223.8 94.72 1225.3 94.75 1226.8 94.78 1228.3 94.81 1229.8 94.84 1231.3 94.86 1232.8 94.89 1234.3 94.92 1235.8 94.95 1237.3 94.97 1238.8 95.00 1240.3 95.03 1241.8 95.05 1243.3 95.08 1244.8 95.10 1246.3 95.13 1247.8 95.15 1249.3 95.18 1250.8 95.20 1252.3 95.23 1253.8 95.25 1255.3 95.27 1256.8 95.29 1258.3 95.32 1259.8 95.34 1261.3 95.36 1262.8 95.37 1264.3 95.39 1265.8 95.41 1267.3 95.42 1268.8 95.44 1270.3 95.45 1271.8 95.47 1273.3 95.48 1274.8 95.49 1276.3 95.50 1277.8 95.51 1279.3 95.52 1280.8 95.53 1282.3 95.54 1283.8 95.55 1285.3 95.55 1286.8 95.56 1288.3 95.57 1289.8 95.58 1291.3 95.58 1292.8 95.59 1294.3 95.60 1295.8 95.60 1297.3 95.61 1298.8 95.62 1300.3 95.62 1301.8 95.63 1303.3 95.64 1304.8 95.64 1306.3 95.65 1307.8 95.65 1309.3 95.66 1310.8 95.67 1312.3 95.67 1313.8 95.68 1315.3 95.68 1316.8 95.69 1318.3 95.69 1319.8 95.70 1321.3 95.70 1322.8 95.71 1324.3 95.71 1325.8 95.71 1327.3 95.72 1328.8 95.72 1330.3 95.73 1331.8 95.73 1333.3 95.74 1334.8 95.74 1336.3 95.74 1337.8 95.75 1339.3 95.75 1340.8 95.76 1342.3 95.76 1343.8 95.76 1345.3 95.77 1346.8 95.77 1348.3 95.77 1349.8 95.78 1351.3 95.78 1352.8 95.78 1354.3 95.79 1355.8 95.79 1357.3 95.79 1358.8 95.80 1360.3 95.80 1361.8 95.80 1363.3 95.81 1364.8 95.81 1366.3 95.81 1367.8 95.82 1369.3 95.82 1370.8 95.82 1372.3 95.83 1373.8 95.83 1375.3 95.83 1376.8 95.84 1378.3 95.84 1379.8 95.84 1381.3 95.85 1382.8 95.85 1384.3 95.85 1385.8 95.86 1387.3 95.86 1388.8 95.86 1390.3 95.87 1391.8 95.87 1393.3 95.87 1394.8 95.88 1396.3 95.88 1397.8 95.88 1399.3 95.89 1400.8 95.89 1402.3 95.89 1403.8 95.90 1405.3 95.90 1406.8 95.90 1408.3 95.91 1409.8 95.91 1411.3 95.91 1412.8 95.92 1414.3 95.92 1415.8 95.92 1417.3 95.92 1418.8 95.93 1420.3 95.93 1421.8 95.93 1423.3 95.94 1424.8 95.94 1426.3 95.94 1427.8 95.94 1429.3 95.95 1430.8 95.95 1432.3 95.95 1433.8 95.95 1435.3 95.96 1436.8 95.96 1438.3 95.96 1439.8 95.96 1441.3 95.96 1442.8 95.97 1444.3 95.97 1445.8 95.97 1447.3 95.97 1448.8 95.97 1450.3 95.98 1451.8 95.98 1453.3 95.98 1454.8 95.98 1456.3 95.98 1457.8 95.98 1459.3 95.99 1460.8 95.99 1462.3 95.99 1463.8 95.99 1465.3 95.99 1466.8 95.99 1468.3 95.99 1469.8 95.99 1471.3 96.00 1472.8 96.00 1474.3 96.00 1475.8 96.00 1477.3 96.00 1478.8 96.00 1480.3 96.00 1481.8 96.00 1483.3 96.00 1484.8 96.00 1486.3 96.00 1487.3 96.00" fill="none" stroke="#0aa5e6" stroke-width="3.4" stroke-linejoin="round" stroke-linecap="butt"/>
<path d="M887.8 174.01 L889.3 174.02 890.8 174.04 892.3 174.05 893.8 174.07 895.3 174.08 896.8 174.10 898.3 174.11 899.8 174.12 901.3 174.14 902.8 174.15 904.3 174.16 905.8 174.17 907.3 174.18 908.8 174.19 910.3 174.20 911.8 174.21 913.3 174.22 914.8 174.23 916.3 174.23 917.8 174.24 919.3 174.25 920.8 174.25 922.3 174.26 923.8 174.26 925.3 174.27 926.8 174.27 928.3 174.27 929.8 174.28 931.3 174.28 932.8 174.28 934.3 174.29 935.8 174.29 937.3 174.29 938.8 174.29 940.3 174.29 941.8 174.30 943.3 174.30 944.8 174.30 946.3 174.30 947.8 174.30 949.3 174.30 950.8 174.30 952.3 174.30 953.8 174.30 955.3 174.30 956.8 174.30 958.3 174.30 959.8 174.30 961.3 174.30 962.8 174.30 964.3 174.29 965.8 174.29 967.3 174.28 968.8 174.28 970.3 174.27 971.8 174.27 973.3 174.26 974.8 174.25 976.3 174.24 977.8 174.23 979.3 174.22 980.8 174.21 982.3 174.19 983.8 174.18 985.3 174.17 986.8 174.15 988.3 174.14 989.8 174.12 991.3 174.11 992.8 174.09 994.3 174.07 995.8 174.05 997.3 174.03 998.8 174.01 1000.3 173.98 1001.8 173.94 1003.3 173.90 1004.8 173.85 1006.3 173.79 1007.8 173.73 1009.3 173.65 1010.8 173.56 1012.3 173.46 1013.8 173.34 1015.3 173.22 1016.8 173.09 1018.3 172.95 1019.8 172.80 1021.3 172.65 1022.8 172.50 1024.3 172.36 1025.8 172.21 1027.3 172.07 1028.8 171.94 1030.3 171.82 1031.8 171.71 1033.3 171.60 1034.8 171.51 1036.3 171.42 1037.8 171.35 1039.3 171.27 1040.8 171.21 1042.3 171.15 1043.8 171.09 1045.3 171.04 1046.8 170.99 1048.3 170.94 1049.8 170.89 1051.3 170.84 1052.8 170.79 1054.3 170.74 1055.8 170.69 1057.3 170.64 1058.8 170.59 1060.3 170.54 1061.8 170.49 1063.3 170.44 1064.8 170.38 1066.3 170.33 1067.8 170.27 1069.3 170.22 1070.8 170.16 1072.3 170.11 1073.8 170.05 1075.3 169.99 1076.8 169.93 1078.3 169.87 1079.8 169.81 1081.3 169.75 1082.8 169.69 1084.3 169.63 1085.8 169.56 1087.3 169.50 1088.8 169.43 1090.3 169.36 1091.8 169.29 1093.3 169.21 1094.8 169.13 1096.3 169.05 1097.8 168.97 1099.3 168.88 1100.8 168.78 1102.3 168.69 1103.8 168.58 1105.3 168.47 1106.8 168.36 1108.3 168.24 1109.8 168.11 1111.3 167.98 1112.8 167.85 1114.3 167.71 1115.8 167.57 1117.3 167.43 1118.8 167.30 1120.3 167.16 1121.8 167.03 1123.3 166.90 1124.8 166.77 1126.3 166.65 1127.8 166.54 1129.3 166.43 1130.8 166.32 1132.3 166.21 1133.8 166.10 1135.3 165.99 1136.8 165.88 1138.3 165.75 1139.8 165.62 1141.3 165.47 1142.8 165.30 1144.3 165.11 1145.8 164.89 1147.3 164.65 1148.8 164.38 1150.3 164.07 1151.8 163.73 1153.3 163.34 1154.8 162.91 1156.3 162.44 1157.8 161.91 1159.3 161.34 1160.8 160.71 1162.3 160.03 1163.8 159.29 1165.3 158.49 1166.8 157.64 1168.3 156.74 1169.8 155.79 1171.3 154.80 1172.8 153.77 1174.3 152.71 1175.8 151.62 1177.3 150.52 1178.8 149.41 1180.3 148.30 1181.8 147.19 1183.3 146.10 1184.8 145.03 1186.3 143.99 1187.8 142.98 1189.3 142.02 1190.8 141.10 1192.3 140.24 1193.8 139.44 1195.3 138.70 1196.8 138.05 1198.3 137.47 1199.8 136.98 1201.3 136.58 1202.8 136.28 1204.3 136.08 1205.8 135.96 1207.3 135.94 1208.8 136.00 1210.3 136.13 1211.8 136.34 1213.3 136.61 1214.8 136.94 1216.3 137.33 1217.8 137.77 1219.3 138.25 1220.8 138.78 1222.3 139.36 1223.8 139.97 1225.3 140.63 1226.8 141.32 1228.3 142.05 1229.8 142.81 1231.3 143.60 1232.8 144.42 1234.3 145.27 1235.8 146.14 1237.3 147.03 1238.8 147.93 1240.3 148.85 1241.8 149.77 1243.3 150.70 1244.8 151.63 1246.3 152.56 1247.8 153.48 1249.3 154.39 1250.8 155.28 1252.3 156.16 1253.8 157.02 1255.3 157.85 1256.8 158.66 1258.3 159.44 1259.8 160.19 1261.3 160.91 1262.8 161.60 1264.3 162.26 1265.8 162.89 1267.3 163.48 1268.8 164.05 1270.3 164.58 1271.8 165.09 1273.3 165.56 1274.8 166.00 1276.3 166.42 1277.8 166.80 1279.3 167.15 1280.8 167.48 1282.3 167.78 1283.8 168.06 1285.3 168.32 1286.8 168.55 1288.3 168.77 1289.8 168.97 1291.3 169.15 1292.8 169.33 1294.3 169.49 1295.8 169.64 1297.3 169.78 1298.8 169.92 1300.3 170.04 1301.8 170.16 1303.3 170.27 1304.8 170.38 1306.3 170.48 1307.8 170.57 1309.3 170.66 1310.8 170.74 1312.3 170.82 1313.8 170.89 1315.3 170.96 1316.8 171.03 1318.3 171.09 1319.8 171.16 1321.3 171.21 1322.8 171.27 1324.3 171.33 1325.8 171.38 1327.3 171.43 1328.8 171.48 1330.3 171.53 1331.8 171.57 1333.3 171.62 1334.8 171.66 1336.3 171.70 1337.8 171.74 1339.3 171.78 1340.8 171.81 1342.3 171.85 1343.8 171.88 1345.3 171.91 1346.8 171.94 1348.3 171.97 1349.8 172.00 1351.3 172.02 1352.8 172.05 1354.3 172.07 1355.8 172.10 1357.3 172.12 1358.8 172.14 1360.3 172.17 1361.8 172.19 1363.3 172.21 1364.8 172.24 1366.3 172.26 1367.8 172.28 1369.3 172.30 1370.8 172.33 1372.3 172.35 1373.8 172.37 1375.3 172.39 1376.8 172.41 1378.3 172.43 1379.8 172.46 1381.3 172.48 1382.8 172.50 1384.3 172.52 1385.8 172.54 1387.3 172.56 1388.8 172.58 1390.3 172.60 1391.8 172.62 1393.3 172.64 1394.8 172.66 1396.3 172.68 1397.8 172.70 1399.3 172.71 1400.8 172.73 1402.3 172.75 1403.8 172.77 1405.3 172.79 1406.8 172.80 1408.3 172.82 1409.8 172.84 1411.3 172.85 1412.8 172.87 1414.3 172.89 1415.8 172.90 1417.3 172.92 1418.8 172.93 1420.3 172.95 1421.8 172.96 1423.3 172.98 1424.8 172.99 1426.3 173.01 1427.8 173.02 1429.3 173.03 1430.8 173.05 1432.3 173.06 1433.8 173.07 1435.3 173.08 1436.8 173.09 1438.3 173.11 1439.8 173.12 1441.3 173.13 1442.8 173.14 1444.3 173.15 1445.8 173.16 1447.3 173.17 1448.8 173.18 1450.3 173.19 1451.8 173.20 1453.3 173.20 1454.8 173.21 1456.3 173.22 1457.8 173.23 1459.3 173.23 1460.8 173.24 1462.3 173.25 1463.8 173.25 1465.3 173.26 1466.8 173.26 1468.3 173.27 1469.8 173.27 1471.3 173.28 1472.8 173.28 1474.3 173.28 1475.8 173.29 1477.3 173.29 1478.8 173.29 1480.3 173.30 1481.8 173.30 1483.3 173.30 1484.8 173.30 1486.3 173.30 1487.3 173.30" fill="none" stroke="#000000" stroke-width="3.4" stroke-linejoin="round" stroke-linecap="butt"/>
<path d="M887.8 174.00 L889.3 174.00 890.8 174.00 892.3 174.00 893.8 174.00 895.3 174.00 896.8 174.00 898.3 174.00 899.8 174.00 901.3 174.00 902.8 174.00 904.3 174.00 905.8 174.00 907.3 174.00 908.8 174.00 910.3 174.00 911.8 174.00 913.3 174.00 914.8 174.00 916.3 174.00 917.8 174.00 919.3 174.00 920.8 174.00 922.3 174.00 923.8 174.00 925.3 174.00 926.8 174.00 928.3 174.00 929.8 174.00 931.3 174.00 932.8 174.00 934.3 174.00 935.8 174.00 937.3 174.00 938.8 174.00 940.3 174.00 941.8 174.00 943.3 174.00 944.8 174.00 946.3 174.00 947.8 174.00 949.3 174.00 950.8 174.00 952.3 174.00 953.8 174.00 955.3 174.00 956.8 174.00 958.3 174.00 959.8 174.00 961.3 173.99 962.8 173.99 964.3 173.98 965.8 173.97 967.3 173.97 968.8 173.95 970.3 173.94 971.8 173.93 973.3 173.91 974.8 173.90 976.3 173.88 977.8 173.86 979.3 173.84 980.8 173.82 982.3 173.80 983.8 173.78 985.3 173.76 986.8 173.73 988.3 173.70 989.8 173.67 991.3 173.64 992.8 173.60 994.3 173.55 995.8 173.49 997.3 173.42 998.8 173.33 1000.3 173.22 1001.8 173.09 1003.3 172.93 1004.8 172.74 1006.3 172.51 1007.8 172.23 1009.3 171.90 1010.8 171.51 1012.3 171.06 1013.8 170.53 1015.3 169.92 1016.8 169.21 1018.3 168.42 1019.8 167.52 1021.3 166.52 1022.8 165.43 1024.3 164.23 1025.8 162.94 1027.3 161.56 1028.8 160.11 1030.3 158.59 1031.8 157.03 1033.3 155.42 1034.8 153.80 1036.3 152.16 1037.8 150.54 1039.3 148.94 1040.8 147.38 1042.3 145.87 1043.8 144.43 1045.3 143.07 1046.8 141.80 1048.3 140.63 1049.8 139.57 1051.3 138.62 1052.8 137.78 1054.3 137.07 1055.8 136.47 1057.3 136.00 1058.8 135.66 1060.3 135.43 1061.8 135.32 1063.3 135.33 1064.8 135.44 1066.3 135.64 1067.8 135.94 1069.3 136.33 1070.8 136.79 1072.3 137.31 1073.8 137.91 1075.3 138.56 1076.8 139.27 1078.3 140.02 1079.8 140.81 1081.3 141.64 1082.8 142.49 1084.3 143.36 1085.8 144.25 1087.3 145.14 1088.8 146.03 1090.3 146.93 1091.8 147.81 1093.3 148.68 1094.8 149.54 1096.3 150.39 1097.8 151.21 1099.3 152.02 1100.8 152.81 1102.3 153.58 1103.8 154.33 1105.3 155.06 1106.8 155.77 1108.3 156.46 1109.8 157.14 1111.3 157.80 1112.8 158.43 1114.3 159.05 1115.8 159.65 1117.3 160.22 1118.8 160.77 1120.3 161.30 1121.8 161.80 1123.3 162.28 1124.8 162.73 1126.3 163.16 1127.8 163.56 1129.3 163.93 1130.8 164.29 1132.3 164.63 1133.8 164.95 1135.3 165.26 1136.8 165.55 1138.3 165.84 1139.8 166.12 1141.3 166.40 1142.8 166.67 1144.3 166.94 1145.8 167.20 1147.3 167.46 1148.8 167.72 1150.3 167.96 1151.8 168.20 1153.3 168.43 1154.8 168.65 1156.3 168.86 1157.8 169.06 1159.3 169.25 1160.8 169.44 1162.3 169.61 1163.8 169.77 1165.3 169.93 1166.8 170.08 1168.3 170.23 1169.8 170.36 1171.3 170.49 1172.8 170.62 1174.3 170.74 1175.8 170.85 1177.3 170.96 1178.8 171.07 1180.3 171.17 1181.8 171.26 1183.3 171.36 1184.8 171.45 1186.3 171.53 1187.8 171.61 1189.3 171.69 1190.8 171.76 1192.3 171.83 1193.8 171.90 1195.3 171.96 1196.8 172.02 1198.3 172.07 1199.8 172.12 1201.3 172.17 1202.8 172.21 1204.3 172.25 1205.8 172.29 1207.3 172.32 1208.8 172.35 1210.3 172.38 1211.8 172.41 1213.3 172.44 1214.8 172.46 1216.3 172.48 1217.8 172.50 1219.3 172.52 1220.8 172.54 1222.3 172.56 1223.8 172.58 1225.3 172.59 1226.8 172.61 1228.3 172.62 1229.8 172.64 1231.3 172.65 1232.8 172.66 1234.3 172.68 1235.8 172.69 1237.3 172.70 1238.8 172.71 1240.3 172.72 1241.8 172.73 1243.3 172.75 1244.8 172.76 1246.3 172.77 1247.8 172.78 1249.3 172.80 1250.8 172.81 1252.3 172.82 1253.8 172.84 1255.3 172.85 1256.8 172.87 1258.3 172.88 1259.8 172.90 1261.3 172.91 1262.8 172.93 1264.3 172.95 1265.8 172.96 1267.3 172.98 1268.8 173.00 1270.3 173.02 1271.8 173.03 1273.3 173.05 1274.8 173.07 1276.3 173.09 1277.8 173.10 1279.3 173.12 1280.8 173.14 1282.3 173.16 1283.8 173.17 1285.3 173.19 1286.8 173.21 1288.3 173.22 1289.8 173.24 1291.3 173.25 1292.8 173.27 1294.3 173.28 1295.8 173.30 1297.3 173.31 1298.8 173.32 1300.3 173.33 1301.8 173.35 1303.3 173.36 1304.8 173.37 1306.3 173.38 1307.8 173.39 1309.3 173.40 1310.8 173.40 1312.3 173.41 1313.8 173.42 1315.3 173.43 1316.8 173.43 1318.3 173.44 1319.8 173.45 1321.3 173.46 1322.8 173.46 1324.3 173.47 1325.8 173.48 1327.3 173.48 1328.8 173.49 1330.3 173.50 1331.8 173.50 1333.3 173.51 1334.8 173.52 1336.3 173.52 1337.8 173.53 1339.3 173.54 1340.8 173.54 1342.3 173.55 1343.8 173.56 1345.3 173.56 1346.8 173.57 1348.3 173.57 1349.8 173.58 1351.3 173.59 1352.8 173.59 1354.3 173.60 1355.8 173.61 1357.3 173.61 1358.8 173.62 1360.3 173.62 1361.8 173.63 1363.3 173.64 1364.8 173.64 1366.3 173.65 1367.8 173.65 1369.3 173.66 1370.8 173.66 1372.3 173.67 1373.8 173.67 1375.3 173.68 1376.8 173.69 1378.3 173.69 1379.8 173.70 1381.3 173.70 1382.8 173.71 1384.3 173.71 1385.8 173.72 1387.3 173.72 1388.8 173.73 1390.3 173.73 1391.8 173.74 1393.3 173.74 1394.8 173.75 1396.3 173.75 1397.8 173.76 1399.3 173.76 1400.8 173.76 1402.3 173.77 1403.8 173.77 1405.3 173.78 1406.8 173.78 1408.3 173.79 1409.8 173.79 1411.3 173.79 1412.8 173.80 1414.3 173.80 1415.8 173.81 1417.3 173.81 1418.8 173.81 1420.3 173.82 1421.8 173.82 1423.3 173.82 1424.8 173.83 1426.3 173.83 1427.8 173.83 1429.3 173.84 1430.8 173.84 1432.3 173.84 1433.8 173.85 1435.3 173.85 1436.8 173.85 1438.3 173.85 1439.8 173.86 1441.3 173.86 1442.8 173.86 1444.3 173.86 1445.8 173.87 1447.3 173.87 1448.8 173.87 1450.3 173.87 1451.8 173.88 1453.3 173.88 1454.8 173.88 1456.3 173.88 1457.8 173.88 1459.3 173.88 1460.8 173.89 1462.3 173.89 1463.8 173.89 1465.3 173.89 1466.8 173.89 1468.3 173.89 1469.8 173.89 1471.3 173.89 1472.8 173.90 1474.3 173.90 1475.8 173.90 1477.3 173.90 1478.8 173.90 1480.3 173.90 1481.8 173.90 1483.3 173.90 1484.8 173.90 1486.3 173.90 1487.3 173.90" fill="none" stroke="#0aa5e6" stroke-width="3.4" stroke-linejoin="round" stroke-linecap="butt"/>
<path d="M887.8 251.70 L889.3 251.71 890.8 251.72 892.3 251.73 893.8 251.74 895.3 251.75 896.8 251.76 898.3 251.78 899.8 251.79 901.3 251.80 902.8 251.80 904.3 251.81 905.8 251.82 907.3 251.83 908.8 251.84 910.3 251.85 911.8 251.86 913.3 251.87 914.8 251.88 916.3 251.88 917.8 251.89 919.3 251.90 920.8 251.90 922.3 251.91 923.8 251.92 925.3 251.92 926.8 251.93 928.3 251.94 929.8 251.94 931.3 251.95 932.8 251.95 934.3 251.96 935.8 251.96 937.3 251.97 938.8 251.97 940.3 251.97 941.8 251.98 943.3 251.98 944.8 251.98 946.3 251.99 947.8 251.99 949.3 251.99 950.8 251.99 952.3 252.00 953.8 252.00 955.3 252.00 956.8 252.00 958.3 252.00 959.8 252.00 961.3 252.00 962.8 252.00 964.3 252.00 965.8 252.00 967.3 252.00 968.8 252.00 970.3 252.00 971.8 251.99 973.3 251.99 974.8 251.99 976.3 251.99 977.8 251.99 979.3 251.98 980.8 251.98 982.3 251.98 983.8 251.97 985.3 251.97 986.8 251.97 988.3 251.96 989.8 251.96 991.3 251.96 992.8 251.95 994.3 251.95 995.8 251.94 997.3 251.94 998.8 251.93 1000.3 251.93 1001.8 251.92 1003.3 251.92 1004.8 251.91 1006.3 251.91 1007.8 251.90 1009.3 251.90 1010.8 251.89 1012.3 251.89 1013.8 251.88 1015.3 251.88 1016.8 251.87 1018.3 251.86 1019.8 251.86 1021.3 251.85 1022.8 251.84 1024.3 251.84 1025.8 251.83 1027.3 251.82 1028.8 251.82 1030.3 251.81 1031.8 251.80 1033.3 251.79 1034.8 251.78 1036.3 251.77 1037.8 251.76 1039.3 251.75 1040.8 251.73 1042.3 251.72 1043.8 251.71 1045.3 251.69 1046.8 251.67 1048.3 251.66 1049.8 251.64 1051.3 251.62 1052.8 251.60 1054.3 251.58 1055.8 251.56 1057.3 251.54 1058.8 251.52 1060.3 251.50 1061.8 251.47 1063.3 251.45 1064.8 251.43 1066.3 251.41 1067.8 251.38 1069.3 251.36 1070.8 251.34 1072.3 251.32 1073.8 251.29 1075.3 251.27 1076.8 251.25 1078.3 251.23 1079.8 251.21 1081.3 251.19 1082.8 251.17 1084.3 251.15 1085.8 251.13 1087.3 251.11 1088.8 251.09 1090.3 251.07 1091.8 251.05 1093.3 251.03 1094.8 251.01 1096.3 250.99 1097.8 250.97 1099.3 250.95 1100.8 250.93 1102.3 250.90 1103.8 250.88 1105.3 250.86 1106.8 250.83 1108.3 250.81 1109.8 250.78 1111.3 250.75 1112.8 250.73 1114.3 250.70 1115.8 250.67 1117.3 250.64 1118.8 250.60 1120.3 250.56 1121.8 250.52 1123.3 250.46 1124.8 250.39 1126.3 250.31 1127.8 250.21 1129.3 250.08 1130.8 249.91 1132.3 249.69 1133.8 249.41 1135.3 249.06 1136.8 248.62 1138.3 248.08 1139.8 247.42 1141.3 246.63 1142.8 245.71 1144.3 244.64 1145.8 243.41 1147.3 242.04 1148.8 240.53 1150.3 238.89 1151.8 237.14 1153.3 235.30 1154.8 233.39 1156.3 231.43 1157.8 229.46 1159.3 227.50 1160.8 225.60 1162.3 223.77 1163.8 222.05 1165.3 220.46 1166.8 219.01 1168.3 217.73 1169.8 216.60 1171.3 215.64 1172.8 214.84 1174.3 214.20 1175.8 213.71 1177.3 213.36 1178.8 213.15 1180.3 213.06 1181.8 213.08 1183.3 213.19 1184.8 213.39 1186.3 213.67 1187.8 214.02 1189.3 214.43 1190.8 214.88 1192.3 215.39 1193.8 215.94 1195.3 216.53 1196.8 217.15 1198.3 217.80 1199.8 218.48 1201.3 219.18 1202.8 219.90 1204.3 220.63 1205.8 221.37 1207.3 222.12 1208.8 222.89 1210.3 223.65 1211.8 224.42 1213.3 225.19 1214.8 225.96 1216.3 226.72 1217.8 227.48 1219.3 228.23 1220.8 228.97 1222.3 229.70 1223.8 230.42 1225.3 231.12 1226.8 231.80 1228.3 232.46 1229.8 233.11 1231.3 233.75 1232.8 234.36 1234.3 234.97 1235.8 235.56 1237.3 236.13 1238.8 236.70 1240.3 237.26 1241.8 237.80 1243.3 238.34 1244.8 238.86 1246.3 239.38 1247.8 239.89 1249.3 240.39 1250.8 240.87 1252.3 241.35 1253.8 241.82 1255.3 242.27 1256.8 242.71 1258.3 243.13 1259.8 243.54 1261.3 243.94 1262.8 244.31 1264.3 244.67 1265.8 245.01 1267.3 245.34 1268.8 245.65 1270.3 245.94 1271.8 246.22 1273.3 246.48 1274.8 246.73 1276.3 246.96 1277.8 247.19 1279.3 247.39 1280.8 247.59 1282.3 247.77 1283.8 247.95 1285.3 248.11 1286.8 248.26 1288.3 248.40 1289.8 248.53 1291.3 248.65 1292.8 248.76 1294.3 248.87 1295.8 248.97 1297.3 249.06 1298.8 249.14 1300.3 249.22 1301.8 249.29 1303.3 249.36 1304.8 249.42 1306.3 249.48 1307.8 249.53 1309.3 249.57 1310.8 249.61 1312.3 249.65 1313.8 249.69 1315.3 249.72 1316.8 249.75 1318.3 249.78 1319.8 249.81 1321.3 249.83 1322.8 249.86 1324.3 249.89 1325.8 249.91 1327.3 249.94 1328.8 249.96 1330.3 249.99 1331.8 250.01 1333.3 250.04 1334.8 250.06 1336.3 250.09 1337.8 250.11 1339.3 250.14 1340.8 250.16 1342.3 250.18 1343.8 250.21 1345.3 250.23 1346.8 250.26 1348.3 250.28 1349.8 250.30 1351.3 250.32 1352.8 250.35 1354.3 250.37 1355.8 250.39 1357.3 250.41 1358.8 250.43 1360.3 250.45 1361.8 250.47 1363.3 250.50 1364.8 250.52 1366.3 250.54 1367.8 250.55 1369.3 250.57 1370.8 250.59 1372.3 250.61 1373.8 250.63 1375.3 250.65 1376.8 250.67 1378.3 250.68 1379.8 250.70 1381.3 250.72 1382.8 250.74 1384.3 250.75 1385.8 250.77 1387.3 250.78 1388.8 250.80 1390.3 250.82 1391.8 250.83 1393.3 250.85 1394.8 250.86 1396.3 250.88 1397.8 250.89 1399.3 250.90 1400.8 250.92 1402.3 250.93 1403.8 250.94 1405.3 250.96 1406.8 250.97 1408.3 250.98 1409.8 251.00 1411.3 251.01 1412.8 251.02 1414.3 251.03 1415.8 251.04 1417.3 251.05 1418.8 251.06 1420.3 251.07 1421.8 251.08 1423.3 251.09 1424.8 251.10 1426.3 251.11 1427.8 251.12 1429.3 251.13 1430.8 251.14 1432.3 251.15 1433.8 251.16 1435.3 251.17 1436.8 251.17 1438.3 251.18 1439.8 251.19 1441.3 251.20 1442.8 251.20 1444.3 251.21 1445.8 251.22 1447.3 251.22 1448.8 251.23 1450.3 251.23 1451.8 251.24 1453.3 251.24 1454.8 251.25 1456.3 251.25 1457.8 251.26 1459.3 251.26 1460.8 251.27 1462.3 251.27 1463.8 251.27 1465.3 251.28 1466.8 251.28 1468.3 251.28 1469.8 251.28 1471.3 251.29 1472.8 251.29 1474.3 251.29 1475.8 251.29 1477.3 251.29 1478.8 251.30 1480.3 251.30 1481.8 251.30 1483.3 251.30 1484.8 251.30 1486.3 251.30 1487.3 251.30" fill="none" stroke="#000000" stroke-width="3.4" stroke-linejoin="round" stroke-linecap="butt"/>
<path d="M887.8 251.70 L889.3 251.71 890.8 251.71 892.3 251.72 893.8 251.72 895.3 251.73 896.8 251.73 898.3 251.74 899.8 251.74 901.3 251.75 902.8 251.75 904.3 251.75 905.8 251.76 907.3 251.76 908.8 251.76 910.3 251.77 911.8 251.77 913.3 251.77 914.8 251.78 916.3 251.78 917.8 251.78 919.3 251.78 920.8 251.78 922.3 251.79 923.8 251.79 925.3 251.79 926.8 251.79 928.3 251.79 929.8 251.79 931.3 251.79 932.8 251.79 934.3 251.80 935.8 251.80 937.3 251.80 938.8 251.80 940.3 251.80 941.8 251.80 943.3 251.80 944.8 251.80 946.3 251.80 947.8 251.80 949.3 251.80 950.8 251.80 952.3 251.80 953.8 251.80 955.3 251.80 956.8 251.80 958.3 251.80 959.8 251.80 961.3 251.80 962.8 251.80 964.3 251.80 965.8 251.79 967.3 251.79 968.8 251.79 970.3 251.78 971.8 251.78 973.3 251.77 974.8 251.76 976.3 251.76 977.8 251.75 979.3 251.74 980.8 251.73 982.3 251.72 983.8 251.71 985.3 251.70 986.8 251.69 988.3 251.68 989.8 251.67 991.3 251.66 992.8 251.65 994.3 251.65 995.8 251.64 997.3 251.63 998.8 251.63 1000.3 251.62 1001.8 251.61 1003.3 251.60 1004.8 251.58 1006.3 251.56 1007.8 251.52 1009.3 251.47 1010.8 251.41 1012.3 251.32 1013.8 251.21 1015.3 251.06 1016.8 250.88 1018.3 250.65 1019.8 250.36 1021.3 250.02 1022.8 249.60 1024.3 249.10 1025.8 248.51 1027.3 247.82 1028.8 247.02 1030.3 246.11 1031.8 245.07 1033.3 243.93 1034.8 242.66 1036.3 241.28 1037.8 239.80 1039.3 238.23 1040.8 236.58 1042.3 234.86 1043.8 233.10 1045.3 231.32 1046.8 229.54 1048.3 227.77 1049.8 226.04 1051.3 224.37 1052.8 222.77 1054.3 221.27 1055.8 219.88 1057.3 218.60 1058.8 217.45 1060.3 216.43 1061.8 215.55 1063.3 214.81 1064.8 214.20 1066.3 213.74 1067.8 213.41 1069.3 213.21 1070.8 213.14 1072.3 213.18 1073.8 213.33 1075.3 213.58 1076.8 213.92 1078.3 214.34 1079.8 214.84 1081.3 215.42 1082.8 216.07 1084.3 216.77 1085.8 217.53 1087.3 218.33 1088.8 219.17 1090.3 220.02 1091.8 220.90 1093.3 221.78 1094.8 222.66 1096.3 223.54 1097.8 224.41 1099.3 225.28 1100.8 226.13 1102.3 226.97 1103.8 227.80 1105.3 228.61 1106.8 229.41 1108.3 230.19 1109.8 230.95 1111.3 231.70 1112.8 232.43 1114.3 233.14 1115.8 233.83 1117.3 234.51 1118.8 235.16 1120.3 235.80 1121.8 236.42 1123.3 237.03 1124.8 237.61 1126.3 238.18 1127.8 238.73 1129.3 239.26 1130.8 239.78 1132.3 240.28 1133.8 240.76 1135.3 241.22 1136.8 241.66 1138.3 242.08 1139.8 242.48 1141.3 242.86 1142.8 243.23 1144.3 243.57 1145.8 243.90 1147.3 244.21 1148.8 244.50 1150.3 244.79 1151.8 245.05 1153.3 245.31 1154.8 245.56 1156.3 245.79 1157.8 246.02 1159.3 246.24 1160.8 246.45 1162.3 246.66 1163.8 246.85 1165.3 247.04 1166.8 247.23 1168.3 247.41 1169.8 247.58 1171.3 247.74 1172.8 247.90 1174.3 248.05 1175.8 248.19 1177.3 248.33 1178.8 248.46 1180.3 248.59 1181.8 248.71 1183.3 248.83 1184.8 248.94 1186.3 249.04 1187.8 249.14 1189.3 249.24 1190.8 249.33 1192.3 249.42 1193.8 249.51 1195.3 249.59 1196.8 249.66 1198.3 249.74 1199.8 249.81 1201.3 249.87 1202.8 249.94 1204.3 250.00 1205.8 250.06 1207.3 250.11 1208.8 250.17 1210.3 250.22 1211.8 250.26 1213.3 250.31 1214.8 250.35 1216.3 250.39 1217.8 250.43 1219.3 250.47 1220.8 250.50 1222.3 250.53 1223.8 250.56 1225.3 250.58 1226.8 250.60 1228.3 250.62 1229.8 250.64 1231.3 250.66 1232.8 250.67 1234.3 250.69 1235.8 250.70 1237.3 250.71 1238.8 250.72 1240.3 250.73 1241.8 250.74 1243.3 250.75 1244.8 250.76 1246.3 250.78 1247.8 250.79 1249.3 250.80 1250.8 250.81 1252.3 250.82 1253.8 250.84 1255.3 250.85 1256.8 250.87 1258.3 250.88 1259.8 250.90 1261.3 250.91 1262.8 250.93 1264.3 250.95 1265.8 250.96 1267.3 250.98 1268.8 251.00 1270.3 251.02 1271.8 251.03 1273.3 251.05 1274.8 251.07 1276.3 251.09 1277.8 251.10 1279.3 251.12 1280.8 251.14 1282.3 251.16 1283.8 251.17 1285.3 251.19 1286.8 251.21 1288.3 251.22 1289.8 251.24 1291.3 251.25 1292.8 251.27 1294.3 251.28 1295.8 251.30 1297.3 251.31 1298.8 251.32 1300.3 251.33 1301.8 251.35 1303.3 251.36 1304.8 251.37 1306.3 251.38 1307.8 251.39 1309.3 251.40 1310.8 251.40 1312.3 251.41 1313.8 251.42 1315.3 251.43 1316.8 251.43 1318.3 251.44 1319.8 251.45 1321.3 251.46 1322.8 251.46 1324.3 251.47 1325.8 251.48 1327.3 251.48 1328.8 251.49 1330.3 251.50 1331.8 251.50 1333.3 251.51 1334.8 251.52 1336.3 251.52 1337.8 251.53 1339.3 251.54 1340.8 251.54 1342.3 251.55 1343.8 251.56 1345.3 251.56 1346.8 251.57 1348.3 251.57 1349.8 251.58 1351.3 251.59 1352.8 251.59 1354.3 251.60 1355.8 251.61 1357.3 251.61 1358.8 251.62 1360.3 251.62 1361.8 251.63 1363.3 251.64 1364.8 251.64 1366.3 251.65 1367.8 251.65 1369.3 251.66 1370.8 251.66 1372.3 251.67 1373.8 251.67 1375.3 251.68 1376.8 251.69 1378.3 251.69 1379.8 251.70 1381.3 251.70 1382.8 251.71 1384.3 251.71 1385.8 251.72 1387.3 251.72 1388.8 251.73 1390.3 251.73 1391.8 251.74 1393.3 251.74 1394.8 251.75 1396.3 251.75 1397.8 251.76 1399.3 251.76 1400.8 251.76 1402.3 251.77 1403.8 251.77 1405.3 251.78 1406.8 251.78 1408.3 251.79 1409.8 251.79 1411.3 251.79 1412.8 251.80 1414.3 251.80 1415.8 251.81 1417.3 251.81 1418.8 251.81 1420.3 251.82 1421.8 251.82 1423.3 251.82 1424.8 251.83 1426.3 251.83 1427.8 251.83 1429.3 251.84 1430.8 251.84 1432.3 251.84 1433.8 251.85 1435.3 251.85 1436.8 251.85 1438.3 251.85 1439.8 251.86 1441.3 251.86 1442.8 251.86 1444.3 251.86 1445.8 251.87 1447.3 251.87 1448.8 251.87 1450.3 251.87 1451.8 251.88 1453.3 251.88 1454.8 251.88 1456.3 251.88 1457.8 251.88 1459.3 251.88 1460.8 251.89 1462.3 251.89 1463.8 251.89 1465.3 251.89 1466.8 251.89 1468.3 251.89 1469.8 251.89 1471.3 251.89 1472.8 251.90 1474.3 251.90 1475.8 251.90 1477.3 251.90 1478.8 251.90 1480.3 251.90 1481.8 251.90 1483.3 251.90 1484.8 251.90 1486.3 251.90 1487.3 251.90" fill="none" stroke="#0aa5e6" stroke-width="3.4" stroke-linejoin="round" stroke-linecap="butt"/>
<path d="M885.2 330.20 L886.7 330.20 888.2 330.20 889.7 330.20 891.2 330.20 892.7 330.20 894.2 330.20 895.7 330.19 897.2 330.19 898.7 330.19 900.2 330.19 901.7 330.19 903.2 330.18 904.7 330.18 906.2 330.18 907.7 330.18 909.2 330.17 910.7 330.17 912.2 330.17 913.7 330.16 915.2 330.16 916.7 330.15 918.2 330.15 919.7 330.15 921.2 330.14 922.7 330.14 924.2 330.13 925.7 330.13 927.2 330.12 928.7 330.12 930.2 330.11 931.7 330.11 933.2 330.10 934.7 330.10 936.2 330.09 937.7 330.09 939.2 330.08 940.7 330.07 942.2 330.07 943.7 330.06 945.2 330.06 946.7 330.05 948.2 330.05 949.7 330.04 951.2 330.03 952.7 330.03 954.2 330.02 955.7 330.02 957.2 330.01 958.7 330.01 960.2 330.00 961.7 329.99 963.2 329.99 964.7 329.98 966.2 329.98 967.7 329.97 969.2 329.96 970.7 329.96 972.2 329.95 973.7 329.95 975.2 329.94 976.7 329.93 978.2 329.93 979.7 329.92 981.2 329.91 982.7 329.90 984.2 329.90 985.7 329.89 987.2 329.88 988.7 329.87 990.2 329.85 991.7 329.84 993.2 329.82 994.7 329.81 996.2 329.79 997.7 329.77 999.2 329.74 1000.7 329.71 1002.2 329.68 1003.7 329.65 1005.2 329.61 1006.7 329.57 1008.2 329.53 1009.7 329.49 1011.2 329.44 1012.7 329.39 1014.2 329.34 1015.7 329.29 1017.2 329.24 1018.7 329.20 1020.2 329.15 1021.7 329.10 1023.2 329.05 1024.7 329.01 1026.2 328.96 1027.7 328.92 1029.2 328.88 1030.7 328.84 1032.2 328.81 1033.7 328.77 1035.2 328.74 1036.7 328.71 1038.2 328.68 1039.7 328.66 1041.2 328.63 1042.7 328.61 1044.2 328.58 1045.7 328.56 1047.2 328.54 1048.7 328.51 1050.2 328.49 1051.7 328.47 1053.2 328.45 1054.7 328.43 1056.2 328.40 1057.7 328.38 1059.2 328.36 1060.7 328.33 1062.2 328.31 1063.7 328.28 1065.2 328.26 1066.7 328.23 1068.2 328.20 1069.7 328.17 1071.2 328.15 1072.7 328.12 1074.2 328.09 1075.7 328.06 1077.2 328.03 1078.7 328.00 1080.2 327.96 1081.7 327.93 1083.2 327.89 1084.7 327.85 1086.2 327.81 1087.7 327.77 1089.2 327.72 1090.7 327.67 1092.2 327.61 1093.7 327.55 1095.2 327.48 1096.7 327.41 1098.2 327.32 1099.7 327.23 1101.2 327.13 1102.7 327.02 1104.2 326.89 1105.7 326.75 1107.2 326.59 1108.7 326.41 1110.2 326.20 1111.7 325.98 1113.2 325.72 1114.7 325.43 1116.2 325.11 1117.7 324.76 1119.2 324.36 1120.7 323.92 1122.2 323.43 1123.7 322.88 1125.2 322.28 1126.7 321.62 1128.2 320.90 1129.7 320.10 1131.2 319.23 1132.7 318.28 1134.2 317.25 1135.7 316.14 1137.2 314.95 1138.7 313.68 1140.2 312.35 1141.7 310.94 1143.2 309.49 1144.7 307.99 1146.2 306.47 1147.7 304.95 1149.2 303.44 1150.7 301.97 1152.2 300.54 1153.7 299.19 1155.2 297.92 1156.7 296.75 1158.2 295.67 1159.7 294.70 1161.2 293.83 1162.7 293.07 1164.2 292.42 1165.7 291.88 1167.2 291.44 1168.7 291.10 1170.2 290.84 1171.7 290.68 1173.2 290.60 1174.7 290.60 1176.2 290.67 1177.7 290.82 1179.2 291.03 1180.7 291.30 1182.2 291.63 1183.7 292.02 1185.2 292.45 1186.7 292.94 1188.2 293.47 1189.7 294.05 1191.2 294.67 1192.7 295.32 1194.2 296.00 1195.7 296.71 1197.2 297.44 1198.7 298.19 1200.2 298.94 1201.7 299.71 1203.2 300.47 1204.7 301.24 1206.2 302.01 1207.7 302.77 1209.2 303.53 1210.7 304.28 1212.2 305.02 1213.7 305.76 1215.2 306.48 1216.7 307.20 1218.2 307.90 1219.7 308.59 1221.2 309.28 1222.7 309.95 1224.2 310.61 1225.7 311.26 1227.2 311.90 1228.7 312.53 1230.2 313.14 1231.7 313.74 1233.2 314.33 1234.7 314.90 1236.2 315.45 1237.7 315.99 1239.2 316.51 1240.7 317.01 1242.2 317.50 1243.7 317.98 1245.2 318.44 1246.7 318.88 1248.2 319.32 1249.7 319.74 1251.2 320.15 1252.7 320.55 1254.2 320.94 1255.7 321.32 1257.2 321.69 1258.7 322.04 1260.2 322.39 1261.7 322.72 1263.2 323.04 1264.7 323.35 1266.2 323.65 1267.7 323.93 1269.2 324.20 1270.7 324.45 1272.2 324.69 1273.7 324.91 1275.2 325.12 1276.7 325.31 1278.2 325.48 1279.7 325.64 1281.2 325.79 1282.7 325.93 1284.2 326.05 1285.7 326.16 1287.2 326.25 1288.7 326.34 1290.2 326.42 1291.7 326.49 1293.2 326.55 1294.7 326.61 1296.2 326.66 1297.7 326.71 1299.2 326.76 1300.7 326.80 1302.2 326.84 1303.7 326.87 1305.2 326.91 1306.7 326.94 1308.2 326.97 1309.7 327.00 1311.2 327.03 1312.7 327.06 1314.2 327.08 1315.7 327.11 1317.2 327.13 1318.7 327.16 1320.2 327.18 1321.7 327.21 1323.2 327.24 1324.7 327.26 1326.2 327.29 1327.7 327.31 1329.2 327.33 1330.7 327.36 1332.2 327.38 1333.7 327.41 1335.2 327.43 1336.7 327.46 1338.2 327.48 1339.7 327.51 1341.2 327.53 1342.7 327.55 1344.2 327.58 1345.7 327.60 1347.2 327.62 1348.7 327.65 1350.2 327.67 1351.7 327.69 1353.2 327.71 1354.7 327.74 1356.2 327.76 1357.7 327.78 1359.2 327.80 1360.7 327.82 1362.2 327.85 1363.7 327.87 1365.2 327.89 1366.7 327.91 1368.2 327.93 1369.7 327.95 1371.2 327.97 1372.7 327.99 1374.2 328.01 1375.7 328.03 1377.2 328.05 1378.7 328.07 1380.2 328.09 1381.7 328.10 1383.2 328.12 1384.7 328.14 1386.2 328.16 1387.7 328.18 1389.2 328.20 1390.7 328.21 1392.2 328.23 1393.7 328.25 1395.2 328.26 1396.7 328.28 1398.2 328.30 1399.7 328.31 1401.2 328.33 1402.7 328.34 1404.2 328.36 1405.7 328.37 1407.2 328.39 1408.7 328.40 1410.2 328.42 1411.7 328.43 1413.2 328.45 1414.7 328.46 1416.2 328.47 1417.7 328.49 1419.2 328.50 1420.7 328.51 1422.2 328.52 1423.7 328.54 1425.2 328.55 1426.7 328.56 1428.2 328.57 1429.7 328.58 1431.2 328.59 1432.7 328.60 1434.2 328.61 1435.7 328.62 1437.2 328.63 1438.7 328.64 1440.2 328.65 1441.7 328.66 1443.2 328.67 1444.7 328.68 1446.2 328.69 1447.7 328.70 1449.2 328.70 1450.7 328.71 1452.2 328.72 1453.7 328.72 1455.2 328.73 1456.7 328.74 1458.2 328.74 1459.7 328.75 1461.2 328.75 1462.7 328.76 1464.2 328.76 1465.7 328.77 1467.2 328.77 1468.7 328.78 1470.2 328.78 1471.7 328.78 1473.2 328.79 1474.7 328.79 1476.2 328.79 1477.7 328.79 1479.2 328.79 1480.7 328.80 1482.2 328.80 1483.7 328.80 1485.2 328.80 1486.7 328.80 1487.3 328.80" fill="none" stroke="#000000" stroke-width="3.4" stroke-linejoin="round" stroke-linecap="butt"/>
<path d="M887.8 329.50 L889.3 329.50 890.8 329.50 892.3 329.50 893.8 329.50 895.3 329.50 896.8 329.50 898.3 329.50 899.8 329.50 901.3 329.50 902.8 329.50 904.3 329.49 905.8 329.49 907.3 329.49 908.8 329.49 910.3 329.49 911.8 329.49 913.3 329.49 914.8 329.49 916.3 329.48 917.8 329.48 919.3 329.48 920.8 329.48 922.3 329.48 923.8 329.48 925.3 329.47 926.8 329.47 928.3 329.47 929.8 329.47 931.3 329.46 932.8 329.46 934.3 329.46 935.8 329.46 937.3 329.45 938.8 329.45 940.3 329.45 941.8 329.45 943.3 329.44 944.8 329.44 946.3 329.44 947.8 329.43 949.3 329.43 950.8 329.43 952.3 329.42 953.8 329.42 955.3 329.41 956.8 329.41 958.3 329.40 959.8 329.40 961.3 329.39 962.8 329.38 964.3 329.38 965.8 329.37 967.3 329.36 968.8 329.35 970.3 329.33 971.8 329.32 973.3 329.31 974.8 329.30 976.3 329.28 977.8 329.27 979.3 329.26 980.8 329.24 982.3 329.23 983.8 329.22 985.3 329.20 986.8 329.18 988.3 329.15 989.8 329.12 991.3 329.09 992.8 329.04 994.3 328.97 995.8 328.88 997.3 328.78 998.8 328.64 1000.3 328.47 1001.8 328.26 1003.3 328.00 1004.8 327.70 1006.3 327.34 1007.8 326.92 1009.3 326.43 1010.8 325.87 1012.3 325.24 1013.8 324.52 1015.3 323.73 1016.8 322.86 1018.3 321.91 1019.8 320.87 1021.3 319.75 1022.8 318.56 1024.3 317.29 1025.8 315.96 1027.3 314.56 1028.8 313.10 1030.3 311.60 1031.8 310.07 1033.3 308.51 1034.8 306.94 1036.3 305.37 1037.8 303.83 1039.3 302.31 1040.8 300.85 1042.3 299.45 1043.8 298.13 1045.3 296.90 1046.8 295.78 1048.3 294.77 1049.8 293.88 1051.3 293.13 1052.8 292.51 1054.3 292.03 1055.8 291.69 1057.3 291.49 1058.8 291.42 1060.3 291.47 1061.8 291.64 1063.3 291.91 1064.8 292.29 1066.3 292.75 1067.8 293.29 1069.3 293.91 1070.8 294.59 1072.3 295.33 1073.8 296.12 1075.3 296.95 1076.8 297.82 1078.3 298.71 1079.8 299.63 1081.3 300.55 1082.8 301.48 1084.3 302.40 1085.8 303.33 1087.3 304.24 1088.8 305.14 1090.3 306.03 1091.8 306.90 1093.3 307.74 1094.8 308.57 1096.3 309.38 1097.8 310.16 1099.3 310.92 1100.8 311.66 1102.3 312.38 1103.8 313.08 1105.3 313.75 1106.8 314.40 1108.3 315.03 1109.8 315.64 1111.3 316.23 1112.8 316.80 1114.3 317.35 1115.8 317.87 1117.3 318.38 1118.8 318.86 1120.3 319.32 1121.8 319.77 1123.3 320.19 1124.8 320.60 1126.3 320.99 1127.8 321.36 1129.3 321.72 1130.8 322.05 1132.3 322.37 1133.8 322.67 1135.3 322.95 1136.8 323.22 1138.3 323.47 1139.8 323.70 1141.3 323.91 1142.8 324.11 1144.3 324.29 1145.8 324.47 1147.3 324.63 1148.8 324.78 1150.3 324.92 1151.8 325.06 1153.3 325.20 1154.8 325.32 1156.3 325.45 1157.8 325.57 1159.3 325.70 1160.8 325.82 1162.3 325.93 1163.8 326.05 1165.3 326.16 1166.8 326.27 1168.3 326.38 1169.8 326.48 1171.3 326.59 1172.8 326.68 1174.3 326.78 1175.8 326.87 1177.3 326.95 1178.8 327.03 1180.3 327.11 1181.8 327.19 1183.3 327.26 1184.8 327.32 1186.3 327.39 1187.8 327.45 1189.3 327.51 1190.8 327.56 1192.3 327.62 1193.8 327.67 1195.3 327.71 1196.8 327.76 1198.3 327.80 1199.8 327.84 1201.3 327.88 1202.8 327.92 1204.3 327.95 1205.8 327.99 1207.3 328.02 1208.8 328.05 1210.3 328.08 1211.8 328.11 1213.3 328.14 1214.8 328.16 1216.3 328.19 1217.8 328.22 1219.3 328.24 1220.8 328.27 1222.3 328.29 1223.8 328.32 1225.3 328.34 1226.8 328.36 1228.3 328.38 1229.8 328.40 1231.3 328.42 1232.8 328.44 1234.3 328.46 1235.8 328.48 1237.3 328.49 1238.8 328.51 1240.3 328.52 1241.8 328.54 1243.3 328.55 1244.8 328.56 1246.3 328.57 1247.8 328.58 1249.3 328.59 1250.8 328.60 1252.3 328.61 1253.8 328.62 1255.3 328.63 1256.8 328.64 1258.3 328.64 1259.8 328.65 1261.3 328.66 1262.8 328.66 1264.3 328.67 1265.8 328.67 1267.3 328.68 1268.8 328.68 1270.3 328.69 1271.8 328.69 1273.3 328.70 1274.8 328.70 1276.3 328.71 1277.8 328.71 1279.3 328.72 1280.8 328.72 1282.3 328.72 1283.8 328.73 1285.3 328.73 1286.8 328.74 1288.3 328.74 1289.8 328.74 1291.3 328.75 1292.8 328.75 1294.3 328.76 1295.8 328.76 1297.3 328.76 1298.8 328.77 1300.3 328.77 1301.8 328.78 1303.3 328.78 1304.8 328.78 1306.3 328.79 1307.8 328.79 1309.3 328.80 1310.8 328.80 1312.3 328.81 1313.8 328.81 1315.3 328.82 1316.8 328.82 1318.3 328.83 1319.8 328.83 1321.3 328.84 1322.8 328.84 1324.3 328.85 1325.8 328.85 1327.3 328.86 1328.8 328.86 1330.3 328.87 1331.8 328.87 1333.3 328.88 1334.8 328.88 1336.3 328.89 1337.8 328.89 1339.3 328.90 1340.8 328.91 1342.3 328.91 1343.8 328.92 1345.3 328.92 1346.8 328.93 1348.3 328.93 1349.8 328.94 1351.3 328.94 1352.8 328.95 1354.3 328.96 1355.8 328.96 1357.3 328.97 1358.8 328.97 1360.3 328.98 1361.8 328.98 1363.3 328.99 1364.8 329.00 1366.3 329.00 1367.8 329.01 1369.3 329.01 1370.8 329.02 1372.3 329.02 1373.8 329.03 1375.3 329.03 1376.8 329.04 1378.3 329.05 1379.8 329.05 1381.3 329.06 1382.8 329.06 1384.3 329.07 1385.8 329.07 1387.3 329.08 1388.8 329.08 1390.3 329.09 1391.8 329.10 1393.3 329.10 1394.8 329.11 1396.3 329.11 1397.8 329.12 1399.3 329.12 1400.8 329.13 1402.3 329.13 1403.8 329.14 1405.3 329.14 1406.8 329.15 1408.3 329.15 1409.8 329.16 1411.3 329.16 1412.8 329.17 1414.3 329.17 1415.8 329.18 1417.3 329.18 1418.8 329.18 1420.3 329.19 1421.8 329.19 1423.3 329.20 1424.8 329.20 1426.3 329.21 1427.8 329.21 1429.3 329.21 1430.8 329.22 1432.3 329.22 1433.8 329.23 1435.3 329.23 1436.8 329.23 1438.3 329.24 1439.8 329.24 1441.3 329.24 1442.8 329.25 1444.3 329.25 1445.8 329.25 1447.3 329.26 1448.8 329.26 1450.3 329.26 1451.8 329.27 1453.3 329.27 1454.8 329.27 1456.3 329.27 1457.8 329.28 1459.3 329.28 1460.8 329.28 1462.3 329.28 1463.8 329.28 1465.3 329.29 1466.8 329.29 1468.3 329.29 1469.8 329.29 1471.3 329.29 1472.8 329.29 1474.3 329.29 1475.8 329.30 1477.3 329.30 1478.8 329.30 1480.3 329.30 1481.8 329.30 1483.3 329.30 1484.8 329.30 1486.3 329.30 1487.3 329.30" fill="none" stroke="#0aa5e6" stroke-width="3.4" stroke-linejoin="round" stroke-linecap="butt"/>
<path d="M887.8 407.20 L889.3 407.20 890.8 407.20 892.3 407.20 893.8 407.20 895.3 407.20 896.8 407.20 898.3 407.20 899.8 407.21 901.3 407.21 902.8 407.21 904.3 407.21 905.8 407.21 907.3 407.21 908.8 407.22 910.3 407.22 911.8 407.22 913.3 407.22 914.8 407.23 916.3 407.23 917.8 407.23 919.3 407.24 920.8 407.24 922.3 407.24 923.8 407.25 925.3 407.25 926.8 407.25 928.3 407.26 929.8 407.26 931.3 407.27 932.8 407.27 934.3 407.28 935.8 407.28 937.3 407.28 938.8 407.29 940.3 407.29 941.8 407.30 943.3 407.30 944.8 407.31 946.3 407.32 947.8 407.32 949.3 407.33 950.8 407.33 952.3 407.34 953.8 407.34 955.3 407.35 956.8 407.35 958.3 407.36 959.8 407.37 961.3 407.37 962.8 407.38 964.3 407.38 965.8 407.39 967.3 407.40 968.8 407.40 970.3 407.41 971.8 407.42 973.3 407.42 974.8 407.43 976.3 407.43 977.8 407.44 979.3 407.45 980.8 407.45 982.3 407.46 983.8 407.47 985.3 407.48 986.8 407.48 988.3 407.49 989.8 407.50 991.3 407.51 992.8 407.52 994.3 407.54 995.8 407.55 997.3 407.56 998.8 407.58 1000.3 407.59 1001.8 407.61 1003.3 407.62 1004.8 407.64 1006.3 407.66 1007.8 407.67 1009.3 407.69 1010.8 407.71 1012.3 407.72 1013.8 407.74 1015.3 407.75 1016.8 407.76 1018.3 407.77 1019.8 407.78 1021.3 407.78 1022.8 407.78 1024.3 407.78 1025.8 407.77 1027.3 407.76 1028.8 407.74 1030.3 407.72 1031.8 407.70 1033.3 407.68 1034.8 407.65 1036.3 407.62 1037.8 407.60 1039.3 407.57 1040.8 407.55 1042.3 407.53 1043.8 407.51 1045.3 407.50 1046.8 407.49 1048.3 407.49 1049.8 407.49 1051.3 407.49 1052.8 407.49 1054.3 407.48 1055.8 407.46 1057.3 407.42 1058.8 407.35 1060.3 407.23 1061.8 407.05 1063.3 406.81 1064.8 406.48 1066.3 406.04 1067.8 405.48 1069.3 404.79 1070.8 403.94 1072.3 402.94 1073.8 401.77 1075.3 400.43 1076.8 398.92 1078.3 397.25 1079.8 395.44 1081.3 393.51 1082.8 391.48 1084.3 389.38 1085.8 387.26 1087.3 385.14 1088.8 383.06 1090.3 381.05 1091.8 379.15 1093.3 377.38 1094.8 375.75 1096.3 374.29 1097.8 372.98 1099.3 371.85 1100.8 370.89 1102.3 370.09 1103.8 369.45 1105.3 368.96 1106.8 368.61 1108.3 368.39 1109.8 368.29 1111.3 368.29 1112.8 368.40 1114.3 368.59 1115.8 368.87 1117.3 369.21 1118.8 369.63 1120.3 370.11 1121.8 370.64 1123.3 371.23 1124.8 371.86 1126.3 372.54 1127.8 373.25 1129.3 373.99 1130.8 374.76 1132.3 375.55 1133.8 376.36 1135.3 377.18 1136.8 378.01 1138.3 378.84 1139.8 379.68 1141.3 380.52 1142.8 381.36 1144.3 382.19 1145.8 383.01 1147.3 383.83 1148.8 384.62 1150.3 385.40 1151.8 386.17 1153.3 386.91 1154.8 387.62 1156.3 388.31 1157.8 388.98 1159.3 389.62 1160.8 390.22 1162.3 390.80 1163.8 391.35 1165.3 391.87 1166.8 392.36 1168.3 392.82 1169.8 393.26 1171.3 393.67 1172.8 394.06 1174.3 394.43 1175.8 394.79 1177.3 395.12 1178.8 395.45 1180.3 395.76 1181.8 396.06 1183.3 396.36 1184.8 396.65 1186.3 396.94 1187.8 397.22 1189.3 397.51 1190.8 397.79 1192.3 398.06 1193.8 398.33 1195.3 398.60 1196.8 398.86 1198.3 399.12 1199.8 399.36 1201.3 399.61 1202.8 399.84 1204.3 400.06 1205.8 400.28 1207.3 400.49 1208.8 400.69 1210.3 400.88 1211.8 401.06 1213.3 401.23 1214.8 401.40 1216.3 401.56 1217.8 401.71 1219.3 401.85 1220.8 401.99 1222.3 402.12 1223.8 402.24 1225.3 402.36 1226.8 402.47 1228.3 402.57 1229.8 402.66 1231.3 402.74 1232.8 402.82 1234.3 402.90 1235.8 402.97 1237.3 403.03 1238.8 403.09 1240.3 403.15 1241.8 403.20 1243.3 403.25 1244.8 403.29 1246.3 403.34 1247.8 403.38 1249.3 403.43 1250.8 403.47 1252.3 403.51 1253.8 403.55 1255.3 403.59 1256.8 403.63 1258.3 403.67 1259.8 403.72 1261.3 403.76 1262.8 403.80 1264.3 403.84 1265.8 403.88 1267.3 403.92 1268.8 403.95 1270.3 403.99 1271.8 404.03 1273.3 404.06 1274.8 404.09 1276.3 404.12 1277.8 404.15 1279.3 404.18 1280.8 404.21 1282.3 404.23 1283.8 404.25 1285.3 404.28 1286.8 404.30 1288.3 404.32 1289.8 404.34 1291.3 404.35 1292.8 404.37 1294.3 404.39 1295.8 404.40 1297.3 404.42 1298.8 404.44 1300.3 404.45 1301.8 404.47 1303.3 404.48 1304.8 404.49 1306.3 404.51 1307.8 404.52 1309.3 404.53 1310.8 404.55 1312.3 404.56 1313.8 404.57 1315.3 404.59 1316.8 404.60 1318.3 404.61 1319.8 404.62 1321.3 404.64 1322.8 404.65 1324.3 404.66 1325.8 404.67 1327.3 404.69 1328.8 404.70 1330.3 404.71 1331.8 404.72 1333.3 404.74 1334.8 404.75 1336.3 404.77 1337.8 404.78 1339.3 404.79 1340.8 404.81 1342.3 404.82 1343.8 404.84 1345.3 404.85 1346.8 404.87 1348.3 404.89 1349.8 404.90 1351.3 404.92 1352.8 404.93 1354.3 404.95 1355.8 404.97 1357.3 404.99 1358.8 405.00 1360.3 405.02 1361.8 405.04 1363.3 405.06 1364.8 405.07 1366.3 405.09 1367.8 405.11 1369.3 405.13 1370.8 405.15 1372.3 405.17 1373.8 405.18 1375.3 405.20 1376.8 405.22 1378.3 405.24 1379.8 405.26 1381.3 405.28 1382.8 405.30 1384.3 405.32 1385.8 405.34 1387.3 405.35 1388.8 405.37 1390.3 405.39 1391.8 405.41 1393.3 405.43 1394.8 405.45 1396.3 405.47 1397.8 405.49 1399.3 405.51 1400.8 405.53 1402.3 405.54 1403.8 405.56 1405.3 405.58 1406.8 405.60 1408.3 405.62 1409.8 405.64 1411.3 405.65 1412.8 405.67 1414.3 405.69 1415.8 405.71 1417.3 405.72 1418.8 405.74 1420.3 405.76 1421.8 405.78 1423.3 405.79 1424.8 405.81 1426.3 405.83 1427.8 405.84 1429.3 405.86 1430.8 405.87 1432.3 405.89 1433.8 405.90 1435.3 405.92 1436.8 405.93 1438.3 405.95 1439.8 405.96 1441.3 405.97 1442.8 405.99 1444.3 406.00 1445.8 406.01 1447.3 406.03 1448.8 406.04 1450.3 406.05 1451.8 406.06 1453.3 406.07 1454.8 406.08 1456.3 406.09 1457.8 406.10 1459.3 406.11 1460.8 406.12 1462.3 406.13 1463.8 406.14 1465.3 406.14 1466.8 406.15 1468.3 406.16 1469.8 406.16 1471.3 406.17 1472.8 406.17 1474.3 406.18 1475.8 406.18 1477.3 406.19 1478.8 406.19 1480.3 406.19 1481.8 406.20 1483.3 406.20 1484.8 406.20 1486.3 406.20 1487.3 406.21" fill="none" stroke="#000000" stroke-width="3.4" stroke-linejoin="round" stroke-linecap="butt"/>
<path d="M887.8 407.20 L889.3 407.20 890.8 407.20 892.3 407.20 893.8 407.20 895.3 407.20 896.8 407.20 898.3 407.20 899.8 407.20 901.3 407.20 902.8 407.20 904.3 407.20 905.8 407.20 907.3 407.20 908.8 407.20 910.3 407.20 911.8 407.20 913.3 407.20 914.8 407.20 916.3 407.20 917.8 407.20 919.3 407.20 920.8 407.20 922.3 407.20 923.8 407.20 925.3 407.20 926.8 407.20 928.3 407.20 929.8 407.20 931.3 407.20 932.8 407.20 934.3 407.20 935.8 407.20 937.3 407.20 938.8 407.20 940.3 407.20 941.8 407.20 943.3 407.20 944.8 407.20 946.3 407.20 947.8 407.20 949.3 407.20 950.8 407.20 952.3 407.20 953.8 407.20 955.3 407.20 956.8 407.20 958.3 407.20 959.8 407.20 961.3 407.20 962.8 407.20 964.3 407.20 965.8 407.20 967.3 407.20 968.8 407.20 970.3 407.20 971.8 407.20 973.3 407.20 974.8 407.20 976.3 407.20 977.8 407.20 979.3 407.20 980.8 407.20 982.3 407.20 983.8 407.20 985.3 407.19 986.8 407.19 988.3 407.19 989.8 407.19 991.3 407.19 992.8 407.19 994.3 407.19 995.8 407.19 997.3 407.19 998.8 407.19 1000.3 407.19 1001.8 407.20 1003.3 407.21 1004.8 407.21 1006.3 407.23 1007.8 407.24 1009.3 407.25 1010.8 407.26 1012.3 407.27 1013.8 407.27 1015.3 407.26 1016.8 407.23 1018.3 407.18 1019.8 407.10 1021.3 406.98 1022.8 406.82 1024.3 406.60 1025.8 406.31 1027.3 405.94 1028.8 405.49 1030.3 404.93 1031.8 404.27 1033.3 403.49 1034.8 402.58 1036.3 401.53 1037.8 400.36 1039.3 399.04 1040.8 397.60 1042.3 396.04 1043.8 394.38 1045.3 392.62 1046.8 390.80 1048.3 388.94 1049.8 387.06 1051.3 385.19 1052.8 383.35 1054.3 381.56 1055.8 379.86 1057.3 378.24 1058.8 376.74 1060.3 375.35 1061.8 374.09 1063.3 372.97 1064.8 371.99 1066.3 371.15 1067.8 370.45 1069.3 369.89 1070.8 369.47 1072.3 369.18 1073.8 369.02 1075.3 368.98 1076.8 369.06 1078.3 369.24 1079.8 369.52 1081.3 369.89 1082.8 370.35 1084.3 370.88 1085.8 371.48 1087.3 372.14 1088.8 372.85 1090.3 373.60 1091.8 374.39 1093.3 375.20 1094.8 376.03 1096.3 376.88 1097.8 377.73 1099.3 378.59 1100.8 379.44 1102.3 380.28 1103.8 381.12 1105.3 381.94 1106.8 382.75 1108.3 383.54 1109.8 384.32 1111.3 385.08 1112.8 385.81 1114.3 386.53 1115.8 387.23 1117.3 387.91 1118.8 388.56 1120.3 389.20 1121.8 389.82 1123.3 390.41 1124.8 390.99 1126.3 391.54 1127.8 392.08 1129.3 392.60 1130.8 393.10 1132.3 393.58 1133.8 394.04 1135.3 394.49 1136.8 394.92 1138.3 395.33 1139.8 395.73 1141.3 396.12 1142.8 396.49 1144.3 396.84 1145.8 397.18 1147.3 397.51 1148.8 397.83 1150.3 398.13 1151.8 398.42 1153.3 398.70 1154.8 398.97 1156.3 399.22 1157.8 399.47 1159.3 399.71 1160.8 399.94 1162.3 400.17 1163.8 400.38 1165.3 400.59 1166.8 400.80 1168.3 401.00 1169.8 401.20 1171.3 401.39 1172.8 401.57 1174.3 401.75 1175.8 401.93 1177.3 402.09 1178.8 402.26 1180.3 402.42 1181.8 402.57 1183.3 402.72 1184.8 402.86 1186.3 403.00 1187.8 403.13 1189.3 403.26 1190.8 403.38 1192.3 403.50 1193.8 403.61 1195.3 403.72 1196.8 403.83 1198.3 403.93 1199.8 404.03 1201.3 404.12 1202.8 404.21 1204.3 404.30 1205.8 404.38 1207.3 404.46 1208.8 404.54 1210.3 404.61 1211.8 404.68 1213.3 404.74 1214.8 404.81 1216.3 404.87 1217.8 404.93 1219.3 404.98 1220.8 405.04 1222.3 405.09 1223.8 405.14 1225.3 405.19 1226.8 405.24 1228.3 405.29 1229.8 405.34 1231.3 405.39 1232.8 405.43 1234.3 405.48 1235.8 405.52 1237.3 405.57 1238.8 405.61 1240.3 405.65 1241.8 405.69 1243.3 405.73 1244.8 405.77 1246.3 405.80 1247.8 405.84 1249.3 405.87 1250.8 405.90 1252.3 405.93 1253.8 405.96 1255.3 405.98 1256.8 406.00 1258.3 406.03 1259.8 406.05 1261.3 406.07 1262.8 406.08 1264.3 406.10 1265.8 406.12 1267.3 406.13 1268.8 406.15 1270.3 406.16 1271.8 406.18 1273.3 406.19 1274.8 406.20 1276.3 406.22 1277.8 406.23 1279.3 406.24 1280.8 406.26 1282.3 406.27 1283.8 406.28 1285.3 406.29 1286.8 406.31 1288.3 406.32 1289.8 406.33 1291.3 406.34 1292.8 406.35 1294.3 406.36 1295.8 406.37 1297.3 406.38 1298.8 406.39 1300.3 406.40 1301.8 406.41 1303.3 406.42 1304.8 406.43 1306.3 406.44 1307.8 406.45 1309.3 406.46 1310.8 406.46 1312.3 406.47 1313.8 406.48 1315.3 406.49 1316.8 406.50 1318.3 406.50 1319.8 406.51 1321.3 406.52 1322.8 406.52 1324.3 406.53 1325.8 406.54 1327.3 406.55 1328.8 406.55 1330.3 406.56 1331.8 406.57 1333.3 406.57 1334.8 406.58 1336.3 406.58 1337.8 406.59 1339.3 406.60 1340.8 406.60 1342.3 406.61 1343.8 406.62 1345.3 406.62 1346.8 406.63 1348.3 406.63 1349.8 406.64 1351.3 406.65 1352.8 406.65 1354.3 406.66 1355.8 406.66 1357.3 406.67 1358.8 406.68 1360.3 406.68 1361.8 406.69 1363.3 406.69 1364.8 406.70 1366.3 406.71 1367.8 406.71 1369.3 406.72 1370.8 406.72 1372.3 406.73 1373.8 406.74 1375.3 406.74 1376.8 406.75 1378.3 406.75 1379.8 406.76 1381.3 406.76 1382.8 406.77 1384.3 406.78 1385.8 406.78 1387.3 406.79 1388.8 406.79 1390.3 406.80 1391.8 406.80 1393.3 406.81 1394.8 406.81 1396.3 406.82 1397.8 406.82 1399.3 406.83 1400.8 406.83 1402.3 406.84 1403.8 406.84 1405.3 406.85 1406.8 406.85 1408.3 406.86 1409.8 406.86 1411.3 406.87 1412.8 406.87 1414.3 406.88 1415.8 406.88 1417.3 406.89 1418.8 406.89 1420.3 406.90 1421.8 406.90 1423.3 406.90 1424.8 406.91 1426.3 406.91 1427.8 406.92 1429.3 406.92 1430.8 406.92 1432.3 406.93 1433.8 406.93 1435.3 406.93 1436.8 406.94 1438.3 406.94 1439.8 406.95 1441.3 406.95 1442.8 406.95 1444.3 406.95 1445.8 406.96 1447.3 406.96 1448.8 406.96 1450.3 406.97 1451.8 406.97 1453.3 406.97 1454.8 406.97 1456.3 406.98 1457.8 406.98 1459.3 406.98 1460.8 406.98 1462.3 406.98 1463.8 406.99 1465.3 406.99 1466.8 406.99 1468.3 406.99 1469.8 406.99 1471.3 406.99 1472.8 406.99 1474.3 407.00 1475.8 407.00 1477.3 407.00 1478.8 407.00 1480.3 407.00 1481.8 407.00 1483.3 407.00 1484.8 407.00 1486.3 407.00 1487.3 407.00" fill="none" stroke="#0aa5e6" stroke-width="3.4" stroke-linejoin="round" stroke-linecap="butt"/>
<path d="M887.8 484.40 L889.3 484.40 890.8 484.40 892.3 484.40 893.8 484.40 895.3 484.40 896.8 484.40 898.3 484.40 899.8 484.40 901.3 484.40 902.8 484.40 904.3 484.40 905.8 484.40 907.3 484.40 908.8 484.40 910.3 484.40 911.8 484.40 913.3 484.40 914.8 484.40 916.3 484.40 917.8 484.40 919.3 484.40 920.8 484.40 922.3 484.40 923.8 484.40 925.3 484.40 926.8 484.40 928.3 484.40 929.8 484.40 931.3 484.40 932.8 484.40 934.3 484.40 935.8 484.40 937.3 484.40 938.8 484.40 940.3 484.40 941.8 484.40 943.3 484.40 944.8 484.40 946.3 484.40 947.8 484.40 949.3 484.40 950.8 484.40 952.3 484.40 953.8 484.40 955.3 484.40 956.8 484.40 958.3 484.40 959.8 484.40 961.3 484.40 962.8 484.40 964.3 484.39 965.8 484.39 967.3 484.39 968.8 484.38 970.3 484.38 971.8 484.37 973.3 484.37 974.8 484.36 976.3 484.35 977.8 484.34 979.3 484.33 980.8 484.32 982.3 484.31 983.8 484.30 985.3 484.29 986.8 484.28 988.3 484.27 989.8 484.26 991.3 484.25 992.8 484.24 994.3 484.22 995.8 484.21 997.3 484.20 998.8 484.19 1000.3 484.17 1001.8 484.16 1003.3 484.14 1004.8 484.13 1006.3 484.11 1007.8 484.10 1009.3 484.08 1010.8 484.06 1012.3 484.04 1013.8 484.02 1015.3 483.99 1016.8 483.97 1018.3 483.95 1019.8 483.92 1021.3 483.89 1022.8 483.87 1024.3 483.84 1025.8 483.81 1027.3 483.79 1028.8 483.76 1030.3 483.74 1031.8 483.72 1033.3 483.69 1034.8 483.68 1036.3 483.66 1037.8 483.64 1039.3 483.63 1040.8 483.62 1042.3 483.62 1043.8 483.61 1045.3 483.61 1046.8 483.61 1048.3 483.61 1049.8 483.62 1051.3 483.62 1052.8 483.63 1054.3 483.64 1055.8 483.65 1057.3 483.66 1058.8 483.67 1060.3 483.68 1061.8 483.70 1063.3 483.71 1064.8 483.72 1066.3 483.73 1067.8 483.74 1069.3 483.75 1070.8 483.76 1072.3 483.77 1073.8 483.78 1075.3 483.78 1076.8 483.79 1078.3 483.79 1079.8 483.79 1081.3 483.80 1082.8 483.80 1084.3 483.80 1085.8 483.80 1087.3 483.80 1088.8 483.80 1090.3 483.81 1091.8 483.81 1093.3 483.81 1094.8 483.81 1096.3 483.81 1097.8 483.81 1099.3 483.82 1100.8 483.82 1102.3 483.82 1103.8 483.82 1105.3 483.82 1106.8 483.82 1108.3 483.82 1109.8 483.81 1111.3 483.80 1112.8 483.79 1114.3 483.78 1115.8 483.75 1117.3 483.73 1118.8 483.69 1120.3 483.65 1121.8 483.60 1123.3 483.55 1124.8 483.49 1126.3 483.43 1127.8 483.36 1129.3 483.29 1130.8 483.22 1132.3 483.15 1133.8 483.07 1135.3 482.99 1136.8 482.90 1138.3 482.81 1139.8 482.72 1141.3 482.61 1142.8 482.50 1144.3 482.37 1145.8 482.23 1147.3 482.07 1148.8 481.89 1150.3 481.67 1151.8 481.42 1153.3 481.13 1154.8 480.79 1156.3 480.40 1157.8 479.94 1159.3 479.41 1160.8 478.80 1162.3 478.10 1163.8 477.33 1165.3 476.47 1166.8 475.53 1168.3 474.51 1169.8 473.42 1171.3 472.26 1172.8 471.05 1174.3 469.78 1175.8 468.46 1177.3 467.11 1178.8 465.74 1180.3 464.34 1181.8 462.93 1183.3 461.53 1184.8 460.13 1186.3 458.76 1187.8 457.42 1189.3 456.13 1190.8 454.89 1192.3 453.72 1193.8 452.63 1195.3 451.62 1196.8 450.70 1198.3 449.87 1199.8 449.14 1201.3 448.50 1202.8 447.96 1204.3 447.52 1205.8 447.18 1207.3 446.94 1208.8 446.80 1210.3 446.75 1211.8 446.80 1213.3 446.93 1214.8 447.16 1216.3 447.47 1217.8 447.86 1219.3 448.33 1220.8 448.87 1222.3 449.49 1223.8 450.17 1225.3 450.90 1226.8 451.69 1228.3 452.52 1229.8 453.39 1231.3 454.28 1232.8 455.19 1234.3 456.12 1235.8 457.05 1237.3 457.99 1238.8 458.92 1240.3 459.86 1241.8 460.78 1243.3 461.69 1244.8 462.59 1246.3 463.48 1247.8 464.35 1249.3 465.20 1250.8 466.03 1252.3 466.83 1253.8 467.61 1255.3 468.37 1256.8 469.09 1258.3 469.78 1259.8 470.44 1261.3 471.07 1262.8 471.67 1264.3 472.23 1265.8 472.75 1267.3 473.25 1268.8 473.71 1270.3 474.14 1271.8 474.53 1273.3 474.91 1274.8 475.25 1276.3 475.57 1277.8 475.87 1279.3 476.15 1280.8 476.42 1282.3 476.66 1283.8 476.90 1285.3 477.12 1286.8 477.32 1288.3 477.52 1289.8 477.71 1291.3 477.88 1292.8 478.06 1294.3 478.22 1295.8 478.37 1297.3 478.52 1298.8 478.67 1300.3 478.81 1301.8 478.94 1303.3 479.07 1304.8 479.20 1306.3 479.32 1307.8 479.44 1309.3 479.56 1310.8 479.67 1312.3 479.78 1313.8 479.89 1315.3 480.00 1316.8 480.10 1318.3 480.20 1319.8 480.31 1321.3 480.41 1322.8 480.50 1324.3 480.60 1325.8 480.69 1327.3 480.79 1328.8 480.87 1330.3 480.96 1331.8 481.04 1333.3 481.13 1334.8 481.20 1336.3 481.28 1337.8 481.35 1339.3 481.42 1340.8 481.48 1342.3 481.54 1343.8 481.60 1345.3 481.65 1346.8 481.70 1348.3 481.75 1349.8 481.79 1351.3 481.83 1352.8 481.87 1354.3 481.91 1355.8 481.95 1357.3 481.98 1358.8 482.01 1360.3 482.05 1361.8 482.08 1363.3 482.11 1364.8 482.15 1366.3 482.18 1367.8 482.21 1369.3 482.24 1370.8 482.27 1372.3 482.30 1373.8 482.33 1375.3 482.36 1376.8 482.39 1378.3 482.42 1379.8 482.45 1381.3 482.48 1382.8 482.51 1384.3 482.54 1385.8 482.57 1387.3 482.60 1388.8 482.63 1390.3 482.66 1391.8 482.68 1393.3 482.71 1394.8 482.74 1396.3 482.76 1397.8 482.79 1399.3 482.81 1400.8 482.84 1402.3 482.86 1403.8 482.89 1405.3 482.91 1406.8 482.94 1408.3 482.96 1409.8 482.98 1411.3 483.01 1412.8 483.03 1414.3 483.05 1415.8 483.07 1417.3 483.09 1418.8 483.11 1420.3 483.13 1421.8 483.15 1423.3 483.17 1424.8 483.19 1426.3 483.21 1427.8 483.23 1429.3 483.25 1430.8 483.26 1432.3 483.28 1433.8 483.30 1435.3 483.31 1436.8 483.33 1438.3 483.35 1439.8 483.36 1441.3 483.38 1442.8 483.39 1444.3 483.40 1445.8 483.42 1447.3 483.43 1448.8 483.44 1450.3 483.45 1451.8 483.47 1453.3 483.48 1454.8 483.49 1456.3 483.50 1457.8 483.51 1459.3 483.52 1460.8 483.52 1462.3 483.53 1463.8 483.54 1465.3 483.55 1466.8 483.55 1468.3 483.56 1469.8 483.57 1471.3 483.57 1472.8 483.58 1474.3 483.58 1475.8 483.58 1477.3 483.59 1478.8 483.59 1480.3 483.59 1481.8 483.60 1483.3 483.60 1484.8 483.60 1486.3 483.60 1487.3 483.61" fill="none" stroke="#000000" stroke-width="3.4" stroke-linejoin="round" stroke-linecap="butt"/>
<path d="M887.8 484.41 L889.3 484.40 890.8 484.40 892.3 484.40 893.8 484.39 895.3 484.39 896.8 484.39 898.3 484.38 899.8 484.38 901.3 484.37 902.8 484.36 904.3 484.36 905.8 484.35 907.3 484.34 908.8 484.33 910.3 484.32 911.8 484.31 913.3 484.30 914.8 484.29 916.3 484.28 917.8 484.27 919.3 484.26 920.8 484.25 922.3 484.23 923.8 484.22 925.3 484.21 926.8 484.19 928.3 484.18 929.8 484.16 931.3 484.15 932.8 484.13 934.3 484.11 935.8 484.10 937.3 484.08 938.8 484.07 940.3 484.05 941.8 484.03 943.3 484.01 944.8 484.00 946.3 483.98 947.8 483.96 949.3 483.94 950.8 483.92 952.3 483.90 953.8 483.88 955.3 483.86 956.8 483.84 958.3 483.82 959.8 483.80 961.3 483.78 962.8 483.76 964.3 483.73 965.8 483.71 967.3 483.68 968.8 483.66 970.3 483.63 971.8 483.60 973.3 483.57 974.8 483.53 976.3 483.50 977.8 483.46 979.3 483.43 980.8 483.39 982.3 483.35 983.8 483.31 985.3 483.26 986.8 483.22 988.3 483.17 989.8 483.12 991.3 483.07 992.8 483.02 994.3 482.96 995.8 482.90 997.3 482.84 998.8 482.78 1000.3 482.71 1001.8 482.63 1003.3 482.55 1004.8 482.47 1006.3 482.38 1007.8 482.29 1009.3 482.19 1010.8 482.08 1012.3 481.98 1013.8 481.86 1015.3 481.74 1016.8 481.62 1018.3 481.49 1019.8 481.35 1021.3 481.21 1022.8 481.07 1024.3 480.92 1025.8 480.77 1027.3 480.62 1028.8 480.47 1030.3 480.32 1031.8 480.18 1033.3 480.04 1034.8 479.91 1036.3 479.79 1037.8 479.67 1039.3 479.57 1040.8 479.48 1042.3 479.39 1043.8 479.32 1045.3 479.25 1046.8 479.19 1048.3 479.14 1049.8 479.10 1051.3 479.07 1052.8 479.04 1054.3 479.03 1055.8 479.02 1057.3 479.02 1058.8 479.03 1060.3 479.04 1061.8 479.06 1063.3 479.08 1064.8 479.11 1066.3 479.14 1067.8 479.18 1069.3 479.22 1070.8 479.25 1072.3 479.29 1073.8 479.33 1075.3 479.36 1076.8 479.39 1078.3 479.41 1079.8 479.42 1081.3 479.41 1082.8 479.39 1084.3 479.34 1085.8 479.26 1087.3 479.15 1088.8 479.00 1090.3 478.80 1091.8 478.54 1093.3 478.22 1094.8 477.82 1096.3 477.33 1097.8 476.75 1099.3 476.07 1100.8 475.27 1102.3 474.36 1103.8 473.32 1105.3 472.16 1106.8 470.88 1108.3 469.49 1109.8 467.99 1111.3 466.39 1112.8 464.71 1114.3 462.97 1115.8 461.17 1117.3 459.34 1118.8 457.50 1120.3 455.65 1121.8 453.83 1123.3 452.04 1124.8 450.30 1126.3 448.62 1127.8 447.02 1129.3 445.51 1130.8 444.10 1132.3 442.80 1133.8 441.61 1135.3 440.55 1136.8 439.62 1138.3 438.81 1139.8 438.13 1141.3 437.57 1142.8 437.12 1144.3 436.78 1145.8 436.55 1147.3 436.41 1148.8 436.36 1150.3 436.40 1151.8 436.51 1153.3 436.69 1154.8 436.95 1156.3 437.26 1157.8 437.64 1159.3 438.07 1160.8 438.55 1162.3 439.08 1163.8 439.66 1165.3 440.28 1166.8 440.94 1168.3 441.63 1169.8 442.34 1171.3 443.07 1172.8 443.82 1174.3 444.58 1175.8 445.35 1177.3 446.12 1178.8 446.89 1180.3 447.67 1181.8 448.45 1183.3 449.22 1184.8 450.00 1186.3 450.77 1187.8 451.53 1189.3 452.30 1190.8 453.05 1192.3 453.80 1193.8 454.54 1195.3 455.27 1196.8 455.99 1198.3 456.70 1199.8 457.39 1201.3 458.07 1202.8 458.74 1204.3 459.39 1205.8 460.02 1207.3 460.63 1208.8 461.23 1210.3 461.81 1211.8 462.37 1213.3 462.92 1214.8 463.45 1216.3 463.97 1217.8 464.47 1219.3 464.97 1220.8 465.45 1222.3 465.92 1223.8 466.39 1225.3 466.84 1226.8 467.29 1228.3 467.74 1229.8 468.17 1231.3 468.61 1232.8 469.03 1234.3 469.45 1235.8 469.87 1237.3 470.28 1238.8 470.68 1240.3 471.08 1241.8 471.47 1243.3 471.85 1244.8 472.23 1246.3 472.60 1247.8 472.96 1249.3 473.32 1250.8 473.68 1252.3 474.04 1253.8 474.39 1255.3 474.74 1256.8 475.09 1258.3 475.43 1259.8 475.77 1261.3 476.10 1262.8 476.43 1264.3 476.74 1265.8 477.04 1267.3 477.33 1268.8 477.60 1270.3 477.86 1271.8 478.11 1273.3 478.34 1274.8 478.55 1276.3 478.75 1277.8 478.94 1279.3 479.12 1280.8 479.29 1282.3 479.45 1283.8 479.61 1285.3 479.75 1286.8 479.89 1288.3 480.03 1289.8 480.16 1291.3 480.28 1292.8 480.40 1294.3 480.51 1295.8 480.63 1297.3 480.73 1298.8 480.84 1300.3 480.94 1301.8 481.04 1303.3 481.13 1304.8 481.22 1306.3 481.30 1307.8 481.38 1309.3 481.46 1310.8 481.54 1312.3 481.61 1313.8 481.68 1315.3 481.74 1316.8 481.81 1318.3 481.87 1319.8 481.93 1321.3 481.99 1322.8 482.05 1324.3 482.11 1325.8 482.16 1327.3 482.21 1328.8 482.26 1330.3 482.31 1331.8 482.36 1333.3 482.41 1334.8 482.45 1336.3 482.49 1337.8 482.54 1339.3 482.57 1340.8 482.61 1342.3 482.65 1343.8 482.68 1345.3 482.71 1346.8 482.74 1348.3 482.77 1349.8 482.80 1351.3 482.82 1352.8 482.85 1354.3 482.87 1355.8 482.89 1357.3 482.92 1358.8 482.94 1360.3 482.96 1361.8 482.98 1363.3 483.00 1364.8 483.02 1366.3 483.04 1367.8 483.06 1369.3 483.09 1370.8 483.11 1372.3 483.13 1373.8 483.15 1375.3 483.17 1376.8 483.19 1378.3 483.21 1379.8 483.23 1381.3 483.25 1382.8 483.27 1384.3 483.29 1385.8 483.30 1387.3 483.32 1388.8 483.34 1390.3 483.36 1391.8 483.38 1393.3 483.40 1394.8 483.41 1396.3 483.43 1397.8 483.45 1399.3 483.47 1400.8 483.48 1402.3 483.50 1403.8 483.52 1405.3 483.53 1406.8 483.55 1408.3 483.56 1409.8 483.58 1411.3 483.59 1412.8 483.61 1414.3 483.62 1415.8 483.64 1417.3 483.65 1418.8 483.67 1420.3 483.68 1421.8 483.69 1423.3 483.71 1424.8 483.72 1426.3 483.73 1427.8 483.75 1429.3 483.76 1430.8 483.77 1432.3 483.78 1433.8 483.79 1435.3 483.80 1436.8 483.81 1438.3 483.82 1439.8 483.84 1441.3 483.85 1442.8 483.85 1444.3 483.86 1445.8 483.87 1447.3 483.88 1448.8 483.89 1450.3 483.90 1451.8 483.91 1453.3 483.91 1454.8 483.92 1456.3 483.93 1457.8 483.94 1459.3 483.94 1460.8 483.95 1462.3 483.95 1463.8 483.96 1465.3 483.96 1466.8 483.97 1468.3 483.97 1469.8 483.98 1471.3 483.98 1472.8 483.98 1474.3 483.99 1475.8 483.99 1477.3 483.99 1478.8 483.99 1480.3 484.00 1481.8 484.00 1483.3 484.00 1484.8 484.00 1486.3 484.00 1487.3 484.00" fill="none" stroke="#0aa5e6" stroke-width="3.4" stroke-linejoin="round" stroke-linecap="butt"/>
<path d="M885.2 563.20 L886.7 563.20 888.2 563.20 889.7 563.20 891.2 563.20 892.7 563.20 894.2 563.20 895.7 563.20 897.2 563.20 898.7 563.20 900.2 563.20 901.7 563.20 903.2 563.20 904.7 563.19 906.2 563.19 907.7 563.19 909.2 563.19 910.7 563.19 912.2 563.19 913.7 563.19 915.2 563.19 916.7 563.18 918.2 563.18 919.7 563.18 921.2 563.18 922.7 563.18 924.2 563.17 925.7 563.17 927.2 563.17 928.7 563.17 930.2 563.17 931.7 563.16 933.2 563.16 934.7 563.16 936.2 563.16 937.7 563.15 939.2 563.15 940.7 563.15 942.2 563.14 943.7 563.14 945.2 563.14 946.7 563.13 948.2 563.13 949.7 563.13 951.2 563.12 952.7 563.12 954.2 563.12 955.7 563.11 957.2 563.11 958.7 563.10 960.2 563.10 961.7 563.10 963.2 563.09 964.7 563.09 966.2 563.08 967.7 563.08 969.2 563.07 970.7 563.07 972.2 563.07 973.7 563.06 975.2 563.06 976.7 563.05 978.2 563.05 979.7 563.04 981.2 563.04 982.7 563.03 984.2 563.03 985.7 563.02 987.2 563.01 988.7 563.00 990.2 562.99 991.7 562.98 993.2 562.97 994.7 562.96 996.2 562.94 997.7 562.92 999.2 562.90 1000.7 562.87 1002.2 562.85 1003.7 562.82 1005.2 562.79 1006.7 562.76 1008.2 562.73 1009.7 562.69 1011.2 562.66 1012.7 562.62 1014.2 562.58 1015.7 562.54 1017.2 562.50 1018.7 562.47 1020.2 562.43 1021.7 562.39 1023.2 562.35 1024.7 562.31 1026.2 562.27 1027.7 562.23 1029.2 562.20 1030.7 562.16 1032.2 562.13 1033.7 562.09 1035.2 562.06 1036.7 562.03 1038.2 562.00 1039.7 561.97 1041.2 561.94 1042.7 561.92 1044.2 561.89 1045.7 561.86 1047.2 561.84 1048.7 561.81 1050.2 561.79 1051.7 561.76 1053.2 561.74 1054.7 561.71 1056.2 561.69 1057.7 561.66 1059.2 561.64 1060.7 561.61 1062.2 561.59 1063.7 561.57 1065.2 561.54 1066.7 561.52 1068.2 561.49 1069.7 561.47 1071.2 561.45 1072.7 561.42 1074.2 561.40 1075.7 561.38 1077.2 561.36 1078.7 561.33 1080.2 561.31 1081.7 561.29 1083.2 561.27 1084.7 561.25 1086.2 561.23 1087.7 561.21 1089.2 561.19 1090.7 561.17 1092.2 561.15 1093.7 561.13 1095.2 561.11 1096.7 561.09 1098.2 561.07 1099.7 561.04 1101.2 561.02 1102.7 560.99 1104.2 560.96 1105.7 560.93 1107.2 560.90 1108.7 560.86 1110.2 560.83 1111.7 560.78 1113.2 560.74 1114.7 560.68 1116.2 560.62 1117.7 560.55 1119.2 560.47 1120.7 560.38 1122.2 560.28 1123.7 560.16 1125.2 560.02 1126.7 559.85 1128.2 559.65 1129.7 559.43 1131.2 559.16 1132.7 558.85 1134.2 558.49 1135.7 558.07 1137.2 557.60 1138.7 557.05 1140.2 556.44 1141.7 555.75 1143.2 554.97 1144.7 554.10 1146.2 553.15 1147.7 552.09 1149.2 550.95 1150.7 549.71 1152.2 548.39 1153.7 546.99 1155.2 545.52 1156.7 544.00 1158.2 542.43 1159.7 540.84 1161.2 539.24 1162.7 537.65 1164.2 536.10 1165.7 534.58 1167.2 533.14 1168.7 531.76 1170.2 530.48 1171.7 529.31 1173.2 528.23 1174.7 527.28 1176.2 526.43 1177.7 525.70 1179.2 525.08 1180.7 524.58 1182.2 524.18 1183.7 523.90 1185.2 523.72 1186.7 523.64 1188.2 523.67 1189.7 523.78 1191.2 523.97 1192.7 524.24 1194.2 524.57 1195.7 524.97 1197.2 525.41 1198.7 525.91 1200.2 526.44 1201.7 527.01 1203.2 527.61 1204.7 528.24 1206.2 528.89 1207.7 529.56 1209.2 530.24 1210.7 530.93 1212.2 531.63 1213.7 532.34 1215.2 533.04 1216.7 533.75 1218.2 534.45 1219.7 535.14 1221.2 535.83 1222.7 536.50 1224.2 537.17 1225.7 537.83 1227.2 538.48 1228.7 539.12 1230.2 539.75 1231.7 540.36 1233.2 540.97 1234.7 541.56 1236.2 542.15 1237.7 542.72 1239.2 543.28 1240.7 543.83 1242.2 544.36 1243.7 544.88 1245.2 545.39 1246.7 545.88 1248.2 546.36 1249.7 546.82 1251.2 547.26 1252.7 547.68 1254.2 548.10 1255.7 548.49 1257.2 548.87 1258.7 549.24 1260.2 549.60 1261.7 549.95 1263.2 550.28 1264.7 550.60 1266.2 550.92 1267.7 551.22 1269.2 551.52 1270.7 551.81 1272.2 552.08 1273.7 552.35 1275.2 552.61 1276.7 552.85 1278.2 553.09 1279.7 553.32 1281.2 553.53 1282.7 553.74 1284.2 553.94 1285.7 554.13 1287.2 554.32 1288.7 554.50 1290.2 554.67 1291.7 554.83 1293.2 554.99 1294.7 555.14 1296.2 555.29 1297.7 555.43 1299.2 555.57 1300.7 555.71 1302.2 555.84 1303.7 555.97 1305.2 556.10 1306.7 556.23 1308.2 556.35 1309.7 556.47 1311.2 556.59 1312.7 556.70 1314.2 556.82 1315.7 556.93 1317.2 557.04 1318.7 557.15 1320.2 557.25 1321.7 557.35 1323.2 557.45 1324.7 557.55 1326.2 557.65 1327.7 557.74 1329.2 557.83 1330.7 557.92 1332.2 558.00 1333.7 558.08 1335.2 558.16 1336.7 558.24 1338.2 558.31 1339.7 558.38 1341.2 558.45 1342.7 558.52 1344.2 558.59 1345.7 558.65 1347.2 558.71 1348.7 558.77 1350.2 558.83 1351.7 558.89 1353.2 558.95 1354.7 559.01 1356.2 559.06 1357.7 559.12 1359.2 559.17 1360.7 559.22 1362.2 559.28 1363.7 559.33 1365.2 559.38 1366.7 559.43 1368.2 559.48 1369.7 559.53 1371.2 559.57 1372.7 559.62 1374.2 559.66 1375.7 559.71 1377.2 559.75 1378.7 559.79 1380.2 559.83 1381.7 559.87 1383.2 559.91 1384.7 559.95 1386.2 559.99 1387.7 560.03 1389.2 560.06 1390.7 560.10 1392.2 560.13 1393.7 560.17 1395.2 560.20 1396.7 560.23 1398.2 560.26 1399.7 560.29 1401.2 560.33 1402.7 560.36 1404.2 560.39 1405.7 560.42 1407.2 560.45 1408.7 560.47 1410.2 560.50 1411.7 560.53 1413.2 560.56 1414.7 560.59 1416.2 560.62 1417.7 560.65 1419.2 560.68 1420.7 560.71 1422.2 560.74 1423.7 560.77 1425.2 560.79 1426.7 560.82 1428.2 560.85 1429.7 560.88 1431.2 560.90 1432.7 560.93 1434.2 560.96 1435.7 560.98 1437.2 561.01 1438.7 561.04 1440.2 561.06 1441.7 561.09 1443.2 561.11 1444.7 561.13 1446.2 561.16 1447.7 561.18 1449.2 561.20 1450.7 561.22 1452.2 561.24 1453.7 561.26 1455.2 561.28 1456.7 561.30 1458.2 561.32 1459.7 561.34 1461.2 561.35 1462.7 561.37 1464.2 561.38 1465.7 561.40 1467.2 561.41 1468.7 561.42 1470.2 561.43 1471.7 561.44 1473.2 561.45 1474.7 561.46 1476.2 561.47 1477.7 561.48 1479.2 561.48 1480.7 561.49 1482.2 561.49 1483.7 561.50 1485.2 561.50 1486.7 561.51 1487.3 561.51" fill="none" stroke="#000000" stroke-width="3.4" stroke-linejoin="round" stroke-linecap="butt"/>
<path d="M887.8 562.50 L889.3 562.51 890.8 562.51 892.3 562.51 893.8 562.52 895.3 562.52 896.8 562.52 898.3 562.53 899.8 562.53 901.3 562.53 902.8 562.54 904.3 562.54 905.8 562.54 907.3 562.55 908.8 562.55 910.3 562.55 911.8 562.56 913.3 562.56 914.8 562.56 916.3 562.56 917.8 562.56 919.3 562.57 920.8 562.57 922.3 562.57 923.8 562.57 925.3 562.57 926.8 562.58 928.3 562.58 929.8 562.58 931.3 562.58 932.8 562.58 934.3 562.58 935.8 562.59 937.3 562.59 938.8 562.59 940.3 562.59 941.8 562.59 943.3 562.59 944.8 562.59 946.3 562.59 947.8 562.59 949.3 562.59 950.8 562.59 952.3 562.59 953.8 562.60 955.3 562.60 956.8 562.60 958.3 562.60 959.8 562.60 961.3 562.60 962.8 562.60 964.3 562.60 965.8 562.60 967.3 562.60 968.8 562.60 970.3 562.60 971.8 562.60 973.3 562.60 974.8 562.61 976.3 562.61 977.8 562.61 979.3 562.61 980.8 562.61 982.3 562.61 983.8 562.61 985.3 562.61 986.8 562.61 988.3 562.60 989.8 562.60 991.3 562.59 992.8 562.57 994.3 562.56 995.8 562.54 997.3 562.52 998.8 562.49 1000.3 562.46 1001.8 562.42 1003.3 562.38 1004.8 562.34 1006.3 562.29 1007.8 562.24 1009.3 562.19 1010.8 562.13 1012.3 562.07 1013.8 562.01 1015.3 561.94 1016.8 561.88 1018.3 561.80 1019.8 561.73 1021.3 561.65 1022.8 561.57 1024.3 561.49 1025.8 561.40 1027.3 561.31 1028.8 561.21 1030.3 561.11 1031.8 561.00 1033.3 560.89 1034.8 560.77 1036.3 560.65 1037.8 560.52 1039.3 560.39 1040.8 560.26 1042.3 560.12 1043.8 559.97 1045.3 559.82 1046.8 559.66 1048.3 559.49 1049.8 559.30 1051.3 559.10 1052.8 558.86 1054.3 558.60 1055.8 558.29 1057.3 557.93 1058.8 557.51 1060.3 557.02 1061.8 556.44 1063.3 555.78 1064.8 555.00 1066.3 554.12 1067.8 553.12 1069.3 551.99 1070.8 550.75 1072.3 549.39 1073.8 547.92 1075.3 546.35 1076.8 544.71 1078.3 543.02 1079.8 541.30 1081.3 539.58 1082.8 537.88 1084.3 536.22 1085.8 534.63 1087.3 533.12 1088.8 531.71 1090.3 530.42 1091.8 529.25 1093.3 528.20 1094.8 527.29 1096.3 526.51 1097.8 525.86 1099.3 525.35 1100.8 524.96 1102.3 524.71 1103.8 524.57 1105.3 524.55 1106.8 524.64 1108.3 524.83 1109.8 525.11 1111.3 525.47 1112.8 525.90 1114.3 526.39 1115.8 526.93 1117.3 527.52 1118.8 528.15 1120.3 528.80 1121.8 529.48 1123.3 530.18 1124.8 530.89 1126.3 531.61 1127.8 532.33 1129.3 533.05 1130.8 533.77 1132.3 534.48 1133.8 535.17 1135.3 535.85 1136.8 536.52 1138.3 537.17 1139.8 537.80 1141.3 538.41 1142.8 538.99 1144.3 539.56 1145.8 540.10 1147.3 540.62 1148.8 541.12 1150.3 541.60 1151.8 542.06 1153.3 542.49 1154.8 542.91 1156.3 543.30 1157.8 543.69 1159.3 544.05 1160.8 544.40 1162.3 544.75 1163.8 545.08 1165.3 545.41 1166.8 545.74 1168.3 546.06 1169.8 546.40 1171.3 546.74 1172.8 547.08 1174.3 547.44 1175.8 547.81 1177.3 548.18 1178.8 548.55 1180.3 548.93 1181.8 549.30 1183.3 549.67 1184.8 550.03 1186.3 550.37 1187.8 550.71 1189.3 551.03 1190.8 551.35 1192.3 551.65 1193.8 551.94 1195.3 552.21 1196.8 552.48 1198.3 552.74 1199.8 552.99 1201.3 553.23 1202.8 553.46 1204.3 553.68 1205.8 553.90 1207.3 554.12 1208.8 554.32 1210.3 554.53 1211.8 554.72 1213.3 554.92 1214.8 555.11 1216.3 555.29 1217.8 555.47 1219.3 555.65 1220.8 555.82 1222.3 555.99 1223.8 556.16 1225.3 556.32 1226.8 556.48 1228.3 556.64 1229.8 556.79 1231.3 556.94 1232.8 557.09 1234.3 557.24 1235.8 557.39 1237.3 557.53 1238.8 557.67 1240.3 557.81 1241.8 557.94 1243.3 558.07 1244.8 558.20 1246.3 558.32 1247.8 558.43 1249.3 558.54 1250.8 558.65 1252.3 558.75 1253.8 558.84 1255.3 558.93 1256.8 559.02 1258.3 559.10 1259.8 559.17 1261.3 559.24 1262.8 559.31 1264.3 559.37 1265.8 559.43 1267.3 559.48 1268.8 559.54 1270.3 559.59 1271.8 559.64 1273.3 559.69 1274.8 559.74 1276.3 559.79 1277.8 559.84 1279.3 559.89 1280.8 559.94 1282.3 559.98 1283.8 560.03 1285.3 560.08 1286.8 560.13 1288.3 560.17 1289.8 560.22 1291.3 560.26 1292.8 560.31 1294.3 560.35 1295.8 560.39 1297.3 560.43 1298.8 560.47 1300.3 560.51 1301.8 560.54 1303.3 560.58 1304.8 560.61 1306.3 560.64 1307.8 560.67 1309.3 560.70 1310.8 560.73 1312.3 560.75 1313.8 560.78 1315.3 560.80 1316.8 560.82 1318.3 560.85 1319.8 560.87 1321.3 560.89 1322.8 560.91 1324.3 560.93 1325.8 560.95 1327.3 560.97 1328.8 560.98 1330.3 561.00 1331.8 561.02 1333.3 561.03 1334.8 561.05 1336.3 561.06 1337.8 561.08 1339.3 561.09 1340.8 561.11 1342.3 561.12 1343.8 561.13 1345.3 561.15 1346.8 561.16 1348.3 561.17 1349.8 561.18 1351.3 561.20 1352.8 561.21 1354.3 561.22 1355.8 561.23 1357.3 561.25 1358.8 561.26 1360.3 561.27 1361.8 561.28 1363.3 561.30 1364.8 561.31 1366.3 561.32 1367.8 561.33 1369.3 561.34 1370.8 561.36 1372.3 561.37 1373.8 561.38 1375.3 561.39 1376.8 561.40 1378.3 561.41 1379.8 561.43 1381.3 561.44 1382.8 561.45 1384.3 561.46 1385.8 561.47 1387.3 561.48 1388.8 561.49 1390.3 561.50 1391.8 561.51 1393.3 561.53 1394.8 561.54 1396.3 561.55 1397.8 561.56 1399.3 561.57 1400.8 561.58 1402.3 561.59 1403.8 561.60 1405.3 561.61 1406.8 561.62 1408.3 561.63 1409.8 561.64 1411.3 561.64 1412.8 561.65 1414.3 561.66 1415.8 561.67 1417.3 561.68 1418.8 561.69 1420.3 561.70 1421.8 561.71 1423.3 561.71 1424.8 561.72 1426.3 561.73 1427.8 561.74 1429.3 561.75 1430.8 561.75 1432.3 561.76 1433.8 561.77 1435.3 561.77 1436.8 561.78 1438.3 561.79 1439.8 561.79 1441.3 561.80 1442.8 561.81 1444.3 561.81 1445.8 561.82 1447.3 561.82 1448.8 561.83 1450.3 561.83 1451.8 561.84 1453.3 561.84 1454.8 561.85 1456.3 561.85 1457.8 561.86 1459.3 561.86 1460.8 561.87 1462.3 561.87 1463.8 561.87 1465.3 561.88 1466.8 561.88 1468.3 561.88 1469.8 561.88 1471.3 561.89 1472.8 561.89 1474.3 561.89 1475.8 561.89 1477.3 561.89 1478.8 561.90 1480.3 561.90 1481.8 561.90 1483.3 561.90 1484.8 561.90 1486.3 561.90 1487.3 561.90" fill="none" stroke="#0aa5e6" stroke-width="3.4" stroke-linejoin="round" stroke-linecap="butt"/>
<path d="M887.8 640.70 L889.3 640.70 890.8 640.70 892.3 640.70 893.8 640.70 895.3 640.70 896.8 640.70 898.3 640.70 899.8 640.70 901.3 640.70 902.8 640.69 904.3 640.69 905.8 640.69 907.3 640.69 908.8 640.69 910.3 640.69 911.8 640.69 913.3 640.69 914.8 640.68 916.3 640.68 917.8 640.68 919.3 640.68 920.8 640.68 922.3 640.68 923.8 640.67 925.3 640.67 926.8 640.67 928.3 640.67 929.8 640.66 931.3 640.66 932.8 640.66 934.3 640.66 935.8 640.65 937.3 640.65 938.8 640.65 940.3 640.65 941.8 640.64 943.3 640.64 944.8 640.64 946.3 640.63 947.8 640.63 949.3 640.63 950.8 640.62 952.3 640.62 953.8 640.62 955.3 640.61 956.8 640.61 958.3 640.60 959.8 640.60 961.3 640.59 962.8 640.59 964.3 640.58 965.8 640.57 967.3 640.56 968.8 640.55 970.3 640.54 971.8 640.53 973.3 640.52 974.8 640.50 976.3 640.49 977.8 640.48 979.3 640.46 980.8 640.45 982.3 640.43 983.8 640.42 985.3 640.40 986.8 640.39 988.3 640.37 989.8 640.36 991.3 640.35 992.8 640.33 994.3 640.32 995.8 640.31 997.3 640.29 998.8 640.28 1000.3 640.27 1001.8 640.26 1003.3 640.25 1004.8 640.24 1006.3 640.22 1007.8 640.21 1009.3 640.20 1010.8 640.19 1012.3 640.18 1013.8 640.17 1015.3 640.16 1016.8 640.15 1018.3 640.14 1019.8 640.13 1021.3 640.11 1022.8 640.10 1024.3 640.09 1025.8 640.07 1027.3 640.06 1028.8 640.04 1030.3 640.02 1031.8 640.00 1033.3 639.98 1034.8 639.96 1036.3 639.93 1037.8 639.90 1039.3 639.88 1040.8 639.84 1042.3 639.81 1043.8 639.78 1045.3 639.74 1046.8 639.70 1048.3 639.66 1049.8 639.61 1051.3 639.57 1052.8 639.52 1054.3 639.46 1055.8 639.41 1057.3 639.35 1058.8 639.28 1060.3 639.22 1061.8 639.15 1063.3 639.07 1064.8 638.99 1066.3 638.91 1067.8 638.83 1069.3 638.74 1070.8 638.64 1072.3 638.55 1073.8 638.45 1075.3 638.34 1076.8 638.23 1078.3 638.12 1079.8 638.00 1081.3 637.87 1082.8 637.74 1084.3 637.59 1085.8 637.44 1087.3 637.27 1088.8 637.08 1090.3 636.87 1091.8 636.63 1093.3 636.36 1094.8 636.06 1096.3 635.71 1097.8 635.31 1099.3 634.85 1100.8 634.32 1102.3 633.72 1103.8 633.04 1105.3 632.27 1106.8 631.41 1108.3 630.46 1109.8 629.42 1111.3 628.30 1112.8 627.09 1114.3 625.81 1115.8 624.47 1117.3 623.07 1118.8 621.63 1120.3 620.15 1121.8 618.64 1123.3 617.13 1124.8 615.62 1126.3 614.12 1127.8 612.66 1129.3 611.24 1130.8 609.88 1132.3 608.60 1133.8 607.40 1135.3 606.31 1136.8 605.32 1138.3 604.45 1139.8 603.69 1141.3 603.06 1142.8 602.53 1144.3 602.13 1145.8 601.83 1147.3 601.64 1148.8 601.55 1150.3 601.56 1151.8 601.65 1153.3 601.81 1154.8 602.06 1156.3 602.36 1157.8 602.72 1159.3 603.14 1160.8 603.60 1162.3 604.11 1163.8 604.65 1165.3 605.23 1166.8 605.84 1168.3 606.47 1169.8 607.12 1171.3 607.78 1172.8 608.46 1174.3 609.14 1175.8 609.82 1177.3 610.51 1178.8 611.19 1180.3 611.87 1181.8 612.54 1183.3 613.21 1184.8 613.86 1186.3 614.51 1187.8 615.14 1189.3 615.76 1190.8 616.37 1192.3 616.97 1193.8 617.56 1195.3 618.14 1196.8 618.70 1198.3 619.26 1199.8 619.80 1201.3 620.34 1202.8 620.86 1204.3 621.37 1205.8 621.87 1207.3 622.37 1208.8 622.85 1210.3 623.32 1211.8 623.78 1213.3 624.24 1214.8 624.68 1216.3 625.11 1217.8 625.54 1219.3 625.96 1220.8 626.37 1222.3 626.77 1223.8 627.17 1225.3 627.56 1226.8 627.95 1228.3 628.33 1229.8 628.71 1231.3 629.09 1232.8 629.46 1234.3 629.83 1235.8 630.20 1237.3 630.56 1238.8 630.92 1240.3 631.27 1241.8 631.61 1243.3 631.94 1244.8 632.26 1246.3 632.57 1247.8 632.87 1249.3 633.16 1250.8 633.45 1252.3 633.72 1253.8 633.99 1255.3 634.25 1256.8 634.50 1258.3 634.75 1259.8 634.99 1261.3 635.22 1262.8 635.44 1264.3 635.65 1265.8 635.85 1267.3 636.03 1268.8 636.21 1270.3 636.37 1271.8 636.51 1273.3 636.65 1274.8 636.77 1276.3 636.89 1277.8 636.99 1279.3 637.08 1280.8 637.17 1282.3 637.24 1283.8 637.31 1285.3 637.37 1286.8 637.43 1288.3 637.47 1289.8 637.52 1291.3 637.56 1292.8 637.60 1294.3 637.63 1295.8 637.66 1297.3 637.69 1298.8 637.72 1300.3 637.74 1301.8 637.77 1303.3 637.80 1304.8 637.82 1306.3 637.85 1307.8 637.87 1309.3 637.90 1310.8 637.92 1312.3 637.95 1313.8 637.97 1315.3 638.00 1316.8 638.03 1318.3 638.05 1319.8 638.08 1321.3 638.11 1322.8 638.13 1324.3 638.16 1325.8 638.19 1327.3 638.21 1328.8 638.24 1330.3 638.27 1331.8 638.29 1333.3 638.32 1334.8 638.35 1336.3 638.37 1337.8 638.40 1339.3 638.43 1340.8 638.45 1342.3 638.48 1343.8 638.50 1345.3 638.53 1346.8 638.55 1348.3 638.58 1349.8 638.60 1351.3 638.63 1352.8 638.65 1354.3 638.68 1355.8 638.70 1357.3 638.72 1358.8 638.75 1360.3 638.77 1361.8 638.79 1363.3 638.82 1364.8 638.84 1366.3 638.86 1367.8 638.89 1369.3 638.91 1370.8 638.93 1372.3 638.95 1373.8 638.97 1375.3 638.99 1376.8 639.01 1378.3 639.04 1379.8 639.06 1381.3 639.08 1382.8 639.10 1384.3 639.11 1385.8 639.13 1387.3 639.15 1388.8 639.17 1390.3 639.19 1391.8 639.21 1393.3 639.22 1394.8 639.24 1396.3 639.26 1397.8 639.28 1399.3 639.29 1400.8 639.31 1402.3 639.33 1403.8 639.34 1405.3 639.36 1406.8 639.37 1408.3 639.39 1409.8 639.41 1411.3 639.42 1412.8 639.44 1414.3 639.46 1415.8 639.47 1417.3 639.49 1418.8 639.51 1420.3 639.52 1421.8 639.54 1423.3 639.56 1424.8 639.57 1426.3 639.59 1427.8 639.60 1429.3 639.62 1430.8 639.64 1432.3 639.65 1433.8 639.67 1435.3 639.68 1436.8 639.70 1438.3 639.71 1439.8 639.73 1441.3 639.74 1442.8 639.76 1444.3 639.77 1445.8 639.79 1447.3 639.80 1448.8 639.81 1450.3 639.83 1451.8 639.84 1453.3 639.85 1454.8 639.86 1456.3 639.87 1457.8 639.89 1459.3 639.90 1460.8 639.91 1462.3 639.92 1463.8 639.92 1465.3 639.93 1466.8 639.94 1468.3 639.95 1469.8 639.96 1471.3 639.96 1472.8 639.97 1474.3 639.97 1475.8 639.98 1477.3 639.98 1478.8 639.99 1480.3 639.99 1481.8 640.00 1483.3 640.00 1484.8 640.00 1486.3 640.00 1487.3 640.01" fill="none" stroke="#000000" stroke-width="3.4" stroke-linejoin="round" stroke-linecap="butt"/>
<path d="M887.8 640.71 L889.3 640.70 890.8 640.68 892.3 640.67 893.8 640.66 895.3 640.64 896.8 640.63 898.3 640.61 899.8 640.59 901.3 640.58 902.8 640.56 904.3 640.54 905.8 640.52 907.3 640.50 908.8 640.48 910.3 640.46 911.8 640.43 913.3 640.41 914.8 640.39 916.3 640.36 917.8 640.34 919.3 640.31 920.8 640.28 922.3 640.25 923.8 640.22 925.3 640.20 926.8 640.17 928.3 640.13 929.8 640.10 931.3 640.07 932.8 640.04 934.3 640.01 935.8 639.97 937.3 639.94 938.8 639.91 940.3 639.87 941.8 639.84 943.3 639.80 944.8 639.77 946.3 639.73 947.8 639.70 949.3 639.66 950.8 639.63 952.3 639.59 953.8 639.56 955.3 639.53 956.8 639.49 958.3 639.46 959.8 639.43 961.3 639.41 962.8 639.38 964.3 639.35 965.8 639.33 967.3 639.30 968.8 639.27 970.3 639.24 971.8 639.20 973.3 639.15 974.8 639.10 976.3 639.03 977.8 638.95 979.3 638.84 980.8 638.71 982.3 638.54 983.8 638.34 985.3 638.09 986.8 637.80 988.3 637.44 989.8 637.01 991.3 636.51 992.8 635.92 994.3 635.24 995.8 634.46 997.3 633.57 998.8 632.57 1000.3 631.46 1001.8 630.25 1003.3 628.93 1004.8 627.51 1006.3 626.01 1007.8 624.45 1009.3 622.82 1010.8 621.16 1012.3 619.47 1013.8 617.77 1015.3 616.09 1016.8 614.43 1018.3 612.81 1019.8 611.26 1021.3 609.78 1022.8 608.41 1024.3 607.14 1025.8 606.00 1027.3 604.99 1028.8 604.13 1030.3 603.41 1031.8 602.85 1033.3 602.43 1034.8 602.17 1036.3 602.05 1037.8 602.08 1039.3 602.23 1040.8 602.52 1042.3 602.92 1043.8 603.42 1045.3 604.03 1046.8 604.72 1048.3 605.49 1049.8 606.34 1051.3 607.25 1052.8 608.22 1054.3 609.24 1055.8 610.29 1057.3 611.38 1058.8 612.49 1060.3 613.61 1061.8 614.75 1063.3 615.88 1064.8 617.02 1066.3 618.14 1067.8 619.25 1069.3 620.34 1070.8 621.41 1072.3 622.45 1073.8 623.46 1075.3 624.43 1076.8 625.38 1078.3 626.28 1079.8 627.15 1081.3 627.98 1082.8 628.76 1084.3 629.51 1085.8 630.22 1087.3 630.88 1088.8 631.50 1090.3 632.09 1091.8 632.63 1093.3 633.14 1094.8 633.61 1096.3 634.04 1097.8 634.45 1099.3 634.82 1100.8 635.16 1102.3 635.48 1103.8 635.77 1105.3 636.04 1106.8 636.28 1108.3 636.51 1109.8 636.72 1111.3 636.90 1112.8 637.08 1114.3 637.23 1115.8 637.37 1117.3 637.50 1118.8 637.62 1120.3 637.73 1121.8 637.83 1123.3 637.92 1124.8 638.01 1126.3 638.09 1127.8 638.16 1129.3 638.23 1130.8 638.29 1132.3 638.35 1133.8 638.41 1135.3 638.46 1136.8 638.51 1138.3 638.55 1139.8 638.60 1141.3 638.64 1142.8 638.68 1144.3 638.71 1145.8 638.75 1147.3 638.78 1148.8 638.81 1150.3 638.84 1151.8 638.87 1153.3 638.90 1154.8 638.93 1156.3 638.96 1157.8 638.99 1159.3 639.01 1160.8 639.04 1162.3 639.06 1163.8 639.08 1165.3 639.11 1166.8 639.13 1168.3 639.15 1169.8 639.17 1171.3 639.19 1172.8 639.21 1174.3 639.23 1175.8 639.25 1177.3 639.27 1178.8 639.28 1180.3 639.30 1181.8 639.32 1183.3 639.33 1184.8 639.35 1186.3 639.36 1187.8 639.38 1189.3 639.39 1190.8 639.41 1192.3 639.42 1193.8 639.43 1195.3 639.45 1196.8 639.46 1198.3 639.47 1199.8 639.48 1201.3 639.49 1202.8 639.50 1204.3 639.52 1205.8 639.53 1207.3 639.54 1208.8 639.55 1210.3 639.55 1211.8 639.56 1213.3 639.57 1214.8 639.58 1216.3 639.59 1217.8 639.60 1219.3 639.61 1220.8 639.62 1222.3 639.62 1223.8 639.63 1225.3 639.64 1226.8 639.65 1228.3 639.66 1229.8 639.67 1231.3 639.67 1232.8 639.68 1234.3 639.69 1235.8 639.70 1237.3 639.71 1238.8 639.72 1240.3 639.73 1241.8 639.74 1243.3 639.75 1244.8 639.76 1246.3 639.77 1247.8 639.78 1249.3 639.80 1250.8 639.81 1252.3 639.82 1253.8 639.84 1255.3 639.85 1256.8 639.87 1258.3 639.88 1259.8 639.90 1261.3 639.92 1262.8 639.93 1264.3 639.95 1265.8 639.97 1267.3 639.99 1268.8 640.01 1270.3 640.03 1271.8 640.05 1273.3 640.07 1274.8 640.09 1276.3 640.11 1277.8 640.13 1279.3 640.15 1280.8 640.17 1282.3 640.19 1283.8 640.21 1285.3 640.23 1286.8 640.24 1288.3 640.26 1289.8 640.28 1291.3 640.29 1292.8 640.31 1294.3 640.32 1295.8 640.33 1297.3 640.34 1298.8 640.35 1300.3 640.36 1301.8 640.37 1303.3 640.38 1304.8 640.39 1306.3 640.39 1307.8 640.39 1309.3 640.40 1310.8 640.40 1312.3 640.40 1313.8 640.40 1315.3 640.40 1316.8 640.40 1318.3 640.40 1319.8 640.40 1321.3 640.40 1322.8 640.40 1324.3 640.40 1325.8 640.40 1327.3 640.40 1328.8 640.40 1330.3 640.40 1331.8 640.40 1333.3 640.40 1334.8 640.40 1336.3 640.40 1337.8 640.40 1339.3 640.40 1340.8 640.40 1342.3 640.40 1343.8 640.40 1345.3 640.40 1346.8 640.40 1348.3 640.40 1349.8 640.40 1351.3 640.40 1352.8 640.40 1354.3 640.40 1355.8 640.40 1357.3 640.40 1358.8 640.40 1360.3 640.40 1361.8 640.40 1363.3 640.40 1364.8 640.40 1366.3 640.40 1367.8 640.40 1369.3 640.40 1370.8 640.40 1372.3 640.40 1373.8 640.40 1375.3 640.40 1376.8 640.40 1378.3 640.40 1379.8 640.40 1381.3 640.40 1382.8 640.40 1384.3 640.40 1385.8 640.40 1387.3 640.40 1388.8 640.40 1390.3 640.40 1391.8 640.40 1393.3 640.40 1394.8 640.40 1396.3 640.40 1397.8 640.40 1399.3 640.40 1400.8 640.40 1402.3 640.40 1403.8 640.40 1405.3 640.40 1406.8 640.40 1408.3 640.40 1409.8 640.40 1411.3 640.40 1412.8 640.40 1414.3 640.40 1415.8 640.40 1417.3 640.40 1418.8 640.40 1420.3 640.40 1421.8 640.40 1423.3 640.40 1424.8 640.40 1426.3 640.40 1427.8 640.40 1429.3 640.40 1430.8 640.40 1432.3 640.40 1433.8 640.40 1435.3 640.40 1436.8 640.40 1438.3 640.40 1439.8 640.40 1441.3 640.40 1442.8 640.40 1444.3 640.40 1445.8 640.40 1447.3 640.40 1448.8 640.40 1450.3 640.40 1451.8 640.40 1453.3 640.40 1454.8 640.40 1456.3 640.40 1457.8 640.40 1459.3 640.40 1460.8 640.40 1462.3 640.40 1463.8 640.40 1465.3 640.40 1466.8 640.40 1468.3 640.40 1469.8 640.40 1471.3 640.40 1472.8 640.40 1474.3 640.40 1475.8 640.40 1477.3 640.40 1478.8 640.40 1480.3 640.40 1481.8 640.40 1483.3 640.40 1484.8 640.40 1486.3 640.40 1487.3 640.40" fill="none" stroke="#0aa5e6" stroke-width="3.4" stroke-linejoin="round" stroke-linecap="butt"/>
<path d="M887.8 718.40 L889.3 718.40 890.8 718.40 892.3 718.40 893.8 718.40 895.3 718.40 896.8 718.40 898.3 718.40 899.8 718.40 901.3 718.40 902.8 718.40 904.3 718.40 905.8 718.40 907.3 718.40 908.8 718.40 910.3 718.40 911.8 718.40 913.3 718.40 914.8 718.40 916.3 718.39 917.8 718.39 919.3 718.39 920.8 718.39 922.3 718.39 923.8 718.39 925.3 718.39 926.8 718.39 928.3 718.39 929.8 718.39 931.3 718.39 932.8 718.39 934.3 718.38 935.8 718.38 937.3 718.38 938.8 718.38 940.3 718.38 941.8 718.38 943.3 718.38 944.8 718.38 946.3 718.38 947.8 718.37 949.3 718.37 950.8 718.37 952.3 718.37 953.8 718.37 955.3 718.37 956.8 718.37 958.3 718.36 959.8 718.36 961.3 718.36 962.8 718.36 964.3 718.36 965.8 718.35 967.3 718.35 968.8 718.35 970.3 718.35 971.8 718.35 973.3 718.35 974.8 718.34 976.3 718.34 977.8 718.34 979.3 718.34 980.8 718.33 982.3 718.33 983.8 718.33 985.3 718.33 986.8 718.33 988.3 718.32 989.8 718.32 991.3 718.32 992.8 718.31 994.3 718.31 995.8 718.31 997.3 718.30 998.8 718.30 1000.3 718.29 1001.8 718.29 1003.3 718.28 1004.8 718.28 1006.3 718.27 1007.8 718.26 1009.3 718.25 1010.8 718.25 1012.3 718.24 1013.8 718.23 1015.3 718.22 1016.8 718.22 1018.3 718.21 1019.8 718.20 1021.3 718.20 1022.8 718.19 1024.3 718.18 1025.8 718.17 1027.3 718.16 1028.8 718.15 1030.3 718.12 1031.8 718.08 1033.3 718.03 1034.8 717.96 1036.3 717.87 1037.8 717.74 1039.3 717.58 1040.8 717.38 1042.3 717.12 1043.8 716.81 1045.3 716.43 1046.8 715.99 1048.3 715.46 1049.8 714.84 1051.3 714.12 1052.8 713.29 1054.3 712.36 1055.8 711.30 1057.3 710.13 1058.8 708.83 1060.3 707.42 1061.8 705.90 1063.3 704.29 1064.8 702.60 1066.3 700.85 1067.8 699.05 1069.3 697.24 1070.8 695.43 1072.3 693.64 1073.8 691.90 1075.3 690.23 1076.8 688.64 1078.3 687.15 1079.8 685.77 1081.3 684.52 1082.8 683.40 1084.3 682.41 1085.8 681.56 1087.3 680.85 1088.8 680.28 1090.3 679.85 1091.8 679.55 1093.3 679.37 1094.8 679.32 1096.3 679.37 1097.8 679.54 1099.3 679.80 1100.8 680.15 1102.3 680.57 1103.8 681.06 1105.3 681.60 1106.8 682.19 1108.3 682.82 1109.8 683.49 1111.3 684.18 1112.8 684.89 1114.3 685.62 1115.8 686.36 1117.3 687.12 1118.8 687.88 1120.3 688.64 1121.8 689.40 1123.3 690.17 1124.8 690.93 1126.3 691.68 1127.8 692.43 1129.3 693.17 1130.8 693.90 1132.3 694.62 1133.8 695.32 1135.3 696.01 1136.8 696.69 1138.3 697.34 1139.8 697.98 1141.3 698.60 1142.8 699.20 1144.3 699.79 1145.8 700.35 1147.3 700.89 1148.8 701.41 1150.3 701.91 1151.8 702.39 1153.3 702.85 1154.8 703.29 1156.3 703.71 1157.8 704.11 1159.3 704.49 1160.8 704.86 1162.3 705.21 1163.8 705.54 1165.3 705.86 1166.8 706.17 1168.3 706.47 1169.8 706.77 1171.3 707.05 1172.8 707.34 1174.3 707.62 1175.8 707.90 1177.3 708.18 1178.8 708.46 1180.3 708.75 1181.8 709.03 1183.3 709.30 1184.8 709.58 1186.3 709.84 1187.8 710.11 1189.3 710.36 1190.8 710.60 1192.3 710.84 1193.8 711.07 1195.3 711.29 1196.8 711.50 1198.3 711.70 1199.8 711.89 1201.3 712.07 1202.8 712.25 1204.3 712.42 1205.8 712.57 1207.3 712.73 1208.8 712.87 1210.3 713.01 1211.8 713.14 1213.3 713.27 1214.8 713.39 1216.3 713.51 1217.8 713.62 1219.3 713.73 1220.8 713.83 1222.3 713.93 1223.8 714.03 1225.3 714.13 1226.8 714.22 1228.3 714.31 1229.8 714.39 1231.3 714.48 1232.8 714.56 1234.3 714.64 1235.8 714.71 1237.3 714.79 1238.8 714.86 1240.3 714.93 1241.8 715.00 1243.3 715.07 1244.8 715.14 1246.3 715.20 1247.8 715.27 1249.3 715.33 1250.8 715.39 1252.3 715.45 1253.8 715.50 1255.3 715.56 1256.8 715.61 1258.3 715.66 1259.8 715.71 1261.3 715.76 1262.8 715.80 1264.3 715.85 1265.8 715.89 1267.3 715.93 1268.8 715.98 1270.3 716.02 1271.8 716.05 1273.3 716.09 1274.8 716.13 1276.3 716.17 1277.8 716.20 1279.3 716.23 1280.8 716.27 1282.3 716.30 1283.8 716.33 1285.3 716.36 1286.8 716.39 1288.3 716.42 1289.8 716.44 1291.3 716.47 1292.8 716.49 1294.3 716.51 1295.8 716.53 1297.3 716.55 1298.8 716.57 1300.3 716.58 1301.8 716.59 1303.3 716.61 1304.8 716.62 1306.3 716.63 1307.8 716.64 1309.3 716.65 1310.8 716.66 1312.3 716.66 1313.8 716.67 1315.3 716.68 1316.8 716.68 1318.3 716.69 1319.8 716.69 1321.3 716.70 1322.8 716.70 1324.3 716.71 1325.8 716.71 1327.3 716.72 1328.8 716.72 1330.3 716.73 1331.8 716.73 1333.3 716.74 1334.8 716.74 1336.3 716.75 1337.8 716.75 1339.3 716.76 1340.8 716.76 1342.3 716.77 1343.8 716.77 1345.3 716.78 1346.8 716.79 1348.3 716.79 1349.8 716.80 1351.3 716.81 1352.8 716.81 1354.3 716.82 1355.8 716.83 1357.3 716.84 1358.8 716.85 1360.3 716.85 1361.8 716.86 1363.3 716.87 1364.8 716.88 1366.3 716.89 1367.8 716.90 1369.3 716.91 1370.8 716.92 1372.3 716.93 1373.8 716.94 1375.3 716.95 1376.8 716.96 1378.3 716.97 1379.8 716.98 1381.3 716.99 1382.8 717.01 1384.3 717.02 1385.8 717.03 1387.3 717.04 1388.8 717.05 1390.3 717.06 1391.8 717.07 1393.3 717.09 1394.8 717.10 1396.3 717.11 1397.8 717.12 1399.3 717.13 1400.8 717.14 1402.3 717.16 1403.8 717.17 1405.3 717.18 1406.8 717.19 1408.3 717.20 1409.8 717.21 1411.3 717.23 1412.8 717.24 1414.3 717.25 1415.8 717.26 1417.3 717.27 1418.8 717.28 1420.3 717.29 1421.8 717.31 1423.3 717.32 1424.8 717.33 1426.3 717.34 1427.8 717.35 1429.3 717.36 1430.8 717.37 1432.3 717.38 1433.8 717.39 1435.3 717.40 1436.8 717.41 1438.3 717.42 1439.8 717.43 1441.3 717.44 1442.8 717.45 1444.3 717.46 1445.8 717.47 1447.3 717.48 1448.8 717.48 1450.3 717.49 1451.8 717.50 1453.3 717.51 1454.8 717.52 1456.3 717.52 1457.8 717.53 1459.3 717.54 1460.8 717.54 1462.3 717.55 1463.8 717.55 1465.3 717.56 1466.8 717.56 1468.3 717.57 1469.8 717.57 1471.3 717.58 1472.8 717.58 1474.3 717.58 1475.8 717.59 1477.3 717.59 1478.8 717.59 1480.3 717.59 1481.8 717.60 1483.3 717.60 1484.8 717.60 1486.3 717.60 1487.3 717.60" fill="none" stroke="#000000" stroke-width="3.4" stroke-linejoin="round" stroke-linecap="butt"/>
<path d="M887.8 718.40 L889.3 718.40 890.8 718.40 892.3 718.40 893.8 718.40 895.3 718.40 896.8 718.40 898.3 718.39 899.8 718.39 901.3 718.39 902.8 718.39 904.3 718.39 905.8 718.39 907.3 718.38 908.8 718.38 910.3 718.38 911.8 718.38 913.3 718.37 914.8 718.37 916.3 718.36 917.8 718.36 919.3 718.36 920.8 718.35 922.3 718.35 923.8 718.34 925.3 718.34 926.8 718.33 928.3 718.33 929.8 718.32 931.3 718.32 932.8 718.31 934.3 718.30 935.8 718.30 937.3 718.29 938.8 718.28 940.3 718.28 941.8 718.27 943.3 718.26 944.8 718.25 946.3 718.25 947.8 718.24 949.3 718.23 950.8 718.22 952.3 718.21 953.8 718.20 955.3 718.19 956.8 718.18 958.3 718.17 959.8 718.16 961.3 718.15 962.8 718.14 964.3 718.13 965.8 718.12 967.3 718.11 968.8 718.10 970.3 718.09 971.8 718.07 973.3 718.06 974.8 718.05 976.3 718.04 977.8 718.03 979.3 718.01 980.8 718.00 982.3 717.99 983.8 717.97 985.3 717.96 986.8 717.95 988.3 717.93 989.8 717.92 991.3 717.90 992.8 717.88 994.3 717.87 995.8 717.85 997.3 717.83 998.8 717.81 1000.3 717.79 1001.8 717.76 1003.3 717.73 1004.8 717.70 1006.3 717.67 1007.8 717.64 1009.3 717.60 1010.8 717.56 1012.3 717.52 1013.8 717.48 1015.3 717.43 1016.8 717.38 1018.3 717.32 1019.8 717.26 1021.3 717.18 1022.8 717.09 1024.3 716.98 1025.8 716.85 1027.3 716.70 1028.8 716.50 1030.3 716.26 1031.8 715.97 1033.3 715.62 1034.8 715.20 1036.3 714.70 1037.8 714.11 1039.3 713.42 1040.8 712.63 1042.3 711.72 1043.8 710.71 1045.3 709.58 1046.8 708.34 1048.3 707.00 1049.8 705.56 1051.3 704.04 1052.8 702.46 1054.3 700.82 1055.8 699.16 1057.3 697.48 1058.8 695.81 1060.3 694.15 1061.8 692.54 1063.3 690.98 1064.8 689.48 1066.3 688.06 1067.8 686.73 1069.3 685.50 1070.8 684.37 1072.3 683.36 1073.8 682.46 1075.3 681.68 1076.8 681.02 1078.3 680.48 1079.8 680.07 1081.3 679.76 1082.8 679.57 1084.3 679.49 1085.8 679.50 1087.3 679.60 1088.8 679.79 1090.3 680.06 1091.8 680.40 1093.3 680.80 1094.8 681.27 1096.3 681.79 1097.8 682.36 1099.3 682.96 1100.8 683.59 1102.3 684.25 1103.8 684.93 1105.3 685.62 1106.8 686.32 1108.3 687.02 1109.8 687.73 1111.3 688.44 1112.8 689.15 1114.3 689.86 1115.8 690.56 1117.3 691.26 1118.8 691.95 1120.3 692.63 1121.8 693.31 1123.3 693.98 1124.8 694.64 1126.3 695.29 1127.8 695.93 1129.3 696.56 1130.8 697.17 1132.3 697.77 1133.8 698.35 1135.3 698.91 1136.8 699.46 1138.3 699.99 1139.8 700.50 1141.3 701.00 1142.8 701.48 1144.3 701.94 1145.8 702.39 1147.3 702.83 1148.8 703.25 1150.3 703.67 1151.8 704.07 1153.3 704.46 1154.8 704.85 1156.3 705.22 1157.8 705.60 1159.3 705.96 1160.8 706.32 1162.3 706.68 1163.8 707.03 1165.3 707.38 1166.8 707.73 1168.3 708.07 1169.8 708.41 1171.3 708.74 1172.8 709.07 1174.3 709.39 1175.8 709.71 1177.3 710.02 1178.8 710.33 1180.3 710.62 1181.8 710.90 1183.3 711.17 1184.8 711.43 1186.3 711.67 1187.8 711.90 1189.3 712.11 1190.8 712.31 1192.3 712.50 1193.8 712.68 1195.3 712.85 1196.8 713.01 1198.3 713.16 1199.8 713.30 1201.3 713.43 1202.8 713.57 1204.3 713.69 1205.8 713.81 1207.3 713.93 1208.8 714.05 1210.3 714.16 1211.8 714.27 1213.3 714.37 1214.8 714.48 1216.3 714.58 1217.8 714.68 1219.3 714.78 1220.8 714.87 1222.3 714.96 1223.8 715.05 1225.3 715.14 1226.8 715.23 1228.3 715.31 1229.8 715.39 1231.3 715.47 1232.8 715.54 1234.3 715.62 1235.8 715.69 1237.3 715.76 1238.8 715.83 1240.3 715.90 1241.8 715.96 1243.3 716.03 1244.8 716.09 1246.3 716.15 1247.8 716.21 1249.3 716.27 1250.8 716.33 1252.3 716.38 1253.8 716.43 1255.3 716.49 1256.8 716.53 1258.3 716.58 1259.8 716.63 1261.3 716.67 1262.8 716.71 1264.3 716.75 1265.8 716.79 1267.3 716.83 1268.8 716.86 1270.3 716.90 1271.8 716.93 1273.3 716.96 1274.8 716.99 1276.3 717.02 1277.8 717.05 1279.3 717.07 1280.8 717.10 1282.3 717.13 1283.8 717.15 1285.3 717.17 1286.8 717.20 1288.3 717.22 1289.8 717.24 1291.3 717.26 1292.8 717.28 1294.3 717.30 1295.8 717.32 1297.3 717.34 1298.8 717.36 1300.3 717.38 1301.8 717.40 1303.3 717.41 1304.8 717.43 1306.3 717.45 1307.8 717.46 1309.3 717.48 1310.8 717.50 1312.3 717.51 1313.8 717.53 1315.3 717.54 1316.8 717.56 1318.3 717.57 1319.8 717.58 1321.3 717.60 1322.8 717.61 1324.3 717.62 1325.8 717.64 1327.3 717.65 1328.8 717.66 1330.3 717.67 1331.8 717.69 1333.3 717.70 1334.8 717.71 1336.3 717.72 1337.8 717.73 1339.3 717.74 1340.8 717.75 1342.3 717.76 1343.8 717.77 1345.3 717.77 1346.8 717.78 1348.3 717.79 1349.8 717.80 1351.3 717.81 1352.8 717.81 1354.3 717.82 1355.8 717.83 1357.3 717.83 1358.8 717.84 1360.3 717.85 1361.8 717.86 1363.3 717.86 1364.8 717.87 1366.3 717.88 1367.8 717.88 1369.3 717.89 1370.8 717.90 1372.3 717.90 1373.8 717.91 1375.3 717.91 1376.8 717.92 1378.3 717.93 1379.8 717.93 1381.3 717.94 1382.8 717.95 1384.3 717.95 1385.8 717.96 1387.3 717.97 1388.8 717.97 1390.3 717.98 1391.8 717.98 1393.3 717.99 1394.8 718.00 1396.3 718.00 1397.8 718.01 1399.3 718.01 1400.8 718.02 1402.3 718.02 1403.8 718.03 1405.3 718.04 1406.8 718.04 1408.3 718.05 1409.8 718.05 1411.3 718.06 1412.8 718.06 1414.3 718.07 1415.8 718.07 1417.3 718.08 1418.8 718.08 1420.3 718.09 1421.8 718.09 1423.3 718.10 1424.8 718.10 1426.3 718.10 1427.8 718.11 1429.3 718.11 1430.8 718.12 1432.3 718.12 1433.8 718.13 1435.3 718.13 1436.8 718.13 1438.3 718.14 1439.8 718.14 1441.3 718.14 1442.8 718.15 1444.3 718.15 1445.8 718.15 1447.3 718.16 1448.8 718.16 1450.3 718.16 1451.8 718.17 1453.3 718.17 1454.8 718.17 1456.3 718.17 1457.8 718.18 1459.3 718.18 1460.8 718.18 1462.3 718.18 1463.8 718.18 1465.3 718.19 1466.8 718.19 1468.3 718.19 1469.8 718.19 1471.3 718.19 1472.8 718.19 1474.3 718.19 1475.8 718.20 1477.3 718.20 1478.8 718.20 1480.3 718.20 1481.8 718.20 1483.3 718.20 1484.8 718.20 1486.3 718.20 1487.3 718.20" fill="none" stroke="#0aa5e6" stroke-width="3.4" stroke-linejoin="round" stroke-linecap="butt"/>
<path d="M887.8 796.00 L889.3 796.00 890.8 796.00 892.3 796.00 893.8 796.00 895.3 796.00 896.8 796.00 898.3 796.00 899.8 796.00 901.3 796.00 902.8 796.00 904.3 796.00 905.8 796.00 907.3 796.00 908.8 796.00 910.3 796.00 911.8 796.00 913.3 796.00 914.8 796.00 916.3 796.00 917.8 796.00 919.3 796.00 920.8 796.00 922.3 796.00 923.8 796.00 925.3 796.00 926.8 796.00 928.3 796.00 929.8 796.00 931.3 796.00 932.8 796.00 934.3 796.00 935.8 796.00 937.3 796.00 938.8 796.00 940.3 796.00 941.8 796.00 943.3 796.00 944.8 796.00 946.3 796.00 947.8 796.00 949.3 796.00 950.8 796.00 952.3 796.00 953.8 796.00 955.3 796.00 956.8 796.00 958.3 796.00 959.8 796.00 961.3 796.01 962.8 796.02 964.3 796.02 965.8 796.03 967.3 796.04 968.8 796.06 970.3 796.07 971.8 796.08 973.3 796.10 974.8 796.12 976.3 796.13 977.8 796.15 979.3 796.17 980.8 796.19 982.3 796.21 983.8 796.22 985.3 796.24 986.8 796.25 988.3 796.27 989.8 796.28 991.3 796.28 992.8 796.29 994.3 796.29 995.8 796.28 997.3 796.28 998.8 796.26 1000.3 796.25 1001.8 796.22 1003.3 796.19 1004.8 796.16 1006.3 796.12 1007.8 796.08 1009.3 796.03 1010.8 795.98 1012.3 795.93 1013.8 795.87 1015.3 795.81 1016.8 795.75 1018.3 795.69 1019.8 795.62 1021.3 795.56 1022.8 795.50 1024.3 795.43 1025.8 795.37 1027.3 795.30 1028.8 795.24 1030.3 795.18 1031.8 795.12 1033.3 795.07 1034.8 795.01 1036.3 794.95 1037.8 794.90 1039.3 794.85 1040.8 794.79 1042.3 794.74 1043.8 794.69 1045.3 794.63 1046.8 794.58 1048.3 794.53 1049.8 794.47 1051.3 794.41 1052.8 794.36 1054.3 794.30 1055.8 794.23 1057.3 794.17 1058.8 794.10 1060.3 794.03 1061.8 793.96 1063.3 793.88 1064.8 793.80 1066.3 793.71 1067.8 793.62 1069.3 793.52 1070.8 793.42 1072.3 793.30 1073.8 793.19 1075.3 793.06 1076.8 792.93 1078.3 792.78 1079.8 792.63 1081.3 792.47 1082.8 792.29 1084.3 792.11 1085.8 791.91 1087.3 791.69 1088.8 791.46 1090.3 791.20 1091.8 790.92 1093.3 790.61 1094.8 790.28 1096.3 789.91 1097.8 789.51 1099.3 789.06 1100.8 788.57 1102.3 788.03 1103.8 787.44 1105.3 786.79 1106.8 786.08 1108.3 785.31 1109.8 784.47 1111.3 783.57 1112.8 782.59 1114.3 781.55 1115.8 780.45 1117.3 779.29 1118.8 778.07 1120.3 776.81 1121.8 775.52 1123.3 774.19 1124.8 772.85 1126.3 771.51 1127.8 770.18 1129.3 768.87 1130.8 767.61 1132.3 766.39 1133.8 765.23 1135.3 764.14 1136.8 763.12 1138.3 762.19 1139.8 761.34 1141.3 760.57 1142.8 759.89 1144.3 759.30 1145.8 758.80 1147.3 758.39 1148.8 758.07 1150.3 757.83 1151.8 757.69 1153.3 757.63 1154.8 757.65 1156.3 757.76 1157.8 757.93 1159.3 758.18 1160.8 758.49 1162.3 758.87 1163.8 759.29 1165.3 759.77 1166.8 760.30 1168.3 760.87 1169.8 761.48 1171.3 762.12 1172.8 762.79 1174.3 763.49 1175.8 764.22 1177.3 764.95 1178.8 765.70 1180.3 766.46 1181.8 767.22 1183.3 767.99 1184.8 768.75 1186.3 769.51 1187.8 770.26 1189.3 771.00 1190.8 771.73 1192.3 772.45 1193.8 773.16 1195.3 773.85 1196.8 774.52 1198.3 775.18 1199.8 775.81 1201.3 776.43 1202.8 777.03 1204.3 777.62 1205.8 778.18 1207.3 778.73 1208.8 779.27 1210.3 779.78 1211.8 780.29 1213.3 780.79 1214.8 781.27 1216.3 781.74 1217.8 782.21 1219.3 782.66 1220.8 783.11 1222.3 783.55 1223.8 783.98 1225.3 784.40 1226.8 784.81 1228.3 785.21 1229.8 785.60 1231.3 785.98 1232.8 786.35 1234.3 786.71 1235.8 787.06 1237.3 787.39 1238.8 787.72 1240.3 788.03 1241.8 788.34 1243.3 788.63 1244.8 788.91 1246.3 789.19 1247.8 789.45 1249.3 789.70 1250.8 789.95 1252.3 790.18 1253.8 790.41 1255.3 790.62 1256.8 790.83 1258.3 791.02 1259.8 791.21 1261.3 791.38 1262.8 791.54 1264.3 791.70 1265.8 791.84 1267.3 791.98 1268.8 792.10 1270.3 792.22 1271.8 792.33 1273.3 792.43 1274.8 792.52 1276.3 792.61 1277.8 792.69 1279.3 792.76 1280.8 792.83 1282.3 792.89 1283.8 792.95 1285.3 793.00 1286.8 793.06 1288.3 793.10 1289.8 793.15 1291.3 793.19 1292.8 793.23 1294.3 793.27 1295.8 793.31 1297.3 793.34 1298.8 793.38 1300.3 793.41 1301.8 793.44 1303.3 793.47 1304.8 793.50 1306.3 793.53 1307.8 793.56 1309.3 793.59 1310.8 793.62 1312.3 793.65 1313.8 793.67 1315.3 793.70 1316.8 793.73 1318.3 793.75 1319.8 793.78 1321.3 793.80 1322.8 793.83 1324.3 793.85 1325.8 793.88 1327.3 793.90 1328.8 793.93 1330.3 793.95 1331.8 793.98 1333.3 794.00 1334.8 794.02 1336.3 794.05 1337.8 794.07 1339.3 794.09 1340.8 794.11 1342.3 794.14 1343.8 794.16 1345.3 794.18 1346.8 794.20 1348.3 794.22 1349.8 794.24 1351.3 794.26 1352.8 794.28 1354.3 794.30 1355.8 794.32 1357.3 794.34 1358.8 794.36 1360.3 794.38 1361.8 794.40 1363.3 794.41 1364.8 794.43 1366.3 794.45 1367.8 794.47 1369.3 794.49 1370.8 794.50 1372.3 794.52 1373.8 794.54 1375.3 794.55 1376.8 794.57 1378.3 794.59 1379.8 794.60 1381.3 794.62 1382.8 794.63 1384.3 794.65 1385.8 794.66 1387.3 794.68 1388.8 794.69 1390.3 794.71 1391.8 794.72 1393.3 794.74 1394.8 794.75 1396.3 794.77 1397.8 794.78 1399.3 794.79 1400.8 794.81 1402.3 794.82 1403.8 794.84 1405.3 794.85 1406.8 794.86 1408.3 794.88 1409.8 794.89 1411.3 794.91 1412.8 794.92 1414.3 794.93 1415.8 794.95 1417.3 794.96 1418.8 794.98 1420.3 794.99 1421.8 795.01 1423.3 795.02 1424.8 795.03 1426.3 795.05 1427.8 795.06 1429.3 795.08 1430.8 795.09 1432.3 795.10 1433.8 795.12 1435.3 795.13 1436.8 795.14 1438.3 795.16 1439.8 795.17 1441.3 795.18 1442.8 795.19 1444.3 795.21 1445.8 795.22 1447.3 795.23 1448.8 795.24 1450.3 795.25 1451.8 795.26 1453.3 795.27 1454.8 795.28 1456.3 795.29 1457.8 795.30 1459.3 795.31 1460.8 795.32 1462.3 795.33 1463.8 795.34 1465.3 795.34 1466.8 795.35 1468.3 795.36 1469.8 795.36 1471.3 795.37 1472.8 795.37 1474.3 795.38 1475.8 795.38 1477.3 795.39 1478.8 795.39 1480.3 795.39 1481.8 795.40 1483.3 795.40 1484.8 795.40 1486.3 795.40 1487.3 795.41" fill="none" stroke="#000000" stroke-width="3.4" stroke-linejoin="round" stroke-linecap="butt"/>
<path d="M887.8 796.01 L889.3 796.00 890.8 796.00 892.3 796.00 893.8 795.99 895.3 795.99 896.8 795.99 898.3 795.98 899.8 795.98 901.3 795.97 902.8 795.96 904.3 795.96 905.8 795.95 907.3 795.94 908.8 795.94 910.3 795.93 911.8 795.92 913.3 795.91 914.8 795.90 916.3 795.89 917.8 795.87 919.3 795.86 920.8 795.85 922.3 795.84 923.8 795.82 925.3 795.81 926.8 795.80 928.3 795.78 929.8 795.77 931.3 795.75 932.8 795.74 934.3 795.72 935.8 795.70 937.3 795.69 938.8 795.67 940.3 795.65 941.8 795.63 943.3 795.62 944.8 795.60 946.3 795.58 947.8 795.56 949.3 795.54 950.8 795.53 952.3 795.51 953.8 795.49 955.3 795.47 956.8 795.45 958.3 795.43 959.8 795.40 961.3 795.38 962.8 795.36 964.3 795.33 965.8 795.31 967.3 795.28 968.8 795.25 970.3 795.22 971.8 795.19 973.3 795.16 974.8 795.13 976.3 795.09 977.8 795.05 979.3 795.01 980.8 794.96 982.3 794.92 983.8 794.86 985.3 794.81 986.8 794.74 988.3 794.67 989.8 794.59 991.3 794.49 992.8 794.38 994.3 794.26 995.8 794.10 997.3 793.93 998.8 793.71 1000.3 793.45 1001.8 793.15 1003.3 792.78 1004.8 792.35 1006.3 791.83 1007.8 791.23 1009.3 790.53 1010.8 789.72 1012.3 788.81 1013.8 787.79 1015.3 786.65 1016.8 785.40 1018.3 784.06 1019.8 782.62 1021.3 781.11 1022.8 779.53 1024.3 777.90 1025.8 776.24 1027.3 774.55 1028.8 772.87 1030.3 771.20 1031.8 769.57 1033.3 767.99 1034.8 766.48 1036.3 765.06 1037.8 763.74 1039.3 762.54 1040.8 761.45 1042.3 760.50 1043.8 759.67 1045.3 758.99 1046.8 758.45 1048.3 758.04 1049.8 757.77 1051.3 757.63 1052.8 757.62 1054.3 757.74 1055.8 757.97 1057.3 758.32 1058.8 758.77 1060.3 759.32 1061.8 759.96 1063.3 760.69 1064.8 761.49 1066.3 762.36 1067.8 763.29 1069.3 764.27 1070.8 765.29 1072.3 766.33 1073.8 767.40 1075.3 768.49 1076.8 769.57 1078.3 770.66 1079.8 771.74 1081.3 772.80 1082.8 773.85 1084.3 774.87 1085.8 775.87 1087.3 776.83 1088.8 777.77 1090.3 778.66 1091.8 779.52 1093.3 780.35 1094.8 781.13 1096.3 781.87 1097.8 782.58 1099.3 783.24 1100.8 783.87 1102.3 784.46 1103.8 785.01 1105.3 785.52 1106.8 786.00 1108.3 786.45 1109.8 786.88 1111.3 787.27 1112.8 787.64 1114.3 787.98 1115.8 788.31 1117.3 788.61 1118.8 788.91 1120.3 789.19 1121.8 789.45 1123.3 789.71 1124.8 789.95 1126.3 790.19 1127.8 790.41 1129.3 790.62 1130.8 790.82 1132.3 791.02 1133.8 791.20 1135.3 791.38 1136.8 791.54 1138.3 791.71 1139.8 791.87 1141.3 792.02 1142.8 792.17 1144.3 792.32 1145.8 792.46 1147.3 792.60 1148.8 792.74 1150.3 792.86 1151.8 792.99 1153.3 793.10 1154.8 793.21 1156.3 793.31 1157.8 793.40 1159.3 793.49 1160.8 793.57 1162.3 793.65 1163.8 793.72 1165.3 793.79 1166.8 793.85 1168.3 793.91 1169.8 793.96 1171.3 794.01 1172.8 794.06 1174.3 794.10 1175.8 794.15 1177.3 794.19 1178.8 794.22 1180.3 794.26 1181.8 794.29 1183.3 794.33 1184.8 794.36 1186.3 794.39 1187.8 794.42 1189.3 794.45 1190.8 794.47 1192.3 794.50 1193.8 794.52 1195.3 794.55 1196.8 794.57 1198.3 794.60 1199.8 794.62 1201.3 794.64 1202.8 794.66 1204.3 794.68 1205.8 794.70 1207.3 794.72 1208.8 794.74 1210.3 794.76 1211.8 794.77 1213.3 794.79 1214.8 794.81 1216.3 794.82 1217.8 794.84 1219.3 794.85 1220.8 794.87 1222.3 794.88 1223.8 794.89 1225.3 794.91 1226.8 794.92 1228.3 794.93 1229.8 794.94 1231.3 794.96 1232.8 794.97 1234.3 794.98 1235.8 794.99 1237.3 795.00 1238.8 795.01 1240.3 795.02 1241.8 795.04 1243.3 795.05 1244.8 795.06 1246.3 795.07 1247.8 795.08 1249.3 795.09 1250.8 795.11 1252.3 795.12 1253.8 795.13 1255.3 795.15 1256.8 795.16 1258.3 795.17 1259.8 795.19 1261.3 795.20 1262.8 795.22 1264.3 795.23 1265.8 795.25 1267.3 795.26 1268.8 795.28 1270.3 795.29 1271.8 795.31 1273.3 795.32 1274.8 795.34 1276.3 795.35 1277.8 795.37 1279.3 795.38 1280.8 795.40 1282.3 795.41 1283.8 795.42 1285.3 795.44 1286.8 795.45 1288.3 795.46 1289.8 795.48 1291.3 795.49 1292.8 795.50 1294.3 795.51 1295.8 795.52 1297.3 795.53 1298.8 795.54 1300.3 795.55 1301.8 795.56 1303.3 795.57 1304.8 795.58 1306.3 795.58 1307.8 795.59 1309.3 795.60 1310.8 795.60 1312.3 795.61 1313.8 795.61 1315.3 795.62 1316.8 795.62 1318.3 795.63 1319.8 795.63 1321.3 795.64 1322.8 795.64 1324.3 795.64 1325.8 795.65 1327.3 795.65 1328.8 795.66 1330.3 795.66 1331.8 795.67 1333.3 795.67 1334.8 795.67 1336.3 795.68 1337.8 795.68 1339.3 795.69 1340.8 795.69 1342.3 795.69 1343.8 795.70 1345.3 795.70 1346.8 795.71 1348.3 795.71 1349.8 795.71 1351.3 795.72 1352.8 795.72 1354.3 795.73 1355.8 795.73 1357.3 795.73 1358.8 795.74 1360.3 795.74 1361.8 795.74 1363.3 795.75 1364.8 795.75 1366.3 795.75 1367.8 795.76 1369.3 795.76 1370.8 795.76 1372.3 795.77 1373.8 795.77 1375.3 795.77 1376.8 795.78 1378.3 795.78 1379.8 795.78 1381.3 795.79 1382.8 795.79 1384.3 795.79 1385.8 795.80 1387.3 795.80 1388.8 795.80 1390.3 795.81 1391.8 795.81 1393.3 795.81 1394.8 795.81 1396.3 795.82 1397.8 795.82 1399.3 795.82 1400.8 795.82 1402.3 795.83 1403.8 795.83 1405.3 795.83 1406.8 795.83 1408.3 795.84 1409.8 795.84 1411.3 795.84 1412.8 795.84 1414.3 795.85 1415.8 795.85 1417.3 795.85 1418.8 795.85 1420.3 795.85 1421.8 795.86 1423.3 795.86 1424.8 795.86 1426.3 795.86 1427.8 795.86 1429.3 795.87 1430.8 795.87 1432.3 795.87 1433.8 795.87 1435.3 795.87 1436.8 795.87 1438.3 795.88 1439.8 795.88 1441.3 795.88 1442.8 795.88 1444.3 795.88 1445.8 795.88 1447.3 795.88 1448.8 795.88 1450.3 795.89 1451.8 795.89 1453.3 795.89 1454.8 795.89 1456.3 795.89 1457.8 795.89 1459.3 795.89 1460.8 795.89 1462.3 795.89 1463.8 795.89 1465.3 795.89 1466.8 795.90 1468.3 795.90 1469.8 795.90 1471.3 795.90 1472.8 795.90 1474.3 795.90 1475.8 795.90 1477.3 795.90 1478.8 795.90 1480.3 795.90 1481.8 795.90 1483.3 795.90 1484.8 795.90 1486.3 795.90 1487.3 795.90" fill="none" stroke="#0aa5e6" stroke-width="3.4" stroke-linejoin="round" stroke-linecap="butt"/>
<line x1="282.7" y1="50.4" x2="282.7" y2="815.4" stroke="#0aa5e6" stroke-width="2.9" stroke-linecap="round" stroke-dasharray="9.1 13.96" stroke-dashoffset="0"/>
<line x1="431.8" y1="50.4" x2="431.8" y2="815.4" stroke="#000000" stroke-width="2.9" stroke-linecap="round" stroke-dasharray="9.1 13.96" stroke-dashoffset="0"/>
<line x1="1051.4" y1="39.4" x2="1051.4" y2="813.9" stroke="#0aa5e6" stroke-width="2.9" stroke-linecap="round" stroke-dasharray="9.1 13.96" stroke-dashoffset="0"/>
<line x1="1187.1" y1="39.4" x2="1187.1" y2="813.9" stroke="#000000" stroke-width="2.9" stroke-linecap="round" stroke-dasharray="9.1 13.96" stroke-dashoffset="0"/>
<g transform="translate(779,108.5) scale(1,1.045)"><text x="0" y="0" class="rl">wtPZ</text></g>
<g transform="translate(779,183.2) scale(1,1.045)"><text x="0" y="0" class="rl"><tspan class="q">O</tspan>2<tspan class="one">1</tspan>6A</text><path transform="translate(-55.44,0.00) scale(0.03500,-0.03500)" d="M393 191 L458 257 L724 29 L647 -49 Z"/><path transform="translate(-8.75,0.00) scale(0.03500,-0.03500)" d="M378 0 V692 H262 C222 662 150 612 78 590 Q63 586 63 572 V474 H223 V0 Z"/></g>
<g transform="translate(779,258.2) scale(1,1.045)"><text x="0" y="0" class="rl"><tspan class="q">O</tspan>2<tspan class="one">1</tspan>7A</text><path transform="translate(-55.44,0.00) scale(0.03500,-0.03500)" d="M393 191 L458 257 L724 29 L647 -49 Z"/><path transform="translate(-8.75,0.00) scale(0.03500,-0.03500)" d="M378 0 V692 H262 C222 662 150 612 78 590 Q63 586 63 572 V474 H223 V0 Z"/></g>
<g transform="translate(779,339.1) scale(1,1.045)"><text x="0" y="0" class="rl">N2<tspan class="one">1</tspan>8A</text><path transform="translate(-9.73,0.00) scale(0.03500,-0.03500)" d="M378 0 V692 H262 C222 662 150 612 78 590 Q63 586 63 572 V474 H223 V0 Z"/></g>
<g transform="translate(779,421.7) scale(1,1.045)"><text x="0" y="0" class="rl">F2<tspan class="one">1</tspan>9V</text><path transform="translate(-10.72,0.00) scale(0.03500,-0.03500)" d="M378 0 V692 H262 C222 662 150 612 78 590 Q63 586 63 572 V474 H223 V0 Z"/></g>
<g transform="translate(779,495.4) scale(1,1.045)"><text x="0" y="0" class="rl">F299V</text></g>
<g transform="translate(779,574.7) scale(1,1.045)"><text x="0" y="0" class="rl">L303A</text></g>
<g transform="translate(779,651.9) scale(1,1.045)"><text x="0" y="0" class="rl">V3<tspan class="one">1</tspan>4A</text><path transform="translate(-10.69,0.00) scale(0.03500,-0.03500)" d="M378 0 V692 H262 C222 662 150 612 78 590 Q63 586 63 572 V474 H223 V0 Z"/></g>
<g transform="translate(779,730.2) scale(1,1.045)"><text x="0" y="0" class="rl">V3<tspan class="one">1</tspan>4I</text><path transform="translate(-2.92,0.00) scale(0.03500,-0.03500)" d="M378 0 V692 H262 C222 662 150 612 78 590 Q63 586 63 572 V474 H223 V0 Z"/></g>
<g transform="translate(779,809.4) scale(1,1.045)"><text x="0" y="0" class="rl">V3<tspan class="one">1</tspan>6A</text><path transform="translate(-10.69,0.00) scale(0.03500,-0.03500)" d="M378 0 V692 H262 C222 662 150 612 78 590 Q63 586 63 572 V474 H223 V0 Z"/></g>
<text x="3.5" y="35" class="pl">(a)</text>
<text x="817.5" y="35.2" class="pl">(b)</text>
<text transform="translate(34.5,439.3) rotate(-90)" class="yl">ΔAbsorbance</text>
</svg>
</body></html>
